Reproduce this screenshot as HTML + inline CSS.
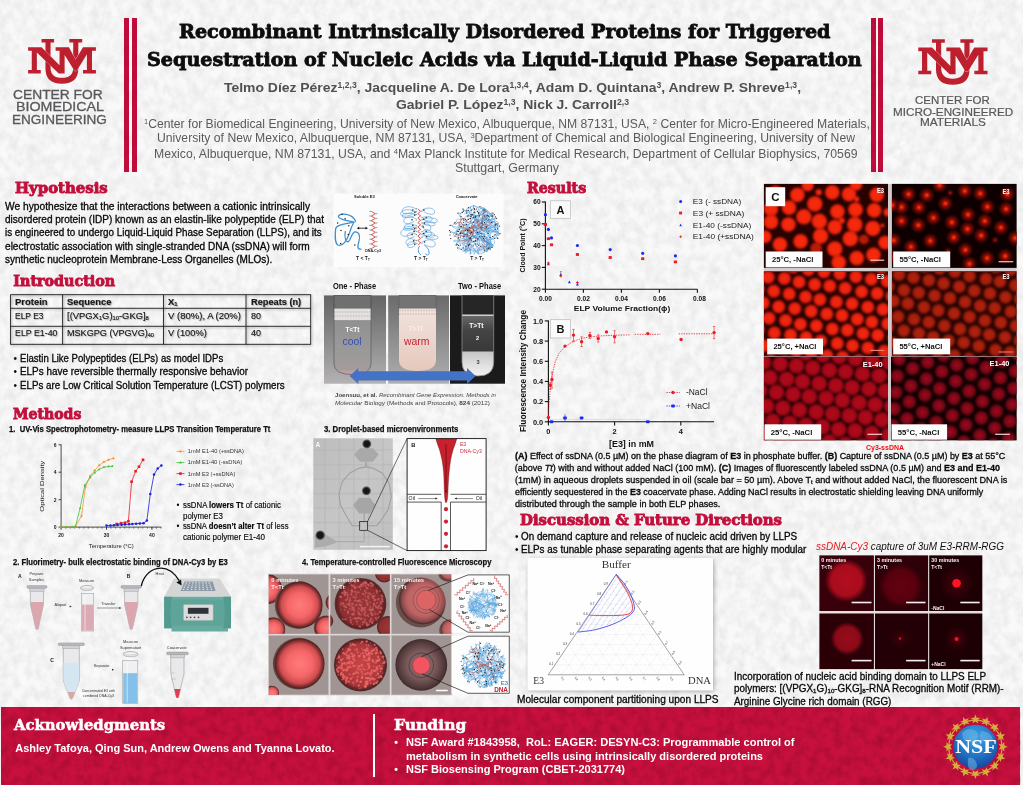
<!DOCTYPE html>
<html lang="en"><head><meta charset="utf-8"><title>Recombinant Intrinsically Disordered Proteins for Triggered Sequestration of Nucleic Acids via Liquid-Liquid Phase Separation</title>
<style>
html,body{margin:0;padding:0}
body{width:1023px;height:785px;overflow:hidden;background:#f9f9f9;position:relative;font-family:"Liberation Sans",sans-serif}
#poster{position:absolute;left:0;top:0;width:1023px;height:785px;overflow:hidden;background:#f9f9f9}
.t{position:absolute;white-space:nowrap;transform-origin:0 50%;z-index:5}
.t sup,.t sub{font-size:62%;line-height:0}
.t sup{vertical-align:0.5em}.t sub{vertical-align:-0.22em}
.a{position:absolute}
svg{position:absolute;overflow:visible}
svg text{font-family:"Liberation Sans",sans-serif}
</style></head><body><div id="poster">
<div class="a" style="left:124.4px;top:18px;width:4.8px;height:153.5px;background:#c40c3c"></div>
<div class="a" style="left:132.2px;top:18px;width:4.8px;height:153.5px;background:#c40c3c"></div>
<div class="a" style="left:870.6px;top:18px;width:5.0px;height:153.5px;background:#c40c3c"></div>
<div class="a" style="left:878.2px;top:18px;width:4.7px;height:153.5px;background:#c40c3c"></div>
<svg style="left:22.0px;top:34.0px" width="80.0" height="56.0" viewBox="0 0 1023 716"><title>UNM</title><g fill="#c1202f">
<path d="M250 65H410V110H365V430Q365 560 510 560Q655 560 655 430V110H605V65H770V110H720V440Q720 635 510 635Q300 635 300 440V110H250Z"/>
<path d="M78 170H250L480 400V215H430V170H600L685 330L780 170H945V215H895V460H945V505H780V460H830V260L700 470H670L545 270V505H470L190 235V460H240V505H78V460H125V215H78Z" stroke="#f7f7f7" stroke-width="9" paint-order="stroke"/>
</g></svg>
<svg style="left:912.3px;top:33.8px" width="81.8" height="57.2" viewBox="0 0 1023 716"><title>UNM</title><g fill="#c1202f">
<path d="M250 65H410V110H365V430Q365 560 510 560Q655 560 655 430V110H605V65H770V110H720V440Q720 635 510 635Q300 635 300 440V110H250Z"/>
<path d="M78 170H250L480 400V215H430V170H600L685 330L780 170H945V215H895V460H945V505H780V460H830V260L700 470H670L545 270V505H470L190 235V460H240V505H78V460H125V215H78Z" stroke="#f7f7f7" stroke-width="9" paint-order="stroke"/>
</g></svg>
<svg style="left:0;top:0" width="1023" height="785"><defs><filter id="paper" x="0" y="0" width="100%" height="100%" color-interpolation-filters="sRGB"><feTurbulence type="fractalNoise" baseFrequency="0.11 0.09" numOctaves="3" seed="7"/><feColorMatrix values="0 0 0 0 0  0 0 0 0 0  0 0 0 0 0  0.125 0 0 0 -0.04"/></filter><filter id="paper2" x="0" y="0" width="100%" height="100%" color-interpolation-filters="sRGB"><feTurbulence type="fractalNoise" baseFrequency="0.12 0.1" numOctaves="3" seed="11"/><feColorMatrix values="0 0 0 0 0.35  0 0 0 0 0  0 0 0 0 0.08  0.5 0 0 0 -0.17"/></filter></defs><rect width="1023" height="785" filter="url(#paper)"/></svg>
<svg style="left:0;top:0" width="1023" height="785"><g stroke="#1c1c1c" stroke-width="0.9" fill="none" style="filter:drop-shadow(1px 1.2px 1px rgba(0,0,0,.35))"><rect x="10.6" y="294.7" width="300.1" height="49.6"/><path d="M62.6 294.7V344.3"/><path d="M163.5 294.7V344.3"/><path d="M246.0 294.7V344.3"/><path d="M10.6 308.3H310.7"/><path d="M10.6 326.3H310.7"/></g></svg>
<svg style="left:0;top:0" width="1023" height="785"><defs><radialGradient id="g1"><stop offset="0" stop-color="#f82c0c"/><stop offset="0.8" stop-color="#f0260c"/><stop offset="1" stop-color="#a01206"/></radialGradient><radialGradient id="g2"><stop offset="0" stop-color="#ff4014"/><stop offset="0.15" stop-color="#e42208"/><stop offset="0.36" stop-color="#8c0e06"/><stop offset="0.65" stop-color="#4a0603"/><stop offset="1" stop-color="#4a0603" stop-opacity="0"/></radialGradient><radialGradient id="g3"><stop offset="0" stop-color="#f42812"/><stop offset="0.7" stop-color="#ea220e"/><stop offset="1" stop-color="#a81408"/></radialGradient><radialGradient id="g4"><stop offset="0" stop-color="#b2220f"/><stop offset="0.7" stop-color="#a61e0c"/><stop offset="1" stop-color="#6a1206"/></radialGradient><radialGradient id="g5"><stop offset="0" stop-color="#b00a1a"/><stop offset="0.8" stop-color="#a40818"/><stop offset="1" stop-color="#6a0510"/></radialGradient><radialGradient id="g6"><stop offset="0" stop-color="#c41024"/><stop offset="0.25" stop-color="#8c0818"/><stop offset="0.85" stop-color="#720616"/><stop offset="1" stop-color="#3a030a"/></radialGradient><clipPath id="cp0"><rect x="763.9" y="183.9" width="124.1" height="84.0"/></clipPath><clipPath id="cp1"><rect x="891.9" y="183.9" width="124.7" height="84.0"/></clipPath><clipPath id="cp2"><rect x="763.9" y="271.3" width="124.1" height="84.7"/></clipPath><clipPath id="cp3"><rect x="891.9" y="271.3" width="124.7" height="84.7"/></clipPath><clipPath id="cp4"><rect x="763.9" y="356.7" width="124.1" height="83.6"/></clipPath><clipPath id="cp5"><rect x="891.0" y="356.7" width="125.6" height="83.6"/></clipPath></defs><rect x="763.9" y="183.9" width="252.7" height="256.4" fill="#d4cccc"/><rect x="763.9" y="183.9" width="124.1" height="84.0" fill="#260301"/><rect x="891.9" y="183.9" width="124.7" height="84.0" fill="#0e0000"/><rect x="763.9" y="271.3" width="124.1" height="84.7" fill="#280301"/><rect x="891.9" y="271.3" width="124.7" height="84.7" fill="#2a0503"/><rect x="763.9" y="356.7" width="124.1" height="83.6" fill="#260205"/><rect x="891.0" y="356.7" width="125.6" height="83.6" fill="#100102"/><g clip-path="url(#cp0)"><g style="filter:blur(1.1px)"><circle cx="797.4" cy="194.8" r="7.6" fill="url(#g1)"/><circle cx="818.7" cy="192.3" r="3.3" fill="url(#g1)"/><circle cx="832.3" cy="192.3" r="7.6" fill="url(#g1)"/><circle cx="849.0" cy="194.2" r="7.6" fill="url(#g1)"/><circle cx="856.8" cy="199.1" r="2.8" fill="url(#g1)"/><circle cx="876.8" cy="194.8" r="7.6" fill="url(#g1)"/><circle cx="807.7" cy="185.2" r="6.3" fill="url(#g1)"/><circle cx="856.1" cy="184.5" r="6.3" fill="url(#g1)"/><circle cx="789.0" cy="207.7" r="7.6" fill="url(#g1)"/><circle cx="814.8" cy="203.9" r="8.0" fill="url(#g1)"/><circle cx="837.4" cy="211.6" r="7.6" fill="url(#g1)"/><circle cx="855.5" cy="209.7" r="7.6" fill="url(#g1)"/><circle cx="874.2" cy="210.3" r="7.6" fill="url(#g1)"/><circle cx="771.0" cy="209.0" r="7.6" fill="url(#g1)"/><circle cx="771.0" cy="221.9" r="7.6" fill="url(#g1)"/><circle cx="788.4" cy="224.5" r="7.6" fill="url(#g1)"/><circle cx="803.9" cy="216.8" r="8.0" fill="url(#g1)"/><circle cx="819.4" cy="221.3" r="8.0" fill="url(#g1)"/><circle cx="834.8" cy="227.1" r="7.6" fill="url(#g1)"/><circle cx="841.9" cy="220.6" r="3.1" fill="url(#g1)"/><circle cx="854.8" cy="224.5" r="8.0" fill="url(#g1)"/><circle cx="872.9" cy="228.4" r="8.0" fill="url(#g1)"/><circle cx="882.6" cy="225.4" r="2.0" fill="url(#g1)"/><circle cx="765.2" cy="236.8" r="6.7" fill="url(#g1)"/><circle cx="780.0" cy="244.5" r="7.6" fill="url(#g1)"/><circle cx="800.6" cy="241.3" r="7.6" fill="url(#g1)"/><circle cx="820.6" cy="236.1" r="8.0" fill="url(#g1)"/><circle cx="850.3" cy="238.7" r="8.0" fill="url(#g1)"/><circle cx="885.2" cy="242.6" r="7.2" fill="url(#g1)"/><circle cx="834.8" cy="249.0" r="8.0" fill="url(#g1)"/><circle cx="856.8" cy="258.1" r="7.6" fill="url(#g1)"/><circle cx="873.5" cy="254.8" r="7.6" fill="url(#g1)"/><circle cx="838.7" cy="262.6" r="7.6" fill="url(#g1)"/><circle cx="775.5" cy="192.3" r="7.0" fill="url(#g1)"/><circle cx="771.6" cy="194.2" r="5.7" fill="url(#g1)"/><circle cx="798.7" cy="257.4" r="5.7" fill="url(#g1)"/><circle cx="887.7" cy="212.3" r="4.4" fill="url(#g1)"/><circle cx="863.9" cy="239.6" r="4.9" fill="#b81a08"/><circle cx="816.1" cy="248.4" r="5.8" fill="#b81a08"/></g></g><g clip-path="url(#cp1)"><g style="filter:blur(0.6px)"><circle cx="908.6" cy="194.2" r="8.2" fill="url(#g2)"/><circle cx="926.7" cy="195.2" r="8.2" fill="url(#g2)"/><circle cx="964.8" cy="191.0" r="8.2" fill="url(#g2)"/><circle cx="980.3" cy="193.5" r="8.2" fill="url(#g2)"/><circle cx="1007.4" cy="194.2" r="8.2" fill="url(#g2)"/><circle cx="901.5" cy="207.1" r="8.2" fill="url(#g2)"/><circle cx="919.0" cy="207.4" r="8.2" fill="url(#g2)"/><circle cx="945.4" cy="203.5" r="8.2" fill="url(#g2)"/><circle cx="987.4" cy="206.8" r="8.2" fill="url(#g2)"/><circle cx="1006.1" cy="209.0" r="8.2" fill="url(#g2)"/><circle cx="891.9" cy="205.2" r="8.2" fill="url(#g2)"/><circle cx="901.5" cy="221.0" r="8.2" fill="url(#g2)"/><circle cx="918.3" cy="225.2" r="8.2" fill="url(#g2)"/><circle cx="933.4" cy="217.8" r="8.2" fill="url(#g2)"/><circle cx="951.9" cy="222.3" r="8.2" fill="url(#g2)"/><circle cx="968.0" cy="214.6" r="8.2" fill="url(#g2)"/><circle cx="984.8" cy="221.0" r="8.2" fill="url(#g2)"/><circle cx="1000.9" cy="227.5" r="8.2" fill="url(#g2)"/><circle cx="967.4" cy="229.0" r="8.2" fill="url(#g2)"/><circle cx="893.8" cy="240.4" r="8.2" fill="url(#g2)"/><circle cx="911.0" cy="246.8" r="8.2" fill="url(#g2)"/><circle cx="930.3" cy="240.9" r="8.2" fill="url(#g2)"/><circle cx="953.8" cy="237.4" r="8.2" fill="url(#g2)"/><circle cx="981.2" cy="235.5" r="8.2" fill="url(#g2)"/><circle cx="1015.1" cy="238.1" r="8.2" fill="url(#g2)"/><circle cx="965.4" cy="249.9" r="8.2" fill="url(#g2)"/><circle cx="987.1" cy="258.1" r="8.2" fill="url(#g2)"/><circle cx="1005.2" cy="256.1" r="8.2" fill="url(#g2)"/><circle cx="969.5" cy="263.9" r="8.2" fill="url(#g2)"/><circle cx="939.6" cy="185.2" r="8.2" fill="url(#g2)"/><circle cx="926.7" cy="262.6" r="8.2" fill="url(#g2)"/><circle cx="895.7" cy="257.4" r="8.2" fill="url(#g2)"/><circle cx="950.3" cy="192.9" r="4.2" fill="url(#g2)" opacity="0.6"/><circle cx="995.1" cy="240.0" r="4.2" fill="url(#g2)" opacity="0.6"/><circle cx="948.0" cy="251.0" r="4.2" fill="url(#g2)" opacity="0.6"/></g></g><g clip-path="url(#cp2)"><g style="filter:blur(0.8px)"><circle cx="881.5" cy="267.2" r="6.7" fill="url(#g3)"/><circle cx="793.2" cy="267.0" r="6.7" fill="url(#g3)"/><circle cx="808.4" cy="269.8" r="6.7" fill="url(#g3)"/><circle cx="824.0" cy="271.9" r="6.7" fill="url(#g3)"/><circle cx="839.8" cy="273.8" r="6.7" fill="url(#g3)"/><circle cx="855.9" cy="276.8" r="6.7" fill="url(#g3)"/><circle cx="871.3" cy="279.3" r="6.7" fill="url(#g3)"/><circle cx="887.1" cy="281.3" r="6.7" fill="url(#g3)"/><circle cx="768.2" cy="277.3" r="6.7" fill="url(#g3)"/><circle cx="784.4" cy="278.4" r="6.7" fill="url(#g3)"/><circle cx="799.1" cy="282.1" r="6.7" fill="url(#g3)"/><circle cx="814.7" cy="284.5" r="6.7" fill="url(#g3)"/><circle cx="829.8" cy="285.9" r="6.7" fill="url(#g3)"/><circle cx="845.2" cy="288.3" r="6.7" fill="url(#g3)"/><circle cx="861.6" cy="291.7" r="6.7" fill="url(#g3)"/><circle cx="877.2" cy="293.5" r="6.7" fill="url(#g3)"/><circle cx="892.1" cy="296.2" r="6.7" fill="url(#g3)"/><circle cx="758.3" cy="289.5" r="6.7" fill="url(#g3)"/><circle cx="773.8" cy="291.2" r="6.7" fill="url(#g3)"/><circle cx="789.3" cy="293.9" r="6.7" fill="url(#g3)"/><circle cx="805.6" cy="296.9" r="6.7" fill="url(#g3)"/><circle cx="819.9" cy="299.6" r="6.7" fill="url(#g3)"/><circle cx="836.4" cy="301.9" r="6.7" fill="url(#g3)"/><circle cx="852.1" cy="303.7" r="6.7" fill="url(#g3)"/><circle cx="867.8" cy="307.1" r="6.7" fill="url(#g3)"/><circle cx="883.1" cy="309.4" r="6.7" fill="url(#g3)"/><circle cx="763.3" cy="302.9" r="6.7" fill="url(#g3)"/><circle cx="778.7" cy="306.8" r="6.7" fill="url(#g3)"/><circle cx="794.8" cy="308.6" r="6.7" fill="url(#g3)"/><circle cx="811.2" cy="311.3" r="6.7" fill="url(#g3)"/><circle cx="826.8" cy="313.9" r="6.7" fill="url(#g3)"/><circle cx="842.1" cy="315.4" r="6.7" fill="url(#g3)"/><circle cx="857.3" cy="319.2" r="6.7" fill="url(#g3)"/><circle cx="871.9" cy="322.0" r="6.7" fill="url(#g3)"/><circle cx="887.7" cy="323.7" r="6.7" fill="url(#g3)"/><circle cx="769.0" cy="318.3" r="6.7" fill="url(#g3)"/><circle cx="785.6" cy="320.4" r="6.7" fill="url(#g3)"/><circle cx="800.4" cy="324.2" r="6.7" fill="url(#g3)"/><circle cx="816.4" cy="325.8" r="6.7" fill="url(#g3)"/><circle cx="832.4" cy="329.0" r="6.7" fill="url(#g3)"/><circle cx="847.4" cy="330.2" r="6.7" fill="url(#g3)"/><circle cx="863.0" cy="333.4" r="6.7" fill="url(#g3)"/><circle cx="877.8" cy="335.2" r="6.7" fill="url(#g3)"/><circle cx="894.0" cy="337.8" r="6.7" fill="url(#g3)"/><circle cx="758.4" cy="329.8" r="6.7" fill="url(#g3)"/><circle cx="774.4" cy="333.0" r="6.7" fill="url(#g3)"/><circle cx="790.6" cy="334.9" r="6.7" fill="url(#g3)"/><circle cx="806.1" cy="337.4" r="6.7" fill="url(#g3)"/><circle cx="820.8" cy="341.0" r="6.7" fill="url(#g3)"/><circle cx="837.3" cy="343.4" r="6.7" fill="url(#g3)"/><circle cx="852.6" cy="345.7" r="6.7" fill="url(#g3)"/><circle cx="867.9" cy="347.9" r="6.7" fill="url(#g3)"/><circle cx="884.4" cy="351.3" r="6.7" fill="url(#g3)"/><circle cx="764.3" cy="345.7" r="6.7" fill="url(#g3)"/><circle cx="779.7" cy="347.5" r="6.7" fill="url(#g3)"/><circle cx="796.4" cy="350.7" r="6.7" fill="url(#g3)"/><circle cx="811.2" cy="352.3" r="6.7" fill="url(#g3)"/><circle cx="827.0" cy="355.8" r="6.7" fill="url(#g3)"/><circle cx="842.6" cy="357.3" r="6.7" fill="url(#g3)"/><circle cx="858.8" cy="360.6" r="6.7" fill="url(#g3)"/><circle cx="770.5" cy="360.6" r="6.7" fill="url(#g3)"/><circle cx="785.3" cy="361.9" r="6.7" fill="url(#g3)"/></g></g><g clip-path="url(#cp3)"><g style="filter:blur(0.8px)"><circle cx="995.8" cy="266.9" r="6.7" fill="url(#g4)"/><circle cx="1010.6" cy="269.6" r="6.7" fill="url(#g4)"/><circle cx="923.9" cy="266.2" r="6.7" fill="url(#g4)"/><circle cx="939.6" cy="268.6" r="6.7" fill="url(#g4)"/><circle cx="954.9" cy="271.7" r="6.7" fill="url(#g4)"/><circle cx="969.5" cy="276.0" r="6.7" fill="url(#g4)"/><circle cx="986.0" cy="278.9" r="6.7" fill="url(#g4)"/><circle cx="1000.0" cy="281.6" r="6.7" fill="url(#g4)"/><circle cx="1015.5" cy="285.3" r="6.7" fill="url(#g4)"/><circle cx="899.0" cy="274.6" r="6.7" fill="url(#g4)"/><circle cx="913.5" cy="277.5" r="6.7" fill="url(#g4)"/><circle cx="928.9" cy="280.3" r="6.7" fill="url(#g4)"/><circle cx="943.6" cy="283.5" r="6.7" fill="url(#g4)"/><circle cx="959.3" cy="286.6" r="6.7" fill="url(#g4)"/><circle cx="974.3" cy="290.8" r="6.7" fill="url(#g4)"/><circle cx="990.0" cy="293.4" r="6.7" fill="url(#g4)"/><circle cx="1005.6" cy="297.2" r="6.7" fill="url(#g4)"/><circle cx="1020.2" cy="299.1" r="6.7" fill="url(#g4)"/><circle cx="888.2" cy="286.6" r="6.7" fill="url(#g4)"/><circle cx="904.0" cy="290.2" r="6.7" fill="url(#g4)"/><circle cx="918.8" cy="292.7" r="6.7" fill="url(#g4)"/><circle cx="934.6" cy="295.6" r="6.7" fill="url(#g4)"/><circle cx="949.9" cy="298.1" r="6.7" fill="url(#g4)"/><circle cx="965.1" cy="302.0" r="6.7" fill="url(#g4)"/><circle cx="980.1" cy="305.8" r="6.7" fill="url(#g4)"/><circle cx="994.7" cy="308.0" r="6.7" fill="url(#g4)"/><circle cx="1010.9" cy="311.7" r="6.7" fill="url(#g4)"/><circle cx="893.5" cy="301.1" r="6.7" fill="url(#g4)"/><circle cx="907.9" cy="303.6" r="6.7" fill="url(#g4)"/><circle cx="923.9" cy="307.2" r="6.7" fill="url(#g4)"/><circle cx="938.3" cy="310.5" r="6.7" fill="url(#g4)"/><circle cx="954.1" cy="313.4" r="6.7" fill="url(#g4)"/><circle cx="969.6" cy="316.8" r="6.7" fill="url(#g4)"/><circle cx="984.9" cy="320.6" r="6.7" fill="url(#g4)"/><circle cx="1000.8" cy="322.6" r="6.7" fill="url(#g4)"/><circle cx="1016.0" cy="325.8" r="6.7" fill="url(#g4)"/><circle cx="898.0" cy="316.7" r="6.7" fill="url(#g4)"/><circle cx="914.0" cy="319.2" r="6.7" fill="url(#g4)"/><circle cx="928.9" cy="322.2" r="6.7" fill="url(#g4)"/><circle cx="944.4" cy="325.7" r="6.7" fill="url(#g4)"/><circle cx="960.0" cy="329.0" r="6.7" fill="url(#g4)"/><circle cx="974.8" cy="331.7" r="6.7" fill="url(#g4)"/><circle cx="989.3" cy="334.6" r="6.7" fill="url(#g4)"/><circle cx="1005.0" cy="337.2" r="6.7" fill="url(#g4)"/><circle cx="1019.9" cy="340.7" r="6.7" fill="url(#g4)"/><circle cx="887.8" cy="327.2" r="6.7" fill="url(#g4)"/><circle cx="903.8" cy="330.8" r="6.7" fill="url(#g4)"/><circle cx="919.0" cy="333.4" r="6.7" fill="url(#g4)"/><circle cx="933.2" cy="337.1" r="6.7" fill="url(#g4)"/><circle cx="948.5" cy="340.7" r="6.7" fill="url(#g4)"/><circle cx="963.8" cy="342.6" r="6.7" fill="url(#g4)"/><circle cx="978.9" cy="346.0" r="6.7" fill="url(#g4)"/><circle cx="995.5" cy="350.0" r="6.7" fill="url(#g4)"/><circle cx="1010.3" cy="352.4" r="6.7" fill="url(#g4)"/><circle cx="892.3" cy="343.1" r="6.7" fill="url(#g4)"/><circle cx="907.6" cy="346.0" r="6.7" fill="url(#g4)"/><circle cx="922.7" cy="349.0" r="6.7" fill="url(#g4)"/><circle cx="938.0" cy="352.0" r="6.7" fill="url(#g4)"/><circle cx="954.2" cy="355.5" r="6.7" fill="url(#g4)"/><circle cx="969.0" cy="358.8" r="6.7" fill="url(#g4)"/><circle cx="984.3" cy="361.8" r="6.7" fill="url(#g4)"/><circle cx="897.5" cy="357.0" r="6.7" fill="url(#g4)"/><circle cx="913.3" cy="359.9" r="6.7" fill="url(#g4)"/></g></g><g clip-path="url(#cp4)"><g style="filter:blur(0.8px)"><circle cx="790.2" cy="350.4" r="8.0" fill="url(#g5)"/><circle cx="806.1" cy="352.9" r="8.0" fill="url(#g5)"/><circle cx="823.1" cy="354.7" r="8.0" fill="url(#g5)"/><circle cx="839.3" cy="356.4" r="8.0" fill="url(#g5)"/><circle cx="855.5" cy="358.7" r="8.0" fill="url(#g5)"/><circle cx="872.1" cy="360.4" r="8.0" fill="url(#g5)"/><circle cx="889.1" cy="362.3" r="8.0" fill="url(#g5)"/><circle cx="763.6" cy="362.2" r="8.0" fill="url(#g5)"/><circle cx="780.2" cy="364.0" r="8.0" fill="url(#g5)"/><circle cx="796.5" cy="365.8" r="8.0" fill="url(#g5)"/><circle cx="812.7" cy="367.9" r="8.0" fill="url(#g5)"/><circle cx="829.4" cy="370.2" r="8.0" fill="url(#g5)"/><circle cx="845.6" cy="371.8" r="8.0" fill="url(#g5)"/><circle cx="862.5" cy="373.9" r="8.0" fill="url(#g5)"/><circle cx="879.1" cy="375.7" r="8.0" fill="url(#g5)"/><circle cx="895.5" cy="377.9" r="8.0" fill="url(#g5)"/><circle cx="769.9" cy="377.6" r="8.0" fill="url(#g5)"/><circle cx="786.7" cy="379.2" r="8.0" fill="url(#g5)"/><circle cx="802.6" cy="381.5" r="8.0" fill="url(#g5)"/><circle cx="819.2" cy="383.4" r="8.0" fill="url(#g5)"/><circle cx="835.9" cy="385.5" r="8.0" fill="url(#g5)"/><circle cx="852.1" cy="387.4" r="8.0" fill="url(#g5)"/><circle cx="869.0" cy="388.9" r="8.0" fill="url(#g5)"/><circle cx="885.4" cy="391.0" r="8.0" fill="url(#g5)"/><circle cx="759.7" cy="390.7" r="8.0" fill="url(#g5)"/><circle cx="776.5" cy="392.3" r="8.0" fill="url(#g5)"/><circle cx="793.1" cy="394.3" r="8.0" fill="url(#g5)"/><circle cx="809.3" cy="396.5" r="8.0" fill="url(#g5)"/><circle cx="826.1" cy="398.2" r="8.0" fill="url(#g5)"/><circle cx="842.4" cy="400.3" r="8.0" fill="url(#g5)"/><circle cx="859.0" cy="402.7" r="8.0" fill="url(#g5)"/><circle cx="875.2" cy="404.6" r="8.0" fill="url(#g5)"/><circle cx="891.8" cy="406.3" r="8.0" fill="url(#g5)"/><circle cx="766.7" cy="406.1" r="8.0" fill="url(#g5)"/><circle cx="782.9" cy="408.0" r="8.0" fill="url(#g5)"/><circle cx="799.4" cy="410.1" r="8.0" fill="url(#g5)"/><circle cx="816.2" cy="412.0" r="8.0" fill="url(#g5)"/><circle cx="832.7" cy="413.8" r="8.0" fill="url(#g5)"/><circle cx="849.3" cy="415.5" r="8.0" fill="url(#g5)"/><circle cx="865.5" cy="417.4" r="8.0" fill="url(#g5)"/><circle cx="882.0" cy="419.9" r="8.0" fill="url(#g5)"/><circle cx="756.9" cy="418.8" r="8.0" fill="url(#g5)"/><circle cx="772.8" cy="421.3" r="8.0" fill="url(#g5)"/><circle cx="789.7" cy="423.2" r="8.0" fill="url(#g5)"/><circle cx="805.9" cy="425.3" r="8.0" fill="url(#g5)"/><circle cx="822.5" cy="426.8" r="8.0" fill="url(#g5)"/><circle cx="838.7" cy="429.4" r="8.0" fill="url(#g5)"/><circle cx="855.2" cy="430.8" r="8.0" fill="url(#g5)"/><circle cx="871.8" cy="433.3" r="8.0" fill="url(#g5)"/><circle cx="888.7" cy="435.2" r="8.0" fill="url(#g5)"/><circle cx="763.1" cy="434.1" r="8.0" fill="url(#g5)"/><circle cx="779.7" cy="436.7" r="8.0" fill="url(#g5)"/><circle cx="796.0" cy="438.3" r="8.0" fill="url(#g5)"/><circle cx="812.5" cy="440.2" r="8.0" fill="url(#g5)"/><circle cx="829.0" cy="442.1" r="8.0" fill="url(#g5)"/><circle cx="845.4" cy="444.4" r="8.0" fill="url(#g5)"/><circle cx="862.0" cy="446.0" r="8.0" fill="url(#g5)"/></g></g><g clip-path="url(#cp5)"><g style="filter:blur(0.8px)"><circle cx="899.1" cy="359.1" r="7.0" fill="url(#g6)"/><circle cx="914.9" cy="352.4" r="7.0" fill="url(#g6)"/><circle cx="897.3" cy="376.1" r="7.0" fill="url(#g6)"/><circle cx="912.7" cy="368.5" r="7.0" fill="url(#g6)"/><circle cx="927.7" cy="362.2" r="7.0" fill="url(#g6)"/><circle cx="943.6" cy="355.2" r="7.0" fill="url(#g6)"/><circle cx="895.8" cy="392.4" r="7.0" fill="url(#g6)"/><circle cx="910.9" cy="385.9" r="7.0" fill="url(#g6)"/><circle cx="926.4" cy="378.9" r="7.0" fill="url(#g6)"/><circle cx="941.8" cy="371.6" r="7.0" fill="url(#g6)"/><circle cx="956.8" cy="365.1" r="7.0" fill="url(#g6)"/><circle cx="972.5" cy="358.0" r="7.0" fill="url(#g6)"/><circle cx="988.4" cy="351.4" r="7.0" fill="url(#g6)"/><circle cx="894.2" cy="408.8" r="7.0" fill="url(#g6)"/><circle cx="909.3" cy="401.9" r="7.0" fill="url(#g6)"/><circle cx="925.0" cy="395.0" r="7.0" fill="url(#g6)"/><circle cx="939.7" cy="388.5" r="7.0" fill="url(#g6)"/><circle cx="955.7" cy="381.2" r="7.0" fill="url(#g6)"/><circle cx="971.1" cy="374.4" r="7.0" fill="url(#g6)"/><circle cx="986.2" cy="367.5" r="7.0" fill="url(#g6)"/><circle cx="1002.1" cy="361.3" r="7.0" fill="url(#g6)"/><circle cx="1017.5" cy="353.9" r="7.0" fill="url(#g6)"/><circle cx="892.6" cy="425.6" r="7.0" fill="url(#g6)"/><circle cx="907.0" cy="418.7" r="7.0" fill="url(#g6)"/><circle cx="922.5" cy="412.5" r="7.0" fill="url(#g6)"/><circle cx="938.9" cy="405.7" r="7.0" fill="url(#g6)"/><circle cx="953.9" cy="398.4" r="7.0" fill="url(#g6)"/><circle cx="969.1" cy="391.2" r="7.0" fill="url(#g6)"/><circle cx="984.6" cy="384.3" r="7.0" fill="url(#g6)"/><circle cx="1000.4" cy="377.9" r="7.0" fill="url(#g6)"/><circle cx="1015.4" cy="371.3" r="7.0" fill="url(#g6)"/><circle cx="890.3" cy="443.1" r="7.0" fill="url(#g6)"/><circle cx="905.5" cy="435.8" r="7.0" fill="url(#g6)"/><circle cx="921.0" cy="429.1" r="7.0" fill="url(#g6)"/><circle cx="936.3" cy="422.3" r="7.0" fill="url(#g6)"/><circle cx="952.4" cy="415.5" r="7.0" fill="url(#g6)"/><circle cx="967.2" cy="408.4" r="7.0" fill="url(#g6)"/><circle cx="982.5" cy="401.5" r="7.0" fill="url(#g6)"/><circle cx="998.6" cy="394.1" r="7.0" fill="url(#g6)"/><circle cx="1013.9" cy="388.2" r="7.0" fill="url(#g6)"/><circle cx="919.7" cy="445.9" r="7.0" fill="url(#g6)"/><circle cx="935.1" cy="438.9" r="7.0" fill="url(#g6)"/><circle cx="950.8" cy="432.1" r="7.0" fill="url(#g6)"/><circle cx="966.0" cy="424.9" r="7.0" fill="url(#g6)"/><circle cx="981.4" cy="418.0" r="7.0" fill="url(#g6)"/><circle cx="996.5" cy="411.3" r="7.0" fill="url(#g6)"/><circle cx="1012.2" cy="404.6" r="7.0" fill="url(#g6)"/><circle cx="963.9" cy="442.0" r="7.0" fill="url(#g6)"/><circle cx="979.8" cy="435.4" r="7.0" fill="url(#g6)"/><circle cx="994.8" cy="428.0" r="7.0" fill="url(#g6)"/><circle cx="1010.0" cy="421.2" r="7.0" fill="url(#g6)"/><circle cx="993.4" cy="444.6" r="7.0" fill="url(#g6)"/><circle cx="1008.6" cy="438.5" r="7.0" fill="url(#g6)"/></g></g><rect x="765.7" y="251.5" width="56.8" height="15.9" fill="#fdfdfd"/><text x="771.9" y="262.1" font-size="7.6" font-weight="700" fill="#111" textLength="41.5" lengthAdjust="spacingAndGlyphs">25°C, -NaCl</text><rect x="893.2" y="251.5" width="57.0" height="15.9" fill="#fdfdfd"/><text x="899.4" y="262.1" font-size="7.6" font-weight="700" fill="#111" textLength="41.5" lengthAdjust="spacingAndGlyphs">55°C, -NaCl</text><rect x="767.2" y="338.6" width="55.8" height="15.7" fill="#fdfdfd"/><text x="773.4" y="349.2" font-size="7.6" font-weight="700" fill="#111" textLength="43.0" lengthAdjust="spacingAndGlyphs">25°C, +NaCl</text><rect x="893.2" y="338.6" width="57.0" height="15.7" fill="#fdfdfd"/><text x="899.4" y="349.2" font-size="7.6" font-weight="700" fill="#111" textLength="43.0" lengthAdjust="spacingAndGlyphs">55°C, +NaCl</text><rect x="764.6" y="424.3" width="56.6" height="15.4" fill="#fdfdfd"/><text x="770.8" y="434.7" font-size="7.6" font-weight="700" fill="#111" textLength="41.5" lengthAdjust="spacingAndGlyphs">25°C, -NaCl</text><rect x="891.6" y="424.3" width="55.5" height="15.4" fill="#fdfdfd"/><text x="897.8" y="434.7" font-size="7.6" font-weight="700" fill="#111" textLength="41.5" lengthAdjust="spacingAndGlyphs">55°C, -NaCl</text><rect x="765.7" y="187.2" width="19.5" height="19" fill="#fdfdfd"/><text x="775.5" y="201" font-size="11.5" font-weight="700" text-anchor="middle" fill="#111">C</text><text x="880.5" y="193.0" font-size="6.8" font-weight="700" text-anchor="middle" fill="#fff" textLength="7.2" lengthAdjust="spacingAndGlyphs">E3</text><text x="1006.0" y="193.6" font-size="6.8" font-weight="700" text-anchor="middle" fill="#fff" textLength="7.2" lengthAdjust="spacingAndGlyphs">E3</text><text x="880.5" y="278.5" font-size="6.8" font-weight="700" text-anchor="middle" fill="#fff" textLength="7.2" lengthAdjust="spacingAndGlyphs">E3</text><text x="1006.0" y="279.0" font-size="6.8" font-weight="700" text-anchor="middle" fill="#fff" textLength="7.2" lengthAdjust="spacingAndGlyphs">E3</text><text x="872.7" y="366.7" font-size="6.8" font-weight="700" text-anchor="middle" fill="#fff" textLength="19.8" lengthAdjust="spacingAndGlyphs">E1-40</text><text x="999.5" y="366.2" font-size="6.8" font-weight="700" text-anchor="middle" fill="#fff" textLength="19.8" lengthAdjust="spacingAndGlyphs">E1-40</text><path d="M870.5 260.2H884.2" stroke="#f4d0cc" stroke-width="1.2"/><path d="M998.6 261.7H1013.2" stroke="#f0c8c4" stroke-width="1.2"/><path d="M870.5 350.4H884.2" stroke="#e88078" stroke-width="1.2"/><path d="M998.6 352.0H1013.2" stroke="#e07068" stroke-width="1.2"/><path d="M867.5 434.3H882.1" stroke="#f0d0d0" stroke-width="1.2"/><path d="M995.2 434.3H1009.9" stroke="#f0d8d8" stroke-width="1.2"/></svg>
<svg style="left:0;top:0" width="1023" height="785"><g stroke="#111" stroke-width="1.1" fill="none"><path d="M545.4 201.5V289.2H697.4"/><path d="M545.4 202.0h-3.6"/><path d="M545.4 223.8h-3.6"/><path d="M545.4 245.6h-3.6"/><path d="M545.4 267.4h-3.6"/><path d="M545.4 289.2h-3.6"/><path d="M545.4 289.2v3.6"/><path d="M583.4 289.2v3.6"/><path d="M621.4 289.2v3.6"/><path d="M659.4 289.2v3.6"/><path d="M697.4 289.2v3.6"/></g><g font-size="6.6" font-weight="700" fill="#111" text-anchor="end"><text x="540.6" y="204.4">60</text><text x="540.6" y="226.2">50</text><text x="540.6" y="248.0">40</text><text x="540.6" y="269.8">30</text><text x="540.6" y="291.6">20</text></g><g font-size="6.6" font-weight="700" fill="#111" text-anchor="middle"><text x="545.4" y="300.6">0.00</text><text x="583.4" y="300.6">0.02</text><text x="621.4" y="300.6">0.04</text><text x="659.4" y="300.6">0.06</text><text x="699.4" y="300.6">0.08</text><text x="622" y="310.8" font-size="6.9" textLength="96.5" lengthAdjust="spacingAndGlyphs">ELP Volume Fraction(ϕ)</text><text transform="translate(525.2 245.5) rotate(-90)" font-size="6.9" font-weight="700" textLength="54" lengthAdjust="spacingAndGlyphs">Cloud Point (°C)</text></g><rect x="550.3" y="200.8" width="20.3" height="17.8" fill="#fafafa" stroke="#b8b8b8" stroke-width="0.7"/><text x="560.5" y="214" font-size="11" font-weight="700" text-anchor="middle" fill="#111">A</text><rect x="543.8" y="223.1" width="3.2" height="2.8" fill="#ee1c25"/><rect x="546.8" y="237.3" width="3.2" height="2.8" fill="#ee1c25"/><rect x="549.9" y="243.4" width="3.2" height="2.8" fill="#ee1c25"/><rect x="575.8" y="253.1" width="3.2" height="2.8" fill="#ee1c25"/><rect x="608.6" y="256.1" width="3.2" height="2.8" fill="#ee1c25"/><rect x="641.1" y="257.3" width="3.2" height="2.8" fill="#ee1c25"/><rect x="673.8" y="260.5" width="3.2" height="2.8" fill="#ee1c25"/><circle cx="545.4" cy="214.7" r="1.6" fill="#1f2cf0"/><circle cx="548.4" cy="229.4" r="1.6" fill="#1f2cf0"/><circle cx="551.5" cy="237.9" r="1.6" fill="#1f2cf0"/><circle cx="577.4" cy="245.5" r="1.6" fill="#1f2cf0"/><circle cx="610.2" cy="249.6" r="1.6" fill="#1f2cf0"/><circle cx="642.7" cy="253.3" r="1.6" fill="#1f2cf0"/><circle cx="675.4" cy="255.8" r="1.6" fill="#1f2cf0"/><path d="M548.4 262.7l1.5 2.6h-3z" fill="#1f2cf0"/><path d="M560.8 273.2l1.5 2.6h-3z" fill="#1f2cf0"/><path d="M569.4 280.6l1.5 2.6h-3z" fill="#1f2cf0"/><path d="M577.4 283.0l1.5 2.6h-3z" fill="#1f2cf0"/><path d="M547.0 263.1h2.8M548.4 261.7v2.8" stroke="#ee1c25" stroke-width="1"/><path d="M559.4 276.0h2.8M560.8 274.6v2.8" stroke="#ee1c25" stroke-width="1"/><path d="M576.0 282.6h2.8M577.4 281.2v2.8" stroke="#ee1c25" stroke-width="1"/><path d="M560.8 271.6v3.5M559.8 271.6h2" stroke="#334" stroke-width="0.5"/><circle cx="680.6" cy="201.5" r="1.5" fill="#1f2cf0"/><rect x="679.1" y="211.6" width="3" height="2.8" fill="#ee1c25"/><path d="M680.6 223.8l1.3 2.4h-2.6z" fill="#1f2cf0"/><path d="M679.4 236.7h2.4M680.6 235.5v2.4" stroke="#ee1c25" stroke-width="0.9"/><g font-size="7.2" fill="#222"><text x="692.8" y="204.0" textLength="48.5" lengthAdjust="spacingAndGlyphs">E3 (- ssDNA)</text><text x="692.8" y="215.5" textLength="51.5" lengthAdjust="spacingAndGlyphs">E3 (+ ssDNA)</text><text x="692.8" y="227.7" textLength="58.5" lengthAdjust="spacingAndGlyphs">E1-40 (-ssDNA)</text><text x="692.8" y="239.2" textLength="61.0" lengthAdjust="spacingAndGlyphs">E1-40 (+ssDNA)</text></g></svg>
<svg style="left:0;top:0" width="1023" height="785"><g stroke="#111" stroke-width="1.1" fill="none"><path d="M548.4 320.4V421.8H714.0"/><path d="M548.4 320.9h-3.6"/><path d="M548.4 341.1h-3.6"/><path d="M548.4 361.3h-3.6"/><path d="M548.4 381.4h-3.6"/><path d="M548.4 401.6h-3.6"/><path d="M548.4 421.8h-3.6"/><path d="M548.4 421.8v3.6"/><path d="M614.6 421.8v3.6"/><path d="M680.8 421.8v3.6"/></g><g font-size="7.4" font-weight="700" fill="#111" text-anchor="end"><text x="543.2" y="323.6">1.0</text><text x="543.2" y="343.8">0.8</text><text x="543.2" y="364.0">0.6</text><text x="543.2" y="384.1">0.4</text><text x="543.2" y="404.3">0.2</text><text x="543.2" y="424.5">0.0</text></g><g font-size="7.4" font-weight="700" fill="#111" text-anchor="middle"><text x="548.4" y="434.2">0</text><text x="614.6" y="434.2">2</text><text x="680.8" y="434.2">4</text><text x="631.5" y="447.3" font-size="8.2" textLength="45" lengthAdjust="spacingAndGlyphs">[E3] in mM</text><text transform="translate(525.6 371) rotate(-90)" font-size="8.2" font-weight="700" textLength="122" lengthAdjust="spacingAndGlyphs">Fluorescence Intensity Change</text></g><rect x="550.3" y="319.7" width="20.3" height="18.3" fill="#fafafa" stroke="#b8b8b8" stroke-width="0.7"/><text x="560.5" y="333" font-size="11" font-weight="700" text-anchor="middle" fill="#111">B</text><polyline points="548.4,417.4 549.1,402.8 550.3,388.1 552.0,375.9 555.2,361.7 558.9,353.4 565.0,346.5 573.5,341.2 583.3,338.0 595.5,336.3 607.8,335.5 620.0,335.1 629.7,334.8" fill="none" stroke="#ee1c25" stroke-width="0.8" stroke-dasharray="1.4 1.1"/><path d="M634.6 334.3H660.3" stroke="#ee1c25" stroke-width="0.8" stroke-dasharray="1.4 1.1"/><path d="M678.6 333.8H714.1" stroke="#ee1c25" stroke-width="0.8" stroke-dasharray="1.4 1.1"/><path d="M548.4 419.4H646.9" stroke="#999" stroke-width="0.5" stroke-dasharray="1 1"/><path d="M552.0 372.2V388.1M550.8 372.2h2.4M550.8 388.1h2.4" stroke="#ee1c25" stroke-width="0.6"/><path d="M573.5 329.4V341.7M572.3 329.4h2.4M572.3 341.7h2.4" stroke="#ee1c25" stroke-width="0.6"/><path d="M581.6 336.8V346.5M580.4 336.8h2.4M580.4 346.5h2.4" stroke="#ee1c25" stroke-width="0.6"/><path d="M589.9 332.4V338.7M588.7 332.4h2.4M588.7 338.7h2.4" stroke="#ee1c25" stroke-width="0.6"/><path d="M598.2 334.8V342.1M597.0 334.8h2.4M597.0 342.1h2.4" stroke="#ee1c25" stroke-width="0.6"/><path d="M614.6 330.7V342.9M613.4 330.7h2.4M613.4 342.9h2.4" stroke="#ee1c25" stroke-width="0.6"/><path d="M714.1 326.5V338.7M712.9 326.5h2.4M712.9 338.7h2.4" stroke="#ee1c25" stroke-width="0.6"/><path d="M550.3 382.7V389.3M549.1 382.7h2.4M549.1 389.3h2.4" stroke="#ee1c25" stroke-width="0.6"/><circle cx="548.4" cy="417.4" r="1.7" fill="#ee1c25"/><circle cx="550.3" cy="385.2" r="1.7" fill="#ee1c25"/><circle cx="552.0" cy="379.5" r="1.7" fill="#ee1c25"/><circle cx="565.0" cy="346.1" r="1.7" fill="#ee1c25"/><circle cx="573.5" cy="335.1" r="1.7" fill="#ee1c25"/><circle cx="581.6" cy="341.7" r="1.7" fill="#ee1c25"/><circle cx="589.9" cy="335.5" r="1.7" fill="#ee1c25"/><circle cx="598.2" cy="338.5" r="1.7" fill="#ee1c25"/><circle cx="606.5" cy="331.9" r="1.7" fill="#ee1c25"/><circle cx="614.6" cy="336.8" r="1.7" fill="#ee1c25"/><circle cx="647.8" cy="333.6" r="1.7" fill="#ee1c25"/><circle cx="681.1" cy="339.5" r="1.7" fill="#ee1c25"/><circle cx="714.1" cy="332.6" r="1.7" fill="#ee1c25"/><path d="M565.0 414.2V421.8" stroke="#1f2cf0" stroke-width="0.6"/><rect x="549.7" y="420.3" width="3.6" height="3" rx="0.8" fill="#1f2cf0"/><rect x="563.2" y="416.4" width="3.6" height="3" rx="0.8" fill="#1f2cf0"/><rect x="579.8" y="416.4" width="3.6" height="3" rx="0.8" fill="#1f2cf0"/><rect x="646.0" y="420.3" width="3.6" height="3" rx="0.8" fill="#1f2cf0"/><path d="M666.4 392.5H679.8" stroke="#ee1c25" stroke-width="0.8" stroke-dasharray="1.4 1.1"/><circle cx="673" cy="392.5" r="1.7" fill="#ee1c25"/><path d="M666.4 406H679.8" stroke="#1f2cf0" stroke-width="0.8" stroke-dasharray="1.4 1.1"/><rect x="671.2" y="404.5" width="3.6" height="3" rx="0.8" fill="#1f2cf0"/><text x="686" y="395.4" font-size="8.2" fill="#222" textLength="21.5" lengthAdjust="spacingAndGlyphs">-NaCl</text><text x="686" y="408.9" font-size="8.2" fill="#222" textLength="24" lengthAdjust="spacingAndGlyphs">+NaCl</text></svg>
<svg style="left:0;top:0" width="1023" height="785"><rect x="333.5" y="193.5" width="170" height="73.6" fill="#fcfcfc"/><path d="M355.5 221C352 213 340 213 338.5 216C337.5 219.5 350 221 354 222C347 224 336 224 335.6 229C335 236 334.5 243 338 245C343 247 347 240 349.5 233C351 228 352.5 224.5 354 222M345.3 231.5C344 237 346 243 348.5 241.5C351 239.5 351.5 232.5 355 231.8C359 231.5 360.5 236 359 241C357.5 246 357 249.5 361 249.2" fill="none" stroke="#3b8fd0" stroke-width="1.25" stroke-linecap="round"/><circle cx="342.0" cy="214.2" r="0.75" fill="#222"/><circle cx="345.1" cy="218.8" r="0.75" fill="#222"/><circle cx="337.6" cy="223.1" r="0.75" fill="#222"/><circle cx="348.7" cy="225.7" r="0.75" fill="#222"/><circle cx="341.0" cy="230.6" r="0.75" fill="#222"/><circle cx="348.3" cy="234.5" r="0.75" fill="#222"/><circle cx="340.7" cy="243.5" r="0.75" fill="#222"/><circle cx="354.8" cy="245.0" r="0.75" fill="#222"/><path d="M358 228.2h8.6" stroke="#111" stroke-width="0.8"/><path d="M356.8 228.2l2.4-1.4v2.8zM367.9 228.2l-2.4-1.4v2.8z" fill="#111"/><path d="M371.3 211.4 L375.3 213.7 L371.3 216.1 L375.3 218.4 L371.3 220.7 L375.3 223.0 L371.3 225.3 L375.3 227.7 L371.3 230.0 L375.3 232.3 L371.3 234.7 L375.3 237.0 L371.3 239.3 L375.3 241.6 L371.3 243.9 L375.3 246.3 L371.3 248.6" fill="none" stroke="#cf4a46" stroke-width="0.9"/><path d="M369.4 211.4h1.8" stroke="#222" stroke-width="0.45"/><path d="M375.6 213.7h1.8" stroke="#222" stroke-width="0.45"/><path d="M369.4 216.0h1.8" stroke="#222" stroke-width="0.45"/><path d="M375.6 218.4h1.8" stroke="#222" stroke-width="0.45"/><path d="M369.4 220.7h1.8" stroke="#222" stroke-width="0.45"/><path d="M375.6 223.0h1.8" stroke="#222" stroke-width="0.45"/><path d="M369.4 225.3h1.8" stroke="#222" stroke-width="0.45"/><path d="M375.6 227.6h1.8" stroke="#222" stroke-width="0.45"/><path d="M369.4 230.0h1.8" stroke="#222" stroke-width="0.45"/><path d="M375.6 232.3h1.8" stroke="#222" stroke-width="0.45"/><path d="M369.4 234.6h1.8" stroke="#222" stroke-width="0.45"/><path d="M375.6 236.9h1.8" stroke="#222" stroke-width="0.45"/><path d="M369.4 239.2h1.8" stroke="#222" stroke-width="0.45"/><path d="M375.6 241.6h1.8" stroke="#222" stroke-width="0.45"/><path d="M369.4 243.9h1.8" stroke="#222" stroke-width="0.45"/><path d="M375.6 246.2h1.8" stroke="#222" stroke-width="0.45"/><path d="M369.4 248.5h1.8" stroke="#222" stroke-width="0.45"/><g font-weight="700" text-anchor="middle" fill="#1a1a1a"><text x="373.1" y="252.4" font-size="3.6" textLength="15.8" lengthAdjust="spacingAndGlyphs">DNA-Cy3</text><text x="364.4" y="198" font-size="4" textLength="20.9" lengthAdjust="spacingAndGlyphs">Soluble E3</text><text x="466.6" y="197.6" font-size="4" textLength="21.9" lengthAdjust="spacingAndGlyphs">Coacervate</text><text x="362.9" y="260.3" font-size="5" fill="#222">T &lt; T<tspan font-size="3" dy="1">T</tspan></text><text x="420.8" y="260.3" font-size="5" fill="#222">T &gt; T<tspan font-size="3" dy="1">T</tspan></text><text x="477.0" y="260.3" font-size="5" fill="#222">T &gt; T<tspan font-size="3" dy="1">T</tspan></text></g><path d="M417.8 209.1 L420.6 211.3 L417.8 213.6 L420.6 215.8 L417.8 218.1 L420.6 220.3 L417.8 222.6 L420.6 224.8 L417.8 227.1 L420.6 229.3 L417.8 231.5 L420.6 233.8 L417.8 236.0 L420.6 238.3 L417.8 240.5 L420.6 242.8 L417.8 245.0" fill="none" stroke="#cf4a46" stroke-width="0.9"/><path d="M416.8 209.4c-7.3 -4.9 -14.6 -2.4 -14.6 1.5s5.8 3.9 11.7 0.3" fill="none" stroke="#4a9ad8" stroke-width="0.6"/><circle cx="412.7" cy="210.1" r="0.8" fill="#222"/><path d="M417.2 208.5h-1.4" stroke="#333" stroke-width="0.4"/><path d="M416.8 212.2c-8.0 -4.4 -16.1 -2.2 -16.1 1.3s6.4 3.6 12.9 0.3" fill="none" stroke="#4a9ad8" stroke-width="0.6"/><circle cx="414.9" cy="212.2" r="0.8" fill="#222"/><path d="M417.2 211.4h-1.4" stroke="#333" stroke-width="0.4"/><path d="M421.6 210.4c6.5 -4.2 13.1 -2.1 13.1 1.3s-5.2 3.4 -10.5 0.3" fill="none" stroke="#4a9ad8" stroke-width="0.6"/><circle cx="423.9" cy="210.1" r="0.8" fill="#222"/><path d="M421.2 211.4h1.4" stroke="#333" stroke-width="0.4"/><path d="M416.8 214.9c-7.4 -3.0 -14.7 -1.5 -14.7 0.9s5.9 2.4 11.8 0.3" fill="none" stroke="#4a9ad8" stroke-width="0.6"/><circle cx="414.8" cy="215.1" r="0.8" fill="#222"/><path d="M417.2 214.3h-1.4" stroke="#333" stroke-width="0.4"/><path d="M421.6 218.2c5.3 -3.1 10.6 -1.6 10.6 0.9s-4.2 2.5 -8.5 0.3" fill="none" stroke="#4a9ad8" stroke-width="0.6"/><circle cx="426.2" cy="217.8" r="0.8" fill="#222"/><path d="M421.2 217.2h1.4" stroke="#333" stroke-width="0.4"/><path d="M416.8 219.5c-6.5 -4.5 -13.0 -2.3 -13.0 1.4s5.2 3.6 10.4 0.3" fill="none" stroke="#4a9ad8" stroke-width="0.6"/><circle cx="412.0" cy="219.8" r="0.8" fill="#222"/><path d="M417.2 220.1h-1.4" stroke="#333" stroke-width="0.4"/><path d="M421.6 219.8c7.9 -3.4 15.7 -1.7 15.7 1.0s-6.3 2.7 -12.6 0.3" fill="none" stroke="#4a9ad8" stroke-width="0.6"/><circle cx="423.7" cy="219.3" r="0.8" fill="#222"/><path d="M421.2 220.1h1.4" stroke="#333" stroke-width="0.4"/><path d="M421.6 223.4c6.8 -2.5 13.5 -1.3 13.5 0.8s-5.4 2.0 -10.8 0.3" fill="none" stroke="#4a9ad8" stroke-width="0.6"/><circle cx="424.3" cy="223.1" r="0.8" fill="#222"/><path d="M421.2 223.0h1.4" stroke="#333" stroke-width="0.4"/><path d="M416.8 225.9c-6.3 -3.4 -12.6 -1.7 -12.6 1.0s5.0 2.8 10.1 0.3" fill="none" stroke="#4a9ad8" stroke-width="0.6"/><circle cx="412.8" cy="225.2" r="0.8" fill="#222"/><path d="M417.2 225.9h-1.4" stroke="#333" stroke-width="0.4"/><path d="M421.6 226.6c4.6 -4.7 9.2 -2.4 9.2 1.4s-3.7 3.8 -7.3 0.3" fill="none" stroke="#4a9ad8" stroke-width="0.6"/><circle cx="423.2" cy="227.1" r="0.8" fill="#222"/><path d="M421.2 225.9h1.4" stroke="#333" stroke-width="0.4"/><path d="M416.8 227.9c-6.7 -2.5 -13.3 -1.3 -13.3 0.8s5.3 2.0 10.7 0.3" fill="none" stroke="#4a9ad8" stroke-width="0.6"/><circle cx="414.7" cy="228.6" r="0.8" fill="#222"/><path d="M417.2 228.8h-1.4" stroke="#333" stroke-width="0.4"/><path d="M416.8 231.4c-8.0 -5.3 -16.0 -2.7 -16.0 1.6s6.4 4.3 12.8 0.3" fill="none" stroke="#4a9ad8" stroke-width="0.6"/><circle cx="414.1" cy="231.4" r="0.8" fill="#222"/><path d="M417.2 231.7h-1.4" stroke="#333" stroke-width="0.4"/><path d="M421.6 232.3c4.9 -4.7 9.8 -2.4 9.8 1.4s-3.9 3.8 -7.8 0.3" fill="none" stroke="#4a9ad8" stroke-width="0.6"/><circle cx="426.1" cy="231.6" r="0.8" fill="#222"/><path d="M421.2 231.7h1.4" stroke="#333" stroke-width="0.4"/><path d="M416.8 234.8c-4.8 -3.5 -9.7 -1.8 -9.7 1.1s3.9 2.8 7.7 0.3" fill="none" stroke="#4a9ad8" stroke-width="0.6"/><circle cx="412.1" cy="234.6" r="0.8" fill="#222"/><path d="M417.2 234.6h-1.4" stroke="#333" stroke-width="0.4"/><path d="M421.6 234.2c6.5 -3.4 13.1 -1.7 13.1 1.0s-5.2 2.7 -10.5 0.3" fill="none" stroke="#4a9ad8" stroke-width="0.6"/><circle cx="423.7" cy="233.6" r="0.8" fill="#222"/><path d="M421.2 234.6h1.4" stroke="#333" stroke-width="0.4"/><path d="M421.6 236.6c8.2 -3.0 16.5 -1.5 16.5 0.9s-6.6 2.4 -13.2 0.3" fill="none" stroke="#4a9ad8" stroke-width="0.6"/><circle cx="426.6" cy="236.7" r="0.8" fill="#222"/><path d="M421.2 237.5h1.4" stroke="#333" stroke-width="0.4"/><path d="M416.8 241.1c-5.4 -4.3 -10.8 -2.1 -10.8 1.3s4.3 3.4 8.6 0.3" fill="none" stroke="#4a9ad8" stroke-width="0.6"/><circle cx="413.7" cy="240.9" r="0.8" fill="#222"/><path d="M417.2 240.4h-1.4" stroke="#333" stroke-width="0.4"/><path d="M416.8 244.0c-4.6 -4.0 -9.2 -2.0 -9.2 1.2s3.7 3.2 7.4 0.3" fill="none" stroke="#4a9ad8" stroke-width="0.6"/><circle cx="414.8" cy="244.3" r="0.8" fill="#222"/><path d="M417.2 243.3h-1.4" stroke="#333" stroke-width="0.4"/><path d="M421.6 242.5c6.9 -4.9 13.7 -2.4 13.7 1.5s-5.5 3.9 -11.0 0.3" fill="none" stroke="#4a9ad8" stroke-width="0.6"/><circle cx="424.6" cy="242.0" r="0.8" fill="#222"/><path d="M421.2 243.3h1.4" stroke="#333" stroke-width="0.4"/><path d="M419.5 246c-2 3-1.5 7 1.5 9M424.5 245.5c2 1 5 4 4.5 8c-.5 2-3 2-3.5 0" fill="none" stroke="#3b8fd0" stroke-width="0.9"/><path d="M483.4 225.3 L482.1 224.4 L481.6 222.9 L482.4 221.5 L483.1 220.0 L483.7 218.6 L484.9 217.5 L486.0 216.4 L486.7 214.9 L487.1 213.3 L486.5 211.9 L485.5 210.6 L486.0 209.0 L485.0 210.3 L484.0 211.5 L483.4 213.0 L483.9 214.5 L485.1 215.6 L485.5 217.2 L484.9 218.7 L484.6 220.3 L483.6 221.5 L482.2 222.2 L480.6 222.3 L479.0 221.9 L477.8 220.9 L476.4 220.2 L475.3 219.0 L473.8 218.3 L472.3 217.7 L471.3 216.5 L470.8 215.0 L469.7 213.7 L469.9 212.2 L470.5 210.7 L471.2 209.3 L470.6 207.8 L470.2 206.2 L470.2 207.8 L470.3 209.4 L469.6 210.8 L468.5 212.0 L467.0 212.5 L465.6 213.3 L464.1 213.8" fill="none" stroke="#4597d6" stroke-width="0.5" opacity="0.9"/><path d="M480.7 238.6 L479.2 239.1 L477.7 238.6 L476.5 237.6 L476.4 236.0 L477.6 234.9 L478.7 233.8 L479.9 232.7 L480.4 231.2 L481.6 230.2 L483.2 230.3 L484.8 230.4 L486.3 231.0 L487.4 232.2 L488.0 233.7 L489.3 234.6 L490.0 236.0 L490.4 237.5 L490.5 239.1 L490.7 240.7 L490.6 242.3 L489.7 243.7 L488.5 244.8 L487.0 245.3 L486.5 246.8 L486.9 248.4 L487.4 249.9 L487.6 251.5 L487.1 250.0 L486.9 248.4 L485.7 247.4 L484.3 246.5 L482.8 246.3 L481.5 247.3 L481.2 248.9 L481.3 250.5 L482.3 251.7 L483.9 252.2 L485.3 251.5 L486.6 250.6 L487.8 249.5 L489.1 248.6 L490.6 248.0 L491.6 246.8 L493.2 246.5" fill="none" stroke="#4597d6" stroke-width="0.5" opacity="0.9"/><path d="M462.3 228.0 L462.3 229.6 L463.3 230.9 L463.4 232.5 L463.9 234.0 L465.4 234.7 L466.6 235.6 L468.2 235.5 L469.8 235.4 L471.4 235.0 L472.9 234.7 L474.2 235.7 L474.7 237.2 L475.5 238.6 L475.3 240.2 L474.8 241.7 L474.6 243.3 L475.4 244.7 L476.0 246.2 L476.4 247.7 L475.5 249.1 L473.9 249.3 L472.3 249.3 L470.8 249.6 L469.4 248.9 L467.9 249.5 L467.2 251.0 L466.3 252.3 L465.2 253.5 L466.0 252.1 L467.6 251.6 L468.9 250.7 L470.2 249.7 L470.8 248.2 L470.8 246.6 L472.0 245.6 L473.0 244.3 L474.6 244.2 L475.9 245.2 L476.9 246.4 L478.4 247.0 L478.9 248.5 L479.4 250.0 L480.1 251.5 L481.2 252.6" fill="none" stroke="#4597d6" stroke-width="0.5" opacity="0.9"/><path d="M486.9 230.2 L486.6 231.8 L487.4 233.2 L487.8 234.7 L488.4 236.2 L489.5 237.4 L489.9 238.9 L489.3 240.4 L490.1 241.8 L490.9 243.2 L492.1 244.3 L492.2 245.9 L491.6 247.3 L490.2 246.5 L488.6 246.6 L487.5 245.4 L486.1 244.7 L484.8 243.8 L483.5 242.9 L482.4 241.7 L481.6 240.3 L481.4 238.7 L480.3 237.6 L479.8 236.1 L478.8 234.8 L477.9 233.5 L476.6 232.5 L475.1 232.1 L473.6 231.5 L472.1 231.1 L470.5 231.0 L469.0 230.3 L467.8 229.3 L466.2 229.6 L464.9 230.6 L463.7 231.7 L462.1 231.6 L460.9 230.5 L459.8 229.4 L458.2 229.5 L456.8 228.8 L455.2 228.3 L453.8 227.6 L452.7 226.5 L451.9 225.1" fill="none" stroke="#4597d6" stroke-width="0.5" opacity="0.9"/><path d="M474.3 240.7 L473.4 242.0 L471.8 242.4 L470.8 243.6 L470.2 245.1 L468.8 246.0 L468.5 247.5 L467.4 248.7 L465.9 249.3 L464.6 250.2 L463.6 251.4 L465.0 250.6 L465.6 249.1 L466.1 247.6 L466.8 246.2 L467.4 244.7 L467.6 243.1 L466.8 241.7 L466.3 240.2 L466.6 238.6 L465.8 237.3 L464.4 236.5 L463.6 235.1 L463.7 233.5 L464.2 232.0 L463.5 230.6 L463.3 229.0 L464.4 227.8 L466.0 227.9 L467.4 228.6 L468.9 228.0 L470.5 228.4 L472.0 228.0 L473.6 228.0 L474.7 229.2 L475.3 230.7 L476.7 231.5 L478.2 231.7 L479.2 233.0 L480.7 233.5 L482.2 234.2 L483.7 234.7 L485.2 234.3 L486.8 234.2 L487.8 232.9" fill="none" stroke="#4597d6" stroke-width="0.5" opacity="0.9"/><path d="M465.0 227.4 L466.5 226.8 L468.1 226.5 L469.6 226.9 L470.6 228.1 L472.2 228.5 L473.8 228.7 L475.3 228.4 L476.9 228.4 L478.5 228.3 L479.7 229.4 L481.1 230.2 L482.6 229.7 L484.2 229.8 L485.6 229.0 L487.1 228.5 L488.6 228.0 L490.1 228.7 L491.5 229.5 L492.6 230.6 L494.1 231.1 L495.6 231.7 L497.2 231.7 L498.7 232.3 L497.2 232.9 L496.1 234.0 L495.3 235.4 L494.0 236.3 L493.4 237.8 L492.3 239.0 L490.9 239.8 L490.4 241.3 L489.5 242.7 L489.8 244.3 L490.9 245.3 L491.9 246.6 L491.3 245.1 L490.7 243.7 L489.6 242.5 L489.3 240.9 L487.9 240.1 L486.9 238.8 L485.4 238.6 L484.0 239.4 L482.4 238.9" fill="none" stroke="#4597d6" stroke-width="0.5" opacity="0.9"/><path d="M479.3 223.5 L479.3 225.1 L478.8 226.6 L477.6 227.6 L477.2 229.2 L476.5 230.6 L476.2 232.2 L476.6 233.7 L477.5 235.1 L478.1 236.5 L479.1 237.8 L480.3 238.9 L481.9 239.0 L483.1 240.0 L484.1 241.2 L484.3 242.8 L484.6 244.4 L484.0 245.8 L483.3 247.3 L482.3 248.6 L481.3 249.8 L479.8 250.4 L478.4 251.3 L478.0 252.8 L478.9 254.2 L477.8 253.0 L477.7 251.4 L477.5 249.8 L478.0 248.3 L477.2 247.0 L476.3 245.6 L476.5 244.0 L477.0 242.5 L477.3 240.9 L477.5 239.4 L476.7 238.0 L475.2 237.5 L473.6 237.9 L472.2 238.6 L470.9 239.6 L469.3 239.6 L468.0 240.5 L467.3 241.9 L467.1 243.5 L467.9 244.9" fill="none" stroke="#4597d6" stroke-width="0.5" opacity="0.9"/><path d="M469.5 223.8 L468.6 225.1 L467.0 225.4 L465.5 226.1 L464.0 225.5 L462.8 224.5 L462.0 223.1 L461.0 221.8 L461.3 220.2 L460.6 218.8 L460.3 217.3 L459.4 215.9 L459.0 214.4 L459.3 212.8 L460.7 213.6 L462.2 213.0 L463.2 211.8 L463.2 210.2 L462.9 208.7 L463.8 210.0 L465.1 210.9 L466.4 211.8 L468.0 212.0 L469.3 212.9 L470.2 214.3 L471.7 214.9 L473.3 214.7 L474.9 215.1 L475.7 216.5 L476.2 218.0 L476.8 219.5 L476.1 220.9 L476.8 222.3 L478.3 222.9 L479.4 224.0 L480.7 225.0 L482.2 224.8 L483.8 224.7 L484.9 225.9 L486.0 227.1 L487.3 228.0 L488.9 227.8 L489.9 226.5 L491.4 226.2 L493.0 225.8" fill="none" stroke="#4597d6" stroke-width="0.5" opacity="0.9"/><path d="M485.7 219.2 L486.9 220.3 L488.3 221.1 L489.8 220.7 L491.0 219.7 L492.1 218.5 L492.6 217.0 L492.0 215.5 L490.4 215.1 L489.7 213.6 L488.4 212.8 L487.1 211.9 L485.6 211.3 L484.1 210.6 L482.6 211.0 L481.3 212.0 L480.9 213.5 L480.4 215.0 L479.0 215.8 L477.5 216.3 L476.0 215.8 L474.4 216.1 L473.6 217.5 L472.8 218.8 L471.9 220.2 L470.9 221.4 L470.2 222.9 L469.2 224.1 L467.8 224.8 L466.2 224.4 L464.6 224.6 L463.0 224.8 L461.6 224.2 L460.0 224.3 L458.8 225.4 L458.1 226.9 L458.6 228.4 L458.3 230.0 L457.1 231.1 L456.4 232.5 L456.8 234.1 L458.1 235.0 L459.7 235.2 L461.0 234.3 L462.2 233.2" fill="none" stroke="#4597d6" stroke-width="0.5" opacity="0.9"/><path d="M476.7 224.0 L477.9 225.1 L479.5 225.0 L480.8 224.1 L481.7 222.8 L482.2 221.3 L481.7 219.8 L480.9 218.4 L479.7 217.3 L479.1 215.8 L478.6 214.3 L479.2 212.8 L480.3 211.6 L481.7 211.0 L483.3 210.6 L484.8 210.0 L486.3 210.3 L487.8 211.0 L488.2 212.5 L488.0 214.1 L487.2 215.5 L487.1 217.1 L486.2 218.4 L485.5 219.9 L485.9 221.4 L487.2 222.3 L488.8 222.2 L490.3 221.5 L491.8 221.2 L493.2 220.4 L493.6 218.8 L494.7 217.6 L494.0 219.1 L494.6 220.6 L496.0 221.4 L497.5 221.8 L498.5 223.0 L498.3 224.6 L497.7 226.1 L498.0 227.7 L498.4 229.3 L499.2 230.7 L497.8 231.5 L496.3 232.1 L494.7 231.7" fill="none" stroke="#4597d6" stroke-width="0.5" opacity="0.9"/><path d="M480.5 220.3 L479.0 220.9 L477.4 221.0 L475.8 221.1 L474.6 220.2 L474.0 218.7 L472.6 217.9 L471.0 217.6 L470.0 216.3 L469.0 215.1 L467.8 214.0 L466.5 213.1 L465.8 211.7 L466.3 210.1 L466.9 208.7 L468.4 208.1 L470.0 207.9 L471.0 206.6 L472.6 206.1 L474.0 205.4 L473.2 206.8 L473.6 208.3 L473.8 209.9 L474.1 211.5 L473.3 212.9 L472.8 214.4 L473.1 216.0 L474.0 217.3 L475.4 218.0 L476.8 218.8 L478.3 219.3 L479.5 220.4 L481.0 220.8 L482.6 220.8 L484.1 220.2 L485.5 220.8 L486.4 222.2 L486.2 223.8 L485.7 225.3 L485.5 226.9 L486.2 228.3 L486.1 229.9 L486.0 231.5 L487.1 232.7 L488.6 233.0" fill="none" stroke="#4597d6" stroke-width="0.5" opacity="0.9"/><path d="M464.8 235.8 L465.4 234.4 L466.7 233.4 L467.6 232.1 L468.9 231.2 L470.5 231.2 L472.1 231.6 L473.2 232.8 L474.5 233.6 L476.0 233.1 L477.6 232.7 L479.2 232.5 L480.4 231.4 L481.4 230.2 L481.9 228.7 L481.1 227.3 L479.9 226.2 L478.5 225.4 L477.1 224.7 L476.0 223.5 L474.7 222.6 L474.7 221.0 L475.5 219.6 L477.0 219.1 L478.6 219.2 L480.1 219.8 L481.5 220.4 L482.4 221.7 L483.7 222.8 L484.7 224.0 L485.2 225.5 L485.7 227.1 L486.8 228.3 L488.4 228.4 L489.6 227.5 L490.6 226.2 L491.8 225.1 L493.3 224.7 L494.9 224.8 L496.5 224.4 L497.9 225.2 L496.3 225.1 L495.1 226.2 L493.5 226.6 L491.9 226.5" fill="none" stroke="#4597d6" stroke-width="0.5" opacity="0.9"/><path d="M486.2 240.3 L486.6 238.8 L487.5 237.5 L488.7 236.4 L489.2 234.9 L489.8 233.4 L491.2 232.6 L492.1 231.3 L493.7 231.1 L495.3 231.0 L496.8 230.7 L497.5 229.2 L497.9 227.7 L497.3 226.1 L497.3 224.6 L498.2 223.3 L496.6 223.5 L495.1 224.1 L494.4 225.5 L493.2 226.5 L491.9 227.5 L490.3 227.8 L488.9 228.6 L487.3 228.2 L485.8 228.6 L484.5 229.6 L483.7 231.0 L482.6 232.1 L481.0 232.3 L479.8 233.4 L478.4 234.1 L476.8 234.1 L475.4 234.9 L474.9 236.4 L474.3 237.9 L472.9 238.7 L471.4 238.5 L470.0 237.7 L468.5 237.2 L466.9 236.8 L465.4 236.3 L464.6 234.9 L463.3 234.0 L461.8 233.5 L460.3 232.8" fill="none" stroke="#4597d6" stroke-width="0.5" opacity="0.9"/><path d="M486.5 222.6 L487.9 221.8 L489.3 221.2 L490.9 220.9 L492.1 219.8 L492.4 218.2 L493.1 216.8 L494.1 215.5 L492.6 216.1 L492.0 217.6 L491.4 219.1 L490.1 219.9 L488.5 219.6 L486.9 219.7 L485.5 218.9 L484.4 217.8 L484.4 216.2 L483.6 214.8 L483.4 213.2 L484.2 211.7 L484.8 210.3 L484.4 208.8 L483.2 207.7 L481.6 207.5 L480.3 208.4 L479.8 209.9 L479.0 211.3 L479.2 212.9 L478.8 214.4 L477.7 215.6 L476.2 216.1 L474.7 215.7 L473.4 214.7 L473.1 213.2 L474.1 211.9 L475.3 210.9 L476.9 211.1 L478.3 210.3 L478.7 208.7 L478.0 207.3 L476.6 206.5 L475.1 206.0 L473.5 205.6 L473.2 207.1 L474.1 208.5" fill="none" stroke="#4597d6" stroke-width="0.5" opacity="0.9"/><path d="M472.4 231.5 L472.2 233.1 L471.8 234.6 L471.7 236.2 L471.1 237.7 L470.6 239.2 L469.1 239.8 L467.6 239.1 L466.1 239.6 L464.5 239.4 L463.1 238.6 L461.6 238.4 L460.2 239.2 L458.8 240.0 L457.7 241.2 L456.3 241.9 L454.8 241.3 L453.2 241.1 L454.6 240.4 L456.2 240.2 L457.7 240.9 L459.0 241.8 L460.6 242.1 L462.2 241.9 L463.6 242.7 L464.9 243.6 L466.5 243.2 L468.0 242.6 L469.0 241.4 L470.4 240.5 L470.7 239.0 L470.5 237.4 L469.2 236.4 L467.9 235.5 L467.8 233.9 L467.8 232.3 L467.5 230.7 L468.4 229.4 L468.2 227.8 L467.5 226.3 L467.8 224.7 L466.7 223.5 L466.3 222.0 L465.5 220.6 L463.9 220.3" fill="none" stroke="#4597d6" stroke-width="0.5" opacity="0.9"/><path d="M468.6 229.4 L467.4 230.4 L467.3 232.0 L468.0 233.4 L467.3 234.9 L466.8 236.4 L466.4 238.0 L467.2 239.4 L468.4 240.4 L468.6 242.0 L468.1 243.5 L467.7 245.1 L468.5 246.5 L469.6 247.7 L469.9 249.2 L470.4 250.7 L470.7 252.3 L469.9 253.7 L470.5 252.2 L469.8 250.7 L468.3 250.3 L467.2 249.2 L465.8 248.2 L465.4 246.7 L465.9 245.2 L467.3 244.4 L468.5 243.3 L470.0 243.6 L471.3 244.5 L471.7 246.1 L473.0 247.1 L473.5 248.6 L474.3 250.0 L473.8 251.5 L472.3 252.0 L471.2 253.2 L470.3 254.6 L470.6 253.0 L470.2 251.4 L470.3 249.8 L469.4 248.5 L467.9 248.0 L466.3 247.5 L464.9 248.3 L463.7 249.3" fill="none" stroke="#4597d6" stroke-width="0.5" opacity="0.9"/><path d="M484.7 240.0 L486.2 240.6 L487.1 241.9 L486.8 243.5 L486.2 245.0 L486.6 246.5 L487.7 247.7 L487.6 249.3 L486.5 250.4 L486.5 252.0 L485.6 250.7 L484.3 249.8 L483.4 248.4 L482.3 247.3 L481.9 245.8 L480.6 244.8 L479.4 243.8 L479.3 242.2 L479.9 240.7 L479.2 239.2 L477.8 238.5 L476.6 237.4 L475.2 236.6 L473.7 236.2 L472.1 235.8 L470.6 235.2 L470.1 233.7 L468.9 232.7 L467.9 231.4 L466.4 230.7 L465.1 229.9 L464.1 228.6 L462.6 228.2 L461.0 227.8 L459.7 226.9 L458.2 227.3 L456.6 226.9 L455.0 226.8 L453.4 226.7 L451.9 226.2 L450.8 225.1 L452.4 225.4 L453.7 224.5 L454.7 223.3 L455.5 221.8" fill="none" stroke="#4597d6" stroke-width="0.5" opacity="0.9"/><path d="M462.8 225.3 L461.2 225.4 L460.0 224.3 L458.6 223.6 L457.3 222.7 L456.3 221.5 L456.6 219.9 L457.9 219.0 L459.4 219.4 L461.0 219.2 L462.2 218.2 L463.8 218.4 L465.1 217.4 L466.2 216.2 L467.7 215.7 L469.3 215.2 L470.7 214.5 L472.2 214.9 L473.8 214.8 L475.4 214.8 L476.7 215.7 L478.3 215.6 L479.9 215.1 L481.4 214.6 L482.9 214.3 L484.1 213.2 L485.2 212.0 L485.1 210.4 L484.0 209.3 L482.6 208.5 L481.0 208.7 L479.8 207.7 L478.3 207.3 L476.7 207.5 L475.2 206.9 L474.1 205.7 L473.6 207.2 L472.8 208.6 L472.3 210.1 L471.4 211.5 L471.2 213.1 L471.7 214.6 L471.2 216.1 L470.8 217.6 L469.5 218.5" fill="none" stroke="#4597d6" stroke-width="0.5" opacity="0.9"/><path d="M466.7 221.3 L467.9 222.4 L468.9 223.7 L470.5 223.6 L471.6 222.4 L473.1 222.0 L474.7 221.6 L476.2 222.3 L477.6 221.6 L479.2 221.2 L480.1 219.9 L481.4 219.0 L482.9 218.5 L484.5 218.2 L485.8 217.3 L487.4 217.5 L488.7 216.7 L489.1 215.1 L490.0 213.8 L489.7 212.2 L488.4 211.3 L487.1 210.4 L486.0 209.2 L485.0 210.4 L485.0 212.0 L484.7 213.6 L483.5 214.7 L483.3 216.3 L482.4 217.6 L482.2 219.2 L482.5 220.7 L483.9 221.5 L484.9 222.8 L485.8 224.1 L485.6 225.7 L485.5 227.3 L486.3 228.6 L487.7 229.4 L489.3 229.5 L490.4 230.7 L491.9 231.3 L493.4 230.6 L494.6 229.7 L494.9 228.1 L494.9 226.5" fill="none" stroke="#4597d6" stroke-width="0.5" opacity="0.9"/><path d="M477.8 234.2 L479.3 234.9 L480.7 235.5 L481.9 236.6 L483.1 237.6 L484.2 238.8 L484.3 240.4 L485.3 241.7 L486.7 242.4 L488.1 243.1 L489.5 244.0 L489.9 245.5 L490.3 247.1 L490.1 248.7 L489.6 247.1 L490.1 245.6 L489.9 244.0 L488.8 242.9 L487.3 242.3 L485.7 242.2 L484.6 241.1 L483.1 240.5 L481.8 239.6 L480.7 238.4 L480.9 236.8 L480.0 235.5 L479.8 233.9 L479.2 232.4 L477.8 231.7 L476.6 230.7 L476.2 229.1 L476.0 227.5 L474.7 226.5 L474.6 224.9 L474.2 223.4 L474.1 221.8 L474.7 220.3 L474.6 218.7 L474.3 217.2 L473.5 215.8 L471.9 215.3 L470.5 216.0 L468.9 216.1 L467.4 216.5 L465.9 215.9" fill="none" stroke="#4597d6" stroke-width="0.5" opacity="0.9"/><path d="M463.9 225.4 L463.3 226.9 L462.1 228.0 L460.5 227.9 L458.9 227.9 L457.6 228.9 L456.5 230.0 L456.1 231.6 L457.1 232.9 L457.8 234.3 L459.0 235.4 L460.6 235.4 L462.2 235.4 L463.3 236.6 L463.3 238.2 L463.3 239.8 L464.4 240.9 L464.8 242.5 L466.1 243.4 L467.3 244.4 L468.9 244.3 L470.0 245.5 L471.0 246.7 L472.2 247.9 L473.7 248.4 L475.1 249.2 L475.5 250.7 L476.1 252.2 L477.4 253.2 L478.6 254.2 L478.1 252.6 L478.0 251.0 L479.1 249.8 L479.7 248.3 L481.0 247.4 L482.3 246.5 L482.8 245.0 L482.1 243.6 L482.7 242.1 L483.1 240.5 L483.3 238.9 L484.6 238.0 L486.0 237.2 L487.4 236.4 L488.4 235.1" fill="none" stroke="#4597d6" stroke-width="0.5" opacity="0.9"/><path d="M480.9 224.3 L479.4 223.9 L477.9 223.1 L476.4 223.4 L475.2 224.5 L473.7 225.1 L472.1 225.0 L470.8 226.0 L469.3 225.7 L467.8 226.4 L467.0 227.8 L467.4 229.3 L467.8 230.9 L468.0 232.4 L467.1 233.8 L467.2 235.4 L466.7 236.9 L467.4 238.4 L467.8 239.9 L468.8 241.2 L470.1 242.1 L471.7 241.8 L473.3 242.1 L474.7 241.3 L476.3 241.3 L477.8 240.8 L479.4 240.6 L481.0 240.8 L482.6 240.9 L483.7 242.0 L483.8 243.6 L484.5 245.1 L485.6 246.3 L485.7 247.9 L486.7 249.1 L488.0 250.1 L487.9 248.5 L486.9 247.3 L486.2 245.8 L486.2 244.2 L486.9 242.8 L486.2 241.4 L486.7 239.9 L486.7 238.3 L487.7 237.0" fill="none" stroke="#4597d6" stroke-width="0.5" opacity="0.9"/><path d="M478.8 228.4 L480.1 227.4 L480.9 226.0 L482.3 225.2 L483.6 224.3 L485.2 224.0 L486.8 224.0 L488.1 224.9 L489.7 224.8 L491.3 224.7 L492.2 223.3 L493.7 222.7 L495.3 222.7 L496.6 223.7 L498.1 223.4 L496.6 223.9 L495.7 225.2 L495.7 226.8 L494.4 227.8 L492.8 227.9 L491.4 228.7 L489.8 228.5 L488.3 228.0 L486.7 227.7 L485.3 227.1 L483.7 227.2 L482.3 228.0 L481.9 229.5 L481.2 231.0 L480.2 232.2 L478.8 233.0 L477.4 233.8 L476.1 234.7 L475.2 236.0 L473.8 236.8 L472.7 237.9 L471.3 238.8 L469.8 239.0 L468.2 239.4 L466.6 239.2 L465.4 240.2 L464.7 241.7 L463.3 242.4 L462.6 243.9 L463.1 245.4" fill="none" stroke="#4597d6" stroke-width="0.5" opacity="0.9"/><path d="M462.7 237.1 L464.0 237.9 L465.4 238.7 L466.2 240.1 L467.1 241.4 L468.0 242.8 L469.5 243.0 L470.8 244.1 L471.4 245.5 L471.6 247.1 L471.0 248.6 L470.0 249.8 L468.6 250.7 L467.0 250.5 L465.5 250.0 L464.2 250.9 L462.6 250.7 L461.7 249.3 L460.3 248.6 L458.8 249.1 L459.2 247.5 L459.2 245.9 L458.1 244.7 L456.6 244.2 L455.2 245.1 L456.3 243.8 L457.7 243.1 L458.9 242.1 L459.4 240.6 L460.8 239.9 L462.4 240.3 L463.7 241.1 L465.3 241.3 L466.9 241.1 L468.5 240.8 L470.0 240.3 L470.6 238.8 L471.0 237.3 L472.1 236.1 L473.6 235.4 L475.1 235.8 L476.5 236.6 L477.4 237.9 L477.2 239.5 L476.0 240.6" fill="none" stroke="#4597d6" stroke-width="0.5" opacity="0.9"/><path d="M482.1 228.3 L481.7 226.8 L482.3 225.3 L483.4 224.2 L484.5 222.9 L484.7 221.3 L484.4 219.8 L483.4 218.5 L483.0 217.0 L483.3 215.4 L482.7 213.9 L482.2 212.4 L482.7 210.8 L482.8 209.2 L481.8 208.0 L481.0 206.6 L481.4 208.1 L482.3 209.4 L483.9 209.6 L485.2 208.7 L485.2 210.3 L486.5 211.3 L487.6 212.4 L487.6 214.0 L486.6 215.3 L486.2 216.9 L484.7 217.6 L484.2 219.1 L484.7 220.7 L486.2 221.3 L487.7 220.6 L489.2 220.2 L490.8 220.6 L492.4 220.9 L493.5 222.0 L494.8 222.9 L495.1 224.5 L495.1 226.1 L494.9 227.7 L495.7 229.1 L496.6 230.4 L497.7 231.5 L498.0 233.1 L499.0 234.4 L497.6 233.5" fill="none" stroke="#4597d6" stroke-width="0.5" opacity="0.9"/><path d="M464.1 231.3 L463.9 232.9 L463.5 234.5 L464.2 235.9 L464.2 237.5 L464.6 239.1 L465.4 240.4 L465.2 242.0 L464.3 243.3 L463.8 244.9 L463.0 246.2 L463.1 247.8 L463.2 249.4 L464.3 250.5 L465.2 251.9 L466.0 250.5 L465.6 249.0 L465.3 247.4 L464.8 245.9 L464.2 244.4 L462.8 243.6 L461.3 243.3 L459.7 243.2 L458.4 244.3 L457.0 244.9 L455.9 246.1 L456.5 244.6 L456.5 243.0 L457.6 241.8 L458.2 240.4 L457.7 238.8 L456.8 237.5 L457.1 236.0 L456.3 234.6 L455.1 233.5 L453.5 233.2 L452.2 232.3 L450.8 231.6 L452.2 232.2 L453.8 232.3 L455.3 232.9 L456.8 233.4 L457.7 234.7 L459.3 235.0 L460.8 234.5" fill="none" stroke="#4597d6" stroke-width="0.5" opacity="0.9"/><path d="M469.4 224.5 L470.1 223.1 L470.4 221.5 L470.7 219.9 L471.9 218.8 L473.2 217.9 L474.4 216.8 L475.8 216.1 L477.4 215.8 L478.9 215.2 L480.2 214.3 L480.8 212.9 L481.2 211.3 L482.5 210.4 L483.4 209.1 L484.0 207.6 L483.2 209.0 L483.4 210.6 L483.7 212.1 L483.3 213.7 L484.2 215.0 L485.7 215.5 L486.9 216.5 L487.0 218.1 L488.3 219.2 L489.9 219.1 L491.4 219.3 L493.0 219.0 L494.6 219.1 L495.7 217.9 L494.8 219.3 L494.3 220.8 L493.4 222.1 L492.4 223.3 L490.8 223.7 L489.3 223.2 L488.0 222.3 L487.4 220.8 L486.1 219.9 L484.7 219.0 L483.2 218.6 L481.7 217.9 L480.2 218.3 L478.8 217.6 L477.2 217.2" fill="none" stroke="#4597d6" stroke-width="0.5" opacity="0.9"/><path d="M481.9 241.5 L483.2 240.6 L484.8 240.7 L485.7 242.0 L487.3 242.5 L488.5 243.6 L489.1 245.0 L489.9 246.4 L491.1 247.4 L492.7 247.6 L492.2 246.1 L491.4 244.7 L490.1 243.7 L489.0 242.5 L487.8 241.5 L486.9 240.2 L485.8 239.0 L484.4 238.3 L482.9 238.9 L481.3 238.6 L479.9 237.8 L478.3 237.8 L476.7 237.8 L475.1 237.5 L473.5 237.2 L472.5 236.0 L472.3 234.4 L471.5 233.0 L470.3 231.9 L469.4 230.6 L467.9 230.1 L467.2 228.6 L465.7 228.1 L464.2 227.6 L462.6 227.8 L461.0 227.9 L459.9 229.1 L459.6 230.6 L458.2 231.4 L456.6 231.3 L455.2 232.1 L453.8 232.9 L453.5 234.5 L454.3 235.9 L455.6 236.7" fill="none" stroke="#4597d6" stroke-width="0.5" opacity="0.9"/><path d="M486.9 225.7 L488.1 226.8 L489.6 226.9 L490.6 228.2 L490.8 229.8 L490.0 231.2 L488.5 231.8 L486.9 231.6 L485.4 232.1 L484.4 233.3 L484.0 234.9 L484.8 236.3 L486.3 236.9 L487.3 238.1 L488.4 239.3 L490.0 239.2 L491.5 238.6 L493.1 239.0 L494.1 240.2 L494.6 241.7 L494.4 243.3 L493.2 244.3 L491.9 245.2 L490.8 246.4 L489.6 247.4 L488.8 248.9 L489.3 250.4 L488.3 249.1 L486.8 248.8 L485.4 249.7 L484.6 251.0 L484.1 252.5 L482.6 253.2 L481.2 253.9 L479.6 253.6 L478.2 252.7 L477.1 251.6 L475.6 251.0 L474.1 250.6 L472.5 250.7 L470.9 250.4 L469.8 249.3 L469.4 247.7 L468.5 246.4 L467.0 245.9" fill="none" stroke="#4597d6" stroke-width="0.5" opacity="0.9"/><path d="M462.5 232.5 L463.9 233.3 L465.5 233.6 L467.0 233.2 L468.1 232.0 L469.4 231.2 L470.9 230.6 L472.1 229.4 L473.6 228.9 L474.6 227.6 L476.2 227.4 L477.2 226.2 L478.5 225.3 L480.0 224.8 L481.6 225.0 L483.2 225.2 L484.4 226.3 L485.2 227.7 L485.6 229.2 L486.9 230.1 L488.5 230.2 L490.1 230.1 L491.7 230.2 L492.9 229.2 L494.5 228.8 L495.9 228.1 L497.2 227.2 L498.6 226.4 L497.1 227.0 L495.6 227.5 L494.0 227.6 L492.4 227.3 L490.8 227.5 L489.5 228.4 L488.2 229.3 L486.7 229.9 L485.1 230.2 L484.0 231.3 L483.0 232.6 L481.9 233.8 L481.6 235.3 L482.4 236.7 L481.9 238.3 L482.8 239.6 L483.7 240.9" fill="none" stroke="#4597d6" stroke-width="0.5" opacity="0.9"/><path d="M469.7 218.7 L470.4 220.1 L471.4 221.4 L471.3 222.9 L472.3 224.2 L473.6 225.1 L474.5 226.4 L475.1 227.9 L476.6 228.4 L478.2 228.2 L479.5 227.4 L481.1 227.6 L482.7 227.7 L484.2 227.1 L485.7 226.5 L487.1 225.8 L487.9 224.4 L489.0 223.3 L490.5 222.7 L492.0 222.0 L493.5 221.5 L495.1 221.7 L496.0 223.0 L496.6 224.5 L498.1 225.0 L496.5 225.0 L495.0 225.5 L493.4 225.5 L491.8 225.8 L490.2 225.8 L488.7 225.5 L487.3 224.7 L486.8 223.1 L487.0 221.5 L487.7 220.1 L488.8 219.0 L489.4 217.5 L490.2 216.2 L491.3 215.0 L491.3 213.4 L490.6 214.9 L490.0 216.3 L489.3 217.8 L488.1 218.8 L486.5 219.2" fill="none" stroke="#4597d6" stroke-width="0.5" opacity="0.9"/><path d="M474.0 241.4 L472.4 241.8 L471.2 240.8 L469.7 240.3 L468.4 239.2 L468.4 237.6 L467.3 236.5 L466.8 235.0 L466.8 233.4 L466.9 231.8 L467.8 230.4 L469.3 229.9 L470.2 228.6 L471.0 227.2 L472.1 226.1 L473.6 225.4 L475.1 226.0 L476.0 227.3 L476.1 228.9 L477.3 230.0 L478.6 230.9 L478.9 232.5 L478.1 233.8 L476.7 234.6 L475.6 235.8 L474.1 236.3 L472.5 236.7 L470.9 236.7 L469.4 236.3 L468.4 235.0 L468.0 233.5 L468.9 232.1 L469.8 230.8 L470.6 229.4 L471.8 228.4 L473.1 227.5 L473.4 225.9 L474.7 225.0 L475.6 223.7 L476.6 222.4 L476.3 220.8 L475.3 219.7 L475.3 218.1 L474.7 216.6 L473.7 215.4" fill="none" stroke="#4597d6" stroke-width="0.5" opacity="0.9"/><path d="M482.6 223.9 L482.0 222.5 L482.5 220.9 L482.9 219.4 L482.9 217.8 L482.1 216.4 L481.1 215.2 L479.5 215.2 L478.3 216.3 L478.0 217.9 L478.2 219.4 L477.6 220.9 L476.1 221.6 L474.9 222.6 L474.2 224.0 L474.1 225.6 L473.6 227.2 L473.2 228.7 L473.8 230.2 L474.4 231.6 L475.6 232.8 L477.1 233.0 L478.4 233.9 L480.0 233.8 L481.6 233.6 L483.1 234.0 L484.6 234.6 L485.4 236.0 L486.6 237.1 L486.7 238.7 L487.9 239.7 L488.1 241.3 L488.6 242.9 L490.0 243.5 L491.6 243.4 L492.7 244.6 L493.3 246.1 L492.6 244.6 L491.0 244.3 L489.4 244.4 L487.8 244.7 L486.5 243.8 L486.1 242.3 L484.8 241.3 L484.8 239.7" fill="none" stroke="#4597d6" stroke-width="0.5" opacity="0.9"/><path d="M476.2 225.5 L477.6 226.1 L479.1 226.8 L480.6 227.3 L482.2 227.3 L483.3 228.5 L484.5 229.6 L485.9 230.2 L486.9 231.5 L488.4 232.2 L489.9 232.7 L491.3 232.1 L492.4 230.8 L494.0 230.9 L495.5 231.3 L497.1 231.7 L498.4 232.6 L499.4 233.9 L497.8 233.8 L496.5 234.8 L496.3 236.3 L497.1 237.7 L498.2 238.9 L496.8 238.1 L495.3 237.7 L493.7 238.1 L492.4 238.9 L491.1 239.8 L490.3 241.3 L488.9 242.0 L487.5 242.8 L487.1 244.3 L487.8 245.7 L487.4 247.3 L486.8 248.8 L486.8 250.4 L486.2 251.8 L486.1 250.2 L487.3 249.1 L488.7 248.3 L489.1 246.8 L489.3 245.2 L490.3 244.0 L491.6 243.0 L492.1 241.5" fill="none" stroke="#4597d6" stroke-width="0.5" opacity="0.9"/><path d="M468.2 219.5 L466.7 220.2 L465.3 221.0 L463.8 220.7 L462.8 219.5 L461.7 218.2 L461.5 216.6 L460.3 215.6 L460.2 214.0 L461.2 212.7 L462.1 211.4 L463.6 210.9 L464.9 210.0 L466.5 210.3 L468.0 210.2 L469.3 211.1 L469.8 212.7 L469.0 214.1 L467.8 215.1 L467.6 216.7 L468.0 218.2 L468.0 219.8 L466.9 221.0 L465.5 221.8 L465.1 223.3 L465.2 224.9 L465.7 226.4 L466.9 227.4 L468.5 227.7 L470.1 228.0 L471.7 228.0 L473.1 227.3 L474.4 226.4 L476.0 226.7 L477.5 227.3 L478.6 228.4 L478.5 230.0 L479.7 231.1 L479.9 232.7 L481.1 233.8 L482.7 234.0 L484.0 234.9 L484.8 236.3 L485.3 237.9 L485.8 239.4" fill="none" stroke="#4597d6" stroke-width="0.5" opacity="0.9"/><path d="M480.4 228.6 L481.6 229.6 L483.2 229.7 L484.3 228.5 L485.9 228.5 L487.0 229.7 L488.3 230.5 L489.8 231.1 L491.4 231.0 L492.8 231.8 L494.3 232.5 L495.9 232.3 L497.2 233.2 L497.6 234.8 L498.9 235.6 L497.4 235.7 L495.8 235.5 L494.2 235.7 L492.8 236.4 L491.7 237.6 L490.4 238.6 L489.1 239.5 L487.8 240.5 L486.3 241.0 L484.8 241.6 L483.4 240.9 L481.9 240.4 L480.8 239.3 L480.9 237.7 L481.3 236.1 L481.9 234.7 L483.2 233.7 L484.8 233.3 L485.9 232.2 L486.8 230.9 L486.9 229.3 L485.6 228.2 L484.9 226.9 L483.7 225.8 L482.2 225.3 L480.8 226.1 L480.5 227.7 L479.8 229.1 L479.5 230.7 L479.3 232.3" fill="none" stroke="#4597d6" stroke-width="0.5" opacity="0.9"/><path d="M479.2 240.6 L478.0 239.5 L478.1 237.9 L477.4 236.5 L476.8 235.0 L476.6 233.4 L475.9 232.0 L476.2 230.4 L476.9 229.0 L478.0 227.8 L478.3 226.3 L479.3 225.1 L479.9 223.6 L480.8 222.2 L482.1 221.4 L483.1 220.1 L483.5 218.6 L483.4 217.0 L484.6 215.9 L486.0 215.1 L487.4 214.3 L488.9 213.7 L490.4 213.5 L491.8 212.6 L491.4 214.1 L490.7 215.6 L489.8 216.9 L488.3 217.1 L486.7 217.0 L485.5 215.9 L485.5 214.3 L485.6 212.7 L485.4 211.1 L485.1 209.6 L484.5 208.1 L483.8 209.5 L484.1 211.1 L483.2 212.4 L482.2 213.6 L480.7 214.3 L479.3 214.9 L477.7 215.2 L476.1 215.3 L474.9 216.5 L474.7 218.0" fill="none" stroke="#4597d6" stroke-width="0.5" opacity="0.9"/><path d="M480.6 226.6 L480.9 228.2 L480.5 229.8 L479.4 231.0 L478.6 232.3 L478.8 233.9 L478.3 235.4 L478.6 237.0 L478.4 238.6 L477.7 240.0 L477.6 241.6 L478.8 242.7 L479.8 244.0 L480.0 245.5 L480.0 247.1 L478.7 248.2 L478.1 249.6 L477.0 250.7 L475.9 252.0 L474.7 253.0 L474.0 254.4 L474.1 252.8 L474.6 251.3 L476.0 250.5 L477.5 249.9 L478.9 249.3 L480.5 249.2 L482.1 249.4 L483.7 249.4 L485.2 248.7 L486.8 248.5 L488.3 248.0 L488.9 246.5 L488.6 244.9 L488.0 243.5 L487.8 241.9 L488.1 240.3 L488.4 238.7 L489.4 237.5 L490.1 236.1 L490.3 234.5 L491.2 233.2 L492.5 232.2 L493.7 231.1 L495.3 231.0" fill="none" stroke="#4597d6" stroke-width="0.5" opacity="0.9"/><path d="M463.9 231.2 L465.2 231.0 L466.1 230.1 L467.4 229.8 L468.7 229.6 L469.7 230.4 L471.0 230.8 L472.0 231.5 L472.8 232.5 L472.6 233.8 L472.7 235.1 L473.1 236.3 L474.2 237.1 L475.0 238.1 L476.3 238.3 L477.2 239.2 L478.5 239.4" fill="none" stroke="#b04a44" stroke-width="0.65"/><path d="M467.7 240.7 L466.5 240.2 L465.2 240.0 L464.0 240.3 L462.9 241.0 L461.6 240.6 L460.4 240.9 L459.2 240.2 L458.8 239.0 L458.7 237.7 L458.1 236.5 L458.1 235.2 L458.9 234.2 L459.8 233.4 L460.3 232.1 L461.0 231.0 L462.2 230.8" fill="none" stroke="#b04a44" stroke-width="0.65"/><path d="M476.9 222.3 L477.0 223.6 L478.0 224.5 L479.2 224.2 L480.4 223.7 L481.3 222.7 L482.1 221.7 L482.0 220.4 L482.0 219.1 L482.5 217.8 L482.5 216.5 L482.7 215.3 L483.0 214.0 L483.8 213.0 L484.8 212.2 L486.0 211.6 L487.2 211.2" fill="none" stroke="#b04a44" stroke-width="0.65"/><path d="M482.2 221.1 L482.5 222.4 L482.0 223.6 L482.6 224.7 L482.3 226.0 L481.7 227.2 L480.6 227.8 L479.3 228.0 L478.1 228.5 L477.5 229.6 L476.4 230.3 L475.1 230.6 L473.9 230.9 L472.8 231.7 L472.0 232.8 L470.8 232.9 L469.5 233.2" fill="none" stroke="#b04a44" stroke-width="0.65"/><path d="M468.1 241.6 L469.1 240.7 L469.5 239.5 L470.4 238.5 L471.0 237.4 L471.6 236.2 L472.5 235.3 L473.0 234.1 L473.7 233.0 L473.7 231.7 L473.1 230.5 L472.6 229.3 L472.0 228.2 L472.2 226.9 L471.7 225.8 L472.0 224.5 L471.9 223.2" fill="none" stroke="#b04a44" stroke-width="0.65"/><path d="M471.2 221.3 L469.9 221.7 L468.8 222.4 L467.5 222.3 L466.7 221.3 L466.4 220.0 L465.4 219.2 L464.3 218.5 L463.0 218.5 L461.8 219.1 L460.9 220.0 L460.6 221.2 L460.0 222.4 L459.3 223.5 L459.0 224.7 L459.3 226.0 L460.3 226.8" fill="none" stroke="#b04a44" stroke-width="0.65"/><path d="M465.9 229.0 L467.1 229.6 L468.4 229.7 L469.5 230.4 L470.7 230.6 L471.7 231.5 L471.7 232.8 L470.7 233.7 L470.4 235.0 L469.2 235.6 L468.1 236.3 L466.8 236.1 L465.5 236.0 L464.2 235.8 L463.0 236.2 L461.7 235.9 L460.4 236.0" fill="none" stroke="#b04a44" stroke-width="0.65"/><path d="M483.6 235.2 L483.3 236.4 L483.4 237.7 L483.8 239.0 L484.5 240.1 L484.9 241.3 L486.2 241.7 L487.4 242.0 L488.2 243.1 L487.9 244.4 L487.2 245.5 L486.2 246.3 L485.1 246.9 L483.9 246.4 L483.1 245.4 L482.2 244.4 L481.4 243.5" fill="none" stroke="#b04a44" stroke-width="0.65"/><path d="M484.9 231.6 L483.7 231.2 L482.6 230.5 L481.4 229.9 L481.2 228.6 L482.0 227.6 L483.3 227.6 L484.2 228.5 L485.5 228.5 L486.4 227.6 L487.0 226.4 L488.1 225.8 L489.4 225.3 L490.2 224.4 L490.3 223.1 L489.8 221.9 L488.6 221.3" fill="none" stroke="#b04a44" stroke-width="0.65"/><path d="M466.6 236.0 L467.7 236.8 L468.5 237.7 L469.8 238.0 L470.8 238.9 L471.4 240.0 L471.2 241.3 L470.6 242.4 L469.5 243.1 L468.8 244.2 L468.3 245.4 L468.1 246.7 L468.1 248.0 L467.2 248.9 L466.4 250.0 L465.2 250.5 L465.2 249.2" fill="none" stroke="#b04a44" stroke-width="0.65"/><path d="M468.1 232.2 L467.8 230.9 L467.0 229.9 L466.0 229.1 L464.9 228.4 L463.7 227.8 L463.3 226.6 L463.1 225.3 L462.4 224.2 L461.4 223.4 L460.4 222.5 L459.1 222.3 L457.8 222.4 L457.0 223.4 L455.9 224.1 L454.6 224.0 L453.7 223.0" fill="none" stroke="#b04a44" stroke-width="0.65"/><path d="M477.0 227.7 L475.9 227.2 L474.6 227.3 L473.3 227.3 L472.0 227.4 L470.9 228.1 L469.9 228.9 L468.6 229.0 L467.3 228.8 L466.0 229.0 L465.0 229.7 L463.8 230.2 L462.5 230.6 L461.5 231.3 L460.5 232.2 L459.6 233.2 L458.6 233.9" fill="none" stroke="#b04a44" stroke-width="0.65"/><path d="M483.5 227.5 L482.3 227.0 L481.2 226.2 L480.0 226.0 L478.7 226.3 L477.6 225.7 L476.3 225.9 L475.0 225.7 L473.7 226.0 L472.5 226.3 L471.3 226.8 L470.4 227.8 L470.2 229.0 L469.1 229.8 L468.9 231.0 L469.5 232.2 L469.6 233.5" fill="none" stroke="#b04a44" stroke-width="0.65"/><path d="M471.8 223.4 L473.0 222.7 L473.6 221.6 L474.6 220.7 L475.4 219.7 L476.7 219.8 L478.0 220.0 L478.8 221.0 L479.3 222.2 L480.4 222.9 L481.6 223.4 L482.5 224.4 L483.8 224.6 L484.9 223.9 L486.1 224.3 L486.7 225.4 L487.0 226.7" fill="none" stroke="#b04a44" stroke-width="0.65"/><circle cx="494.7" cy="238.3" r="0.62" fill="#222"/><circle cx="497.5" cy="228.8" r="0.62" fill="#222"/><circle cx="471.1" cy="214.7" r="0.62" fill="#222"/><circle cx="458.0" cy="213.2" r="0.62" fill="#222"/><circle cx="467.8" cy="230.4" r="0.62" fill="#222"/><circle cx="490.2" cy="249.1" r="0.62" fill="#222"/><circle cx="468.5" cy="207.7" r="0.62" fill="#222"/><circle cx="479.8" cy="236.7" r="0.62" fill="#222"/><circle cx="467.9" cy="215.9" r="0.62" fill="#222"/><circle cx="462.7" cy="233.1" r="0.62" fill="#222"/><circle cx="476.6" cy="209.0" r="0.62" fill="#222"/><circle cx="472.2" cy="214.7" r="0.62" fill="#222"/><circle cx="458.6" cy="231.3" r="0.62" fill="#222"/><circle cx="460.5" cy="233.4" r="0.62" fill="#222"/><circle cx="450.0" cy="235.0" r="0.62" fill="#222"/><circle cx="477.8" cy="221.9" r="0.62" fill="#222"/><circle cx="463.6" cy="211.1" r="0.62" fill="#222"/><circle cx="461.2" cy="249.3" r="0.62" fill="#222"/><circle cx="481.2" cy="228.0" r="0.62" fill="#222"/><circle cx="463.6" cy="219.8" r="0.62" fill="#222"/><circle cx="456.2" cy="234.2" r="0.62" fill="#222"/><circle cx="487.8" cy="215.5" r="0.62" fill="#222"/><circle cx="484.6" cy="222.6" r="0.62" fill="#222"/><circle cx="479.4" cy="215.9" r="0.62" fill="#222"/><circle cx="484.3" cy="250.2" r="0.62" fill="#222"/><circle cx="464.0" cy="225.0" r="0.62" fill="#222"/><circle cx="488.9" cy="219.8" r="0.62" fill="#222"/><circle cx="463.0" cy="209.0" r="0.62" fill="#222"/><circle cx="466.0" cy="246.2" r="0.62" fill="#222"/><circle cx="461.6" cy="226.7" r="0.62" fill="#222"/><circle cx="450.1" cy="225.4" r="0.62" fill="#222"/><circle cx="470.5" cy="218.6" r="0.62" fill="#222"/><circle cx="466.6" cy="213.0" r="0.62" fill="#222"/><circle cx="460.5" cy="245.0" r="0.62" fill="#222"/><circle cx="458.6" cy="245.5" r="0.62" fill="#222"/><circle cx="457.0" cy="244.7" r="0.62" fill="#222"/><circle cx="471.7" cy="240.0" r="0.62" fill="#222"/><circle cx="470.4" cy="238.0" r="0.62" fill="#222"/><circle cx="492.9" cy="213.2" r="0.62" fill="#222"/><circle cx="463.9" cy="236.4" r="0.62" fill="#222"/><circle cx="492.3" cy="215.2" r="0.62" fill="#222"/><circle cx="475.3" cy="243.8" r="0.62" fill="#222"/><circle cx="465.4" cy="230.6" r="0.62" fill="#222"/><circle cx="478.8" cy="245.2" r="0.62" fill="#222"/><circle cx="482.0" cy="236.7" r="0.62" fill="#222"/><circle cx="463.6" cy="222.3" r="0.62" fill="#222"/><circle cx="496.5" cy="218.3" r="0.62" fill="#222"/><circle cx="468.3" cy="219.3" r="0.62" fill="#222"/><circle cx="475.7" cy="216.3" r="0.62" fill="#222"/><circle cx="486.2" cy="218.9" r="0.62" fill="#222"/><circle cx="466.8" cy="210.8" r="0.62" fill="#222"/><circle cx="468.2" cy="210.3" r="0.62" fill="#222"/><circle cx="469.3" cy="238.3" r="0.62" fill="#222"/><circle cx="457.7" cy="247.9" r="0.62" fill="#222"/><circle cx="488.1" cy="233.4" r="0.62" fill="#222"/><circle cx="468.6" cy="245.4" r="0.62" fill="#222"/><circle cx="482.1" cy="223.1" r="0.62" fill="#222"/><circle cx="477.5" cy="232.4" r="0.62" fill="#222"/><circle cx="463.1" cy="247.9" r="0.62" fill="#222"/><circle cx="455.0" cy="236.1" r="0.62" fill="#222"/><circle cx="459.4" cy="229.3" r="0.62" fill="#222"/><circle cx="470.5" cy="233.1" r="0.62" fill="#222"/><circle cx="495.8" cy="224.2" r="0.62" fill="#222"/><circle cx="484.3" cy="236.7" r="0.62" fill="#222"/><circle cx="478.6" cy="213.5" r="0.62" fill="#222"/><circle cx="474.6" cy="209.4" r="0.62" fill="#222"/><circle cx="489.1" cy="247.8" r="0.62" fill="#222"/><circle cx="477.7" cy="239.0" r="0.62" fill="#222"/><circle cx="474.3" cy="208.5" r="0.62" fill="#222"/><circle cx="469.6" cy="244.6" r="0.62" fill="#222"/><circle cx="473.4" cy="217.3" r="0.62" fill="#222"/><circle cx="450.7" cy="238.6" r="0.62" fill="#222"/><circle cx="492.0" cy="247.5" r="0.62" fill="#222"/><circle cx="494.3" cy="214.6" r="0.62" fill="#222"/><circle cx="475.2" cy="241.2" r="0.62" fill="#222"/><circle cx="465.0" cy="234.3" r="0.62" fill="#222"/><circle cx="492.1" cy="222.0" r="0.62" fill="#222"/><circle cx="484.6" cy="216.1" r="0.62" fill="#222"/><circle cx="449.6" cy="230.6" r="0.62" fill="#222"/><circle cx="483.4" cy="238.5" r="0.62" fill="#222"/><circle cx="487.0" cy="215.8" r="0.62" fill="#222"/><circle cx="479.9" cy="206.7" r="0.62" fill="#222"/><circle cx="477.5" cy="211.6" r="0.62" fill="#222"/><circle cx="474.9" cy="212.7" r="0.62" fill="#222"/><circle cx="477.6" cy="244.0" r="0.62" fill="#222"/><circle cx="491.4" cy="222.3" r="0.62" fill="#222"/><circle cx="495.0" cy="234.3" r="0.62" fill="#222"/><circle cx="495.2" cy="229.6" r="0.62" fill="#222"/><circle cx="457.4" cy="231.2" r="0.62" fill="#222"/><circle cx="461.0" cy="216.5" r="0.62" fill="#222"/><circle cx="450.4" cy="232.1" r="0.62" fill="#222"/><circle cx="492.0" cy="216.4" r="0.62" fill="#222"/><circle cx="471.4" cy="210.1" r="0.62" fill="#222"/><circle cx="480.7" cy="246.5" r="0.62" fill="#222"/><circle cx="473.6" cy="241.3" r="0.62" fill="#222"/><circle cx="486.6" cy="226.8" r="0.62" fill="#222"/><circle cx="484.1" cy="210.1" r="0.62" fill="#222"/><circle cx="471.5" cy="232.5" r="0.62" fill="#222"/><circle cx="483.9" cy="247.9" r="0.62" fill="#222"/><circle cx="470.9" cy="216.4" r="0.62" fill="#222"/><circle cx="466.4" cy="224.7" r="0.62" fill="#222"/><circle cx="462.3" cy="212.5" r="0.62" fill="#222"/><circle cx="478.7" cy="212.6" r="0.62" fill="#222"/><circle cx="473.7" cy="229.9" r="0.62" fill="#222"/><circle cx="473.1" cy="245.8" r="0.62" fill="#222"/><circle cx="481.1" cy="233.3" r="0.62" fill="#222"/><circle cx="495.3" cy="225.0" r="0.62" fill="#222"/><circle cx="455.0" cy="222.7" r="0.62" fill="#222"/><circle cx="488.7" cy="216.2" r="0.62" fill="#222"/><circle cx="460.3" cy="237.1" r="0.62" fill="#222"/><circle cx="499.5" cy="226.0" r="0.62" fill="#222"/><circle cx="488.3" cy="248.3" r="0.62" fill="#222"/><circle cx="465.4" cy="219.3" r="0.62" fill="#222"/><circle cx="470.2" cy="218.5" r="0.62" fill="#222"/><circle cx="474.2" cy="212.3" r="0.62" fill="#222"/><circle cx="469.5" cy="227.5" r="0.62" fill="#222"/><circle cx="495.4" cy="216.8" r="0.62" fill="#222"/><circle cx="475.7" cy="217.3" r="0.62" fill="#222"/><circle cx="473.3" cy="222.3" r="0.62" fill="#222"/><circle cx="460.3" cy="226.3" r="0.62" fill="#222"/><circle cx="461.2" cy="232.8" r="0.62" fill="#222"/><circle cx="490.1" cy="237.3" r="0.62" fill="#222"/><circle cx="475.7" cy="240.5" r="0.62" fill="#222"/><circle cx="470.4" cy="237.9" r="0.62" fill="#222"/><circle cx="500.0" cy="233.7" r="0.62" fill="#222"/><circle cx="497.7" cy="238.2" r="0.62" fill="#222"/><circle cx="467.0" cy="234.5" r="0.62" fill="#222"/><circle cx="458.3" cy="237.9" r="0.62" fill="#222"/><circle cx="492.6" cy="236.5" r="0.62" fill="#222"/><circle cx="488.9" cy="231.0" r="0.62" fill="#222"/></svg>
<svg style="left:0;top:0" width="1023" height="785"><defs><linearGradient id="tg1" x1="0" y1="0" x2="0" y2="1"><stop offset="0" stop-color="#646464"/><stop offset="0.5" stop-color="#8a8a8a"/><stop offset="1" stop-color="#b4b2b2"/></linearGradient><linearGradient id="tg2" x1="0" y1="0" x2="0" y2="1"><stop offset="0" stop-color="#6a6a6a"/><stop offset="0.5" stop-color="#8e8e8e"/><stop offset="1" stop-color="#b0aeae"/></linearGradient><linearGradient id="tl1" x1="0" y1="0" x2="0" y2="1"><stop offset="0" stop-color="#8e8e8e"/><stop offset="0.6" stop-color="#9a9898"/><stop offset="0.92" stop-color="#a39c9c"/><stop offset="1" stop-color="#d8a0a4"/></linearGradient><linearGradient id="tl2" x1="0" y1="0" x2="0" y2="1"><stop offset="0" stop-color="#efe2dc"/><stop offset="0.5" stop-color="#ecd6cd"/><stop offset="1" stop-color="#e6c8bc"/></linearGradient><linearGradient id="tl3" x1="0" y1="0" x2="0" y2="1"><stop offset="0" stop-color="#6a6a6a"/><stop offset="0.25" stop-color="#444"/><stop offset="1" stop-color="#2c2c2c"/></linearGradient><linearGradient id="tl4" x1="0" y1="0" x2="0" y2="1"><stop offset="0" stop-color="#c4c4c4"/><stop offset="0.5" stop-color="#dedede"/><stop offset="1" stop-color="#f2f2f2"/></linearGradient></defs><rect x="324" y="295.4" width="62" height="88.3" fill="url(#tg1)"/><rect x="388.2" y="295.4" width="60.8" height="88.3" fill="url(#tg2)"/><rect x="450" y="295.4" width="55" height="88.3" fill="#1b1b1b"/><rect x="334" y="295.4" width="37" height="14" fill="#707070" stroke="#4e4e4e" stroke-width="0.6"/><path d="M334 309V364Q334 374.5 352.5 374.5Q371 374.5 371 364V309Z" fill="url(#tl1)"/><rect x="334" y="308.6" width="37" height="11.5" fill="#e4e0e0"/><path d="M334 312h37M334 316h37" stroke="#bdb4b4" stroke-width="1.2" stroke-dasharray="1.5 1.2"/><path d="M334 295.4V364Q334 374.5 352.5 374.5Q371 374.5 371 364V295.4" fill="none" stroke="#5a5a5a" stroke-width="0.7"/><rect x="399" y="295.4" width="37" height="13.5" fill="#747474" stroke="#5a5a5a" stroke-width="0.6"/><path d="M399 308.4V360Q399 371 417.5 371Q436 371 436 360V308.4Z" fill="url(#tl2)"/><path d="M399 310.5h37M399 314h37" stroke="#d9bdb8" stroke-width="1.3" stroke-dasharray="1.5 1.2"/><rect x="462" y="295.4" width="31.7" height="20" fill="#262626"/><path d="M462 315V362Q462 376 477.8 376Q493.7 376 493.7 362V315Z" fill="url(#tl3)"/><path d="M462 351.5V362Q462 376 477.8 376Q493.7 376 493.7 362V351.5Z" fill="url(#tl4)"/><path d="M462 315.2H493.7" stroke="#d8d8d8" stroke-width="1.4"/><path d="M462 295.4V362Q462 376 477.8 376Q493.7 376 493.7 362V295.4" fill="none" stroke="#8a8a8a" stroke-width="0.8"/><g font-weight="700" text-anchor="middle" font-size="6.6" fill="#fff"><text x="352.5" y="332.2">T&lt;Tt</text><text x="415.6" y="330.6" fill="#f6eeee">T&gt;Tt</text><text x="476.4" y="328.2">T&gt;Tt</text><text x="477.6" y="339.6" font-size="5.6">2</text><text x="478" y="364.4" font-size="5.6" fill="#444">3</text></g><text x="352" y="344.8" font-size="10.4" text-anchor="middle" fill="#3551b4">cool</text><text x="416.6" y="344.8" font-size="10.4" text-anchor="middle" fill="#c6202c">warm</text><path d="M349.7 375.9l8.6-8v3.3h108.7v-3.3l8.6 8l-8.6 8v-3.3h-108.7v3.3z" fill="#4472c4"/></svg>
<svg style="left:0;top:0" width="1023" height="785"><defs><linearGradient id="dv" x1="0" y1="0" x2="1" y2="1"><stop offset="0" stop-color="#bcbcbc"/><stop offset="0.5" stop-color="#c6c6c6"/><stop offset="1" stop-color="#c0c0c0"/></linearGradient><radialGradient id="bd"><stop offset="0.55" stop-color="#161616"/><stop offset="0.8" stop-color="#3a3a3a" stop-opacity="0.7"/><stop offset="1" stop-color="#6a6a6a" stop-opacity="0"/></radialGradient><clipPath id="dvc"><rect x="313.3" y="438.3" width="79.5" height="111.5"/></clipPath></defs><rect x="313.3" y="438.3" width="79.5" height="111.5" fill="url(#dv)"/><g clip-path="url(#dvc)"><path d="M324.8 438V550" stroke="#b2b2b2" stroke-width="1.6" opacity="0.4"/><path d="M339.3 438V550" stroke="#b2b2b2" stroke-width="1.6" opacity="0.4"/><path d="M353.8 438V550" stroke="#b2b2b2" stroke-width="1.6" opacity="0.4"/><path d="M368.4 438V550" stroke="#b2b2b2" stroke-width="1.6" opacity="0.4"/><path d="M382.9 438V550" stroke="#b2b2b2" stroke-width="1.6" opacity="0.4"/><path d="M313.3 450.0H392.9" stroke="#b2b2b2" stroke-width="1.6" opacity="0.4"/><path d="M313.3 464.6H392.9" stroke="#b2b2b2" stroke-width="1.6" opacity="0.4"/><path d="M313.3 479.0H392.9" stroke="#b2b2b2" stroke-width="1.6" opacity="0.4"/><path d="M313.3 493.6H392.9" stroke="#b2b2b2" stroke-width="1.6" opacity="0.4"/><path d="M313.3 508.0H392.9" stroke="#b2b2b2" stroke-width="1.6" opacity="0.4"/><path d="M313.3 522.6H392.9" stroke="#b2b2b2" stroke-width="1.6" opacity="0.4"/><path d="M313.3 537.0H392.9" stroke="#b2b2b2" stroke-width="1.6" opacity="0.4"/><g style="filter:blur(0.4px)"><polygon points="354.1,454.6 360.0,448.2 372.9,448.2 378.6,454.6 372.9,461.8 360.0,461.8" fill="#a9a9a9"/><polygon points="353.1,505.1 359.2,497.7 369.9,497.7 375.2,505.1 369.9,513.5 359.2,513.5" fill="#a6a6a6"/><polyline points="366.1,461.8 366.1,466.9" fill="none" stroke="#a2a2a2" stroke-width="1.6"/><polyline points="366.1,466.9 358.4,468.4 350.0,473.0 342.4,481.4 338.9,493.6 340.4,505.1 346.2,515.8 352.3,525.7 360.7,525.7" fill="none" stroke="#a0a0a0" stroke-width="1.1" stroke-linejoin="round"/><polyline points="366.1,466.9 373.7,468.4 382.1,473.0 389.0,482.9 391.4,496.7 388.2,509.6 382.1,518.8 376.8,525.7 367.6,525.7" fill="none" stroke="#a0a0a0" stroke-width="1.1" stroke-linejoin="round"/><polyline points="364.2,513.5 364.2,521.4" fill="none" stroke="#a4a4a4" stroke-width="1.4"/><polyline points="364.2,530.3 364.2,541.7 335.5,541.7" fill="none" stroke="#a6a6a6" stroke-width="1"/><polygon points="314.9,535.6 324.8,534.1 336.3,541.0 336.3,542.8 326.3,546.3 314.9,547.8" fill="#acacac"/></g><circle cx="366.8" cy="443.9" r="5.0" fill="url(#bd)"/><circle cx="366.4" cy="490.8" r="5.0" fill="url(#bd)"/><circle cx="320.2" cy="535.2" r="5.3" fill="url(#bd)"/></g><rect x="359.7" y="521.4" width="7.9" height="8.9" fill="none" stroke="#111" stroke-width="0.7"/><path d="M360 546.6H389.8" stroke="#f6f6f6" stroke-width="1.5"/><text x="317.9" y="447.4" font-size="6.6" font-weight="700" text-anchor="middle" fill="#f6f6f6">A</text><path d="M367.6 521.4L407.1 438.6M367.6 530.3L407.1 550.6" stroke="#111" stroke-width="0.6"/><rect x="407.1" y="438.6" width="79" height="112" fill="#fefefe" stroke="#111" stroke-width="0.9"/><path d="M407.1 494.3H441.2M450.5 494.3H486.1M407.1 502.1H441.2V550.6M486.1 502.1H450.5V550.6" fill="none" stroke="#111" stroke-width="0.7"/><path d="M435.9 438.9C437 443 438.2 446 439.4 449.3C440.5 453 441.3 456.5 442 460C442.8 464.5 443.3 468 443.6 472.2C444 478 444.1 482 444.2 487.5C444.3 492 444.5 495 444.8 498.2Q445.2 502.8 446 502.8Q446.9 502.8 447.5 498.2C447.8 495 448 492 448.1 487.5C448.3 482 448.6 478 449.1 472.2C449.5 468 450 464.5 450.6 460C451.3 456.5 452.1 453 453.2 449.3C454.4 446 455.6 443 456.7 438.9Z" fill="#c8202c" stroke="#5a1016" stroke-width="0.4"/><path d="M446 444.5V491" stroke="#6a0c14" stroke-width="0.8"/><path d="M446 493.5l-1.1-3h2.2z" fill="#6a0c14"/><circle cx="446" cy="509.2" r="2.1" fill="#cc2430"/><circle cx="446" cy="521.6" r="2.1" fill="#cc2430"/><circle cx="446" cy="533.8" r="2.1" fill="#cc2430"/><circle cx="446" cy="546.3" r="2.1" fill="#cc2430"/><text x="413.4" y="446.8" font-size="5.8" font-weight="700" text-anchor="middle" fill="#111">B</text><text x="459.9" y="446" font-size="5.2" fill="#d0303c">E3</text><text x="459.9" y="453" font-size="5.2" fill="#d0303c">DNA-Cy3</text><text x="408.6" y="500.4" font-size="5.2" fill="#222">Oil</text><text x="475.8" y="500.4" font-size="5.2" fill="#222">Oil</text><path d="M418.3 498.6H436.5M473 498.6H455.6" stroke="#222" stroke-width="0.5"/><path d="M437.8 498.6l-2.4-1v2zM454.4 498.6l2.4-1v2z" fill="#222"/></svg>
<svg style="left:0;top:0" width="1023" height="785"><path d="M30.4 588.2V604.7L35.8 628.7Q37.0 630.3 38.2 628.7L43.5 604.7V588.2Z" fill="#e9e9eb" stroke="#9a9a9e" stroke-width="0.6"/><clipPath id="tc958"><path d="M30.4 588.2V604.7L35.8 628.7Q37.0 630.3 38.2 628.7L43.5 604.7V588.2Z"/></clipPath><rect x="30.4" y="602.0" width="13.1" height="29.7" fill="#dba6ad" clip-path="url(#tc958)"/><rect x="27.1" y="585.6" width="19.8" height="2.6" rx="0.8" fill="#b9b9bd" stroke="#85858a" stroke-width="0.4"/><rect x="29.8" y="588.2" width="14.3" height="3.2" fill="#d2d2d6" stroke="#9a9a9e" stroke-width="0.4"/><path d="M124.6 588.2V604.7L130.0 628.7Q131.2 630.3 132.4 628.7L137.8 604.7V588.2Z" fill="#e9e9eb" stroke="#9a9a9e" stroke-width="0.6"/><clipPath id="tc1900"><path d="M124.6 588.2V604.7L130.0 628.7Q131.2 630.3 132.4 628.7L137.8 604.7V588.2Z"/></clipPath><rect x="124.6" y="602.0" width="13.2" height="29.7" fill="#dba6ad" clip-path="url(#tc1900)"/><rect x="121.0" y="585.6" width="20.3" height="2.6" rx="0.8" fill="#b9b9bd" stroke="#85858a" stroke-width="0.4"/><rect x="124.0" y="588.2" width="14.4" height="3.2" fill="#d2d2d6" stroke="#9a9a9e" stroke-width="0.4"/><path d="M63.3 645.5V681.0L70.1 698.5Q71.3 700.1 72.5 698.5L79.3 681.0V645.5Z" fill="#e9e9eb" stroke="#9a9a9e" stroke-width="0.6"/><clipPath id="tc1358"><path d="M63.3 645.5V681.0L70.1 698.5Q71.3 700.1 72.5 698.5L79.3 681.0V645.5Z"/></clipPath><rect x="63.3" y="662.7" width="16.0" height="38.8" fill="#d3e6f2" clip-path="url(#tc1358)"/><rect x="63.3" y="692.0" width="16.0" height="9.5" fill="#d9a6a6" clip-path="url(#tc1358)"/><rect x="58.3" y="642.9" width="26.0" height="2.6" rx="0.8" fill="#b9b9bd" stroke="#85858a" stroke-width="0.4"/><rect x="62.7" y="645.5" width="17.2" height="3.2" fill="#d2d2d6" stroke="#9a9a9e" stroke-width="0.4"/><path d="M170.8 654.7V673.7L176.2 697.2Q177.4 698.8 178.6 697.2L184.0 673.7V654.7Z" fill="#e9e9eb" stroke="#9a9a9e" stroke-width="0.6"/><clipPath id="tc2428"><path d="M170.8 654.7V673.7L176.2 697.2Q177.4 698.8 178.6 697.2L184.0 673.7V654.7Z"/></clipPath><rect x="170.8" y="700.0" width="13.2" height="0.2" fill="#eee" clip-path="url(#tc2428)"/><rect x="170.8" y="689.0" width="13.2" height="11.2" fill="#e0404e" clip-path="url(#tc2428)"/><rect x="166.6" y="652.1" width="21.7" height="2.6" rx="0.8" fill="#b9b9bd" stroke="#85858a" stroke-width="0.4"/><rect x="170.2" y="654.7" width="14.4" height="3.2" fill="#d2d2d6" stroke="#9a9a9e" stroke-width="0.4"/><path d="M171 673h3.5M171 679h5" stroke="#999" stroke-width="0.4"/><rect x="81.3" y="593.5" width="12.4" height="37.5" fill="#eef0f2" stroke="#a4a4a8" stroke-width="0.6"/><rect x="81.8" y="604.6" width="11.4" height="25.9" fill="#dcaab4"/><path d="M85.0 594.5V630.0" stroke="#fff" stroke-width="0.8" opacity="0.7"/><ellipse cx="87.0" cy="588.0" rx="6.5" ry="2.6" fill="#e4e4e6" stroke="#8a8a8e" stroke-width="0.5"/><ellipse cx="87.0" cy="587.2" rx="5.0" ry="1.3" fill="#f6f6f6" stroke="#aaa" stroke-width="0.3"/><rect x="122.7" y="660.5" width="15.1" height="43.1" fill="#eef0f2" stroke="#a4a4a8" stroke-width="0.6"/><rect x="123.2" y="673.2" width="14.1" height="29.9" fill="#84c0ea"/><path d="M127.2 661.5V702.6" stroke="#fff" stroke-width="0.8" opacity="0.7"/><ellipse cx="130.6" cy="654.2" rx="7.5" ry="2.6" fill="#e4e4e6" stroke="#8a8a8e" stroke-width="0.5"/><ellipse cx="130.6" cy="653.4" rx="6.0" ry="1.3" fill="#f6f6f6" stroke="#aaa" stroke-width="0.3"/><path d="M97 608H120" stroke="#333" stroke-width="0.5"/><path d="M121.6 608l-2.4-1.1v2.2z" fill="#333"/><path d="M71.9 606.6l-2.2-1v2z" fill="#333"/><path d="M114.2 669.8l-2.2-1v2z" fill="#333"/><g font-size="3.9" fill="#333" text-anchor="middle"><text x="36.4" y="574.6">Prepare</text><text x="36.4" y="580.8">Samples</text><text x="60.4" y="605.8">Aliquot</text><text x="86.6" y="581.6">Measure</text><text x="108.4" y="605.4">Transfer</text><text x="159.7" y="574.6">Heat</text><text x="101.6" y="667">Separate</text><text x="130.6" y="643.2">Measure</text><text x="130.6" y="649.4">Supernatant</text><text x="176.8" y="648.6">Coacervate</text><text x="98.5" y="692.2" font-size="3.5">Concentrated E3 with</text><text x="98.5" y="697" font-size="3.5">combined DNA-Cy3</text></g><g font-size="5" font-weight="700" fill="#222" text-anchor="middle"><text x="19.8" y="577.8">A</text><text x="128.5" y="577.8">B</text><text x="52" y="662.3">C</text></g><path d="M174 578.4H219.6L231.2 596.7H164.2Z" fill="#d4d6d6"/><path d="M184.6 581.4H212.6L215.6 590.9H180.6Z" fill="#8d99a6"/><ellipse cx="186.2" cy="582.9" rx="1" ry="0.6" fill="#d6e2ee"/><ellipse cx="189.5" cy="582.9" rx="1" ry="0.6" fill="#d6e2ee"/><ellipse cx="192.8" cy="582.9" rx="1" ry="0.6" fill="#d6e2ee"/><ellipse cx="196.1" cy="582.9" rx="1" ry="0.6" fill="#d6e2ee"/><ellipse cx="199.4" cy="582.9" rx="1" ry="0.6" fill="#d6e2ee"/><ellipse cx="202.7" cy="582.9" rx="1" ry="0.6" fill="#d6e2ee"/><ellipse cx="206.0" cy="582.9" rx="1" ry="0.6" fill="#d6e2ee"/><ellipse cx="209.3" cy="582.9" rx="1" ry="0.6" fill="#d6e2ee"/><ellipse cx="185.3" cy="585.0" rx="1" ry="0.6" fill="#d6e2ee"/><ellipse cx="188.8" cy="585.0" rx="1" ry="0.6" fill="#d6e2ee"/><ellipse cx="192.4" cy="585.0" rx="1" ry="0.6" fill="#d6e2ee"/><ellipse cx="195.9" cy="585.0" rx="1" ry="0.6" fill="#d6e2ee"/><ellipse cx="199.4" cy="585.0" rx="1" ry="0.6" fill="#d6e2ee"/><ellipse cx="202.9" cy="585.0" rx="1" ry="0.6" fill="#d6e2ee"/><ellipse cx="206.5" cy="585.0" rx="1" ry="0.6" fill="#d6e2ee"/><ellipse cx="210.0" cy="585.0" rx="1" ry="0.6" fill="#d6e2ee"/><ellipse cx="184.4" cy="587.2" rx="1" ry="0.6" fill="#d6e2ee"/><ellipse cx="188.2" cy="587.2" rx="1" ry="0.6" fill="#d6e2ee"/><ellipse cx="191.9" cy="587.2" rx="1" ry="0.6" fill="#d6e2ee"/><ellipse cx="195.7" cy="587.2" rx="1" ry="0.6" fill="#d6e2ee"/><ellipse cx="199.4" cy="587.2" rx="1" ry="0.6" fill="#d6e2ee"/><ellipse cx="203.2" cy="587.2" rx="1" ry="0.6" fill="#d6e2ee"/><ellipse cx="207.0" cy="587.2" rx="1" ry="0.6" fill="#d6e2ee"/><ellipse cx="210.7" cy="587.2" rx="1" ry="0.6" fill="#d6e2ee"/><ellipse cx="183.5" cy="589.4" rx="1" ry="0.6" fill="#d6e2ee"/><ellipse cx="187.5" cy="589.4" rx="1" ry="0.6" fill="#d6e2ee"/><ellipse cx="191.5" cy="589.4" rx="1" ry="0.6" fill="#d6e2ee"/><ellipse cx="195.5" cy="589.4" rx="1" ry="0.6" fill="#d6e2ee"/><ellipse cx="199.5" cy="589.4" rx="1" ry="0.6" fill="#d6e2ee"/><ellipse cx="203.4" cy="589.4" rx="1" ry="0.6" fill="#d6e2ee"/><ellipse cx="207.4" cy="589.4" rx="1" ry="0.6" fill="#d6e2ee"/><ellipse cx="211.4" cy="589.4" rx="1" ry="0.6" fill="#d6e2ee"/><path d="M164.2 596.7H231V628.3H228V631.5H171.5V628.3H164.2Z" fill="#68aca1"/><path d="M164.2 596.7H172Q169.5 612 172 628.3H164.2Z" fill="#539a8f"/><path d="M231 596.7H223.2Q225.7 612 223.2 628.3H231Z" fill="#539a8f"/><path d="M172 599.5H223Q226 612 223 626H172Q169 612 172 599.5Z" fill="#5ea499"/><rect x="183.4" y="604.6" width="29.8" height="15.8" rx="0.8" fill="#dcdcdc" stroke="#9a9a9a" stroke-width="0.3"/><rect x="187.9" y="607.8" width="20.6" height="6" fill="#30343a"/><circle cx="186.9" cy="617.3" r="0.9" fill="#4a4e54"/><circle cx="190.6" cy="617.3" r="0.9" fill="#4a4e54"/><circle cx="194.5" cy="617.3" r="0.9" fill="#4a4e54"/><circle cx="198.5" cy="617.3" r="0.9" fill="#4a4e54"/><path d="M141.3 586C145 568 166 559.5 179.2 580.6" fill="none" stroke="#111" stroke-width="1.3"/><path d="M181.6 585.4l-5.2-2.8 4.6-3z" fill="#111"/></svg>
<svg style="left:0;top:0" width="1023" height="785"><g stroke="#222" stroke-width="0.8" fill="none"><path d="M61.1 444.4V527.1H161.4"/><path d="M61.1 444.8h-2.6"/><path d="M61.1 472.2h-2.6"/><path d="M61.1 499.7h-2.6"/><path d="M61.1 527.1h-2.6"/><path d="M61.1 527.1v2.6"/><path d="M106.5 527.1v2.6"/><path d="M151.9 527.1v2.6"/><path d="M61.1 527.1v1.6" stroke-width="0.5"/><path d="M65.6 527.1v1.6" stroke-width="0.5"/><path d="M70.2 527.1v1.6" stroke-width="0.5"/><path d="M74.7 527.1v1.6" stroke-width="0.5"/><path d="M79.3 527.1v1.6" stroke-width="0.5"/><path d="M83.8 527.1v1.6" stroke-width="0.5"/><path d="M88.3 527.1v1.6" stroke-width="0.5"/><path d="M92.9 527.1v1.6" stroke-width="0.5"/><path d="M97.4 527.1v1.6" stroke-width="0.5"/><path d="M102.0 527.1v1.6" stroke-width="0.5"/><path d="M106.5 527.1v1.6" stroke-width="0.5"/><path d="M111.0 527.1v1.6" stroke-width="0.5"/><path d="M115.6 527.1v1.6" stroke-width="0.5"/><path d="M120.1 527.1v1.6" stroke-width="0.5"/><path d="M124.7 527.1v1.6" stroke-width="0.5"/><path d="M129.2 527.1v1.6" stroke-width="0.5"/><path d="M133.7 527.1v1.6" stroke-width="0.5"/><path d="M138.3 527.1v1.6" stroke-width="0.5"/><path d="M142.8 527.1v1.6" stroke-width="0.5"/><path d="M147.4 527.1v1.6" stroke-width="0.5"/><path d="M151.9 527.1v1.6" stroke-width="0.5"/><path d="M156.4 527.1v1.6" stroke-width="0.5"/><path d="M161.0 527.1v1.6" stroke-width="0.5"/></g><g font-size="5" font-weight="700" fill="#222" text-anchor="end"><text x="56.6" y="446.6">6</text><text x="56.6" y="474.0">4</text><text x="56.6" y="501.5">2</text><text x="56.6" y="528.9">0</text></g><g font-size="5" font-weight="700" fill="#222" text-anchor="middle"><text x="61.1" y="537.4">20</text><text x="106.5" y="537.4">30</text><text x="151.9" y="537.4">40</text></g><text x="111.3" y="547.9" font-size="5.8" text-anchor="middle" fill="#222" textLength="45" lengthAdjust="spacingAndGlyphs">Temperature (°C)</text><text transform="translate(44.4 486.2) rotate(-90)" font-size="5.8" text-anchor="middle" fill="#222" textLength="51" lengthAdjust="spacingAndGlyphs">Optical  Density</text><polyline points="61.1,527.1 66.9,527.1 72.2,527.1 75.4,526.6 81.5,516.1 85.4,487.0 90.2,475.9 94.7,470.4 99.1,465.4 103.9,461.9 108.6,459.8 113.4,458.3" fill="none" stroke="#f7943a" stroke-width="0.8"/><path d="M61.1 525.7l1.4 1.4l-1.4 1.4l-1.4-1.4z" fill="#f7943a"/><path d="M66.9 525.7l1.4 1.4l-1.4 1.4l-1.4-1.4z" fill="#f7943a"/><path d="M72.2 525.7l1.4 1.4l-1.4 1.4l-1.4-1.4z" fill="#f7943a"/><path d="M75.4 525.2l1.4 1.4l-1.4 1.4l-1.4-1.4z" fill="#f7943a"/><path d="M81.5 514.7l1.4 1.4l-1.4 1.4l-1.4-1.4z" fill="#f7943a"/><path d="M85.4 485.6l1.4 1.4l-1.4 1.4l-1.4-1.4z" fill="#f7943a"/><path d="M90.2 474.5l1.4 1.4l-1.4 1.4l-1.4-1.4z" fill="#f7943a"/><path d="M94.7 469.0l1.4 1.4l-1.4 1.4l-1.4-1.4z" fill="#f7943a"/><path d="M99.1 464.0l1.4 1.4l-1.4 1.4l-1.4-1.4z" fill="#f7943a"/><path d="M103.9 460.5l1.4 1.4l-1.4 1.4l-1.4-1.4z" fill="#f7943a"/><path d="M108.6 458.4l1.4 1.4l-1.4 1.4l-1.4-1.4z" fill="#f7943a"/><path d="M113.4 456.9l1.4 1.4l-1.4 1.4l-1.4-1.4z" fill="#f7943a"/><polyline points="61.1,527.1 66.9,527.1 72.2,527.1 75.4,526.6 80.1,508.1 84.9,485.2 90.2,477.3 94.7,472.5 99.1,469.3 103.9,467.2 108.6,466.4 112.3,466.2" fill="none" stroke="#3cc43c" stroke-width="0.8"/><path d="M61.1 525.7l1.3 2.3h-2.6z" fill="#3cc43c"/><path d="M66.9 525.7l1.3 2.3h-2.6z" fill="#3cc43c"/><path d="M72.2 525.7l1.3 2.3h-2.6z" fill="#3cc43c"/><path d="M75.4 525.2l1.3 2.3h-2.6z" fill="#3cc43c"/><path d="M80.1 506.7l1.3 2.3h-2.6z" fill="#3cc43c"/><path d="M84.9 483.8l1.3 2.3h-2.6z" fill="#3cc43c"/><path d="M90.2 475.9l1.3 2.3h-2.6z" fill="#3cc43c"/><path d="M94.7 471.1l1.3 2.3h-2.6z" fill="#3cc43c"/><path d="M99.1 467.9l1.3 2.3h-2.6z" fill="#3cc43c"/><path d="M103.9 465.8l1.3 2.3h-2.6z" fill="#3cc43c"/><path d="M108.6 465.0l1.3 2.3h-2.6z" fill="#3cc43c"/><path d="M112.3 464.8l1.3 2.3h-2.6z" fill="#3cc43c"/><polyline points="116.6,524.0 121.1,523.2 125.0,522.7 128.4,521.3 131.6,481.7 135.6,471.2 139.0,466.7 143.0,459.8" fill="none" stroke="#ee1c25" stroke-width="0.8"/><rect x="115.3" y="522.7" width="2.6" height="2.6" fill="#ee1c25"/><rect x="119.8" y="521.9" width="2.6" height="2.6" fill="#ee1c25"/><rect x="123.7" y="521.4" width="2.6" height="2.6" fill="#ee1c25"/><rect x="127.1" y="520.0" width="2.6" height="2.6" fill="#ee1c25"/><rect x="130.3" y="480.4" width="2.6" height="2.6" fill="#ee1c25"/><rect x="134.3" y="469.9" width="2.6" height="2.6" fill="#ee1c25"/><rect x="137.7" y="465.4" width="2.6" height="2.6" fill="#ee1c25"/><rect x="141.7" y="458.5" width="2.6" height="2.6" fill="#ee1c25"/><polyline points="106.5,525.6 110.5,525.6 113.9,525.3 117.6,525.0 121.6,524.8 125.0,524.5 129.0,524.2 132.4,524.0 136.1,523.7 139.8,523.4 143.5,523.2 146.9,520.5 150.3,494.1 154.0,474.6 157.7,468.5 161.4,465.4" fill="none" stroke="#1822d6" stroke-width="0.8"/><circle cx="106.5" cy="525.6" r="1.25" fill="#1822d6"/><circle cx="110.5" cy="525.6" r="1.25" fill="#1822d6"/><circle cx="113.9" cy="525.3" r="1.25" fill="#1822d6"/><circle cx="117.6" cy="525.0" r="1.25" fill="#1822d6"/><circle cx="121.6" cy="524.8" r="1.25" fill="#1822d6"/><circle cx="125.0" cy="524.5" r="1.25" fill="#1822d6"/><circle cx="129.0" cy="524.2" r="1.25" fill="#1822d6"/><circle cx="132.4" cy="524.0" r="1.25" fill="#1822d6"/><circle cx="136.1" cy="523.7" r="1.25" fill="#1822d6"/><circle cx="139.8" cy="523.4" r="1.25" fill="#1822d6"/><circle cx="143.5" cy="523.2" r="1.25" fill="#1822d6"/><circle cx="146.9" cy="520.5" r="1.25" fill="#1822d6"/><circle cx="150.3" cy="494.1" r="1.25" fill="#1822d6"/><circle cx="154.0" cy="474.6" r="1.25" fill="#1822d6"/><circle cx="157.7" cy="468.5" r="1.25" fill="#1822d6"/><circle cx="161.4" cy="465.4" r="1.25" fill="#1822d6"/><path d="M176.5 451.4H184.4" stroke="#f7943a" stroke-width="0.8"/><path d="M180.4 450.0l1.4 1.4l-1.4 1.4l-1.4-1.4z" fill="#f7943a"/><text x="187.8" y="453.3" font-size="5.6" fill="#333" textLength="56.0" lengthAdjust="spacingAndGlyphs">1mM E1-40 (+ssDNA)</text><path d="M176.5 462.5H184.4" stroke="#3cc43c" stroke-width="0.8"/><path d="M180.4 461.1l1.3 2.3h-2.6z" fill="#3cc43c"/><text x="187.8" y="464.4" font-size="5.6" fill="#333" textLength="54.5" lengthAdjust="spacingAndGlyphs">1mM E1-40 (-ssDNA)</text><path d="M176.5 473.6H184.4" stroke="#ee1c25" stroke-width="0.8"/><rect x="179.1" y="472.3" width="2.6" height="2.6" fill="#ee1c25"/><text x="187.8" y="475.5" font-size="5.6" fill="#333" textLength="47.5" lengthAdjust="spacingAndGlyphs">1mM E3 (+ssDNA)</text><path d="M176.5 484.6H184.4" stroke="#1822d6" stroke-width="0.8"/><circle cx="180.4" cy="484.6" r="1.25" fill="#1822d6"/><text x="187.8" y="486.5" font-size="5.6" fill="#333" textLength="46.0" lengthAdjust="spacingAndGlyphs">1mM E3 (-ssDNA)</text></svg>
<svg style="left:0;top:0" width="1023" height="785"><defs><radialGradient id="q1"><stop offset="0" stop-color="#b40e20"/><stop offset="0.7" stop-color="#a80c1c"/><stop offset="1" stop-color="#a80c1c" stop-opacity="0"/></radialGradient><radialGradient id="q2"><stop offset="0" stop-color="#64020f"/><stop offset="0.7" stop-color="#58000e"/><stop offset="1" stop-color="#58000e" stop-opacity="0"/></radialGradient><radialGradient id="q3"><stop offset="0" stop-color="#48000c" /><stop offset="1" stop-color="#48000c" stop-opacity="0"/></radialGradient><radialGradient id="q4"><stop offset="0" stop-color="#960c1a"/><stop offset="0.7" stop-color="#8c0a18"/><stop offset="1" stop-color="#8c0a18" stop-opacity="0"/></radialGradient><clipPath id="qc00"><rect x="819.4" y="555.4" width="54.5" height="55.6"/></clipPath><clipPath id="qc01"><rect x="875.0" y="555.4" width="53.1" height="55.6"/></clipPath><clipPath id="qc02"><rect x="929.2" y="555.4" width="53.1" height="55.6"/></clipPath><clipPath id="qc10"><rect x="819.4" y="613.5" width="54.5" height="55.6"/></clipPath><clipPath id="qc11"><rect x="875.0" y="613.5" width="53.1" height="55.6"/></clipPath><clipPath id="qc12"><rect x="929.2" y="613.5" width="53.1" height="55.6"/></clipPath></defs><rect x="819.4" y="555.4" width="162.9" height="113.7" fill="#e6dede"/><rect x="819.4" y="555.4" width="54.5" height="55.6" fill="#38000a"/><rect x="875.0" y="555.4" width="53.1" height="55.6" fill="#2e0008"/><rect x="929.2" y="555.4" width="53.1" height="55.6" fill="#1e0004"/><rect x="819.4" y="613.5" width="54.5" height="55.6" fill="#2a0006"/><rect x="875.0" y="613.5" width="53.1" height="55.6" fill="#220005"/><rect x="929.2" y="613.5" width="53.1" height="55.6" fill="#1c0003"/><circle cx="846.3" cy="580.6" r="21.5" fill="url(#q1)" clip-path="url(#qc00)"/><circle cx="900.9" cy="585.8" r="22" fill="url(#q2)" clip-path="url(#qc01)"/><circle cx="956.6" cy="583.2" r="17" fill="url(#q3)" clip-path="url(#qc02)"/><circle cx="956.6" cy="583.2" r="4.3" fill="#ff1424" style="filter:blur(0.6px)"/><circle cx="847.2" cy="638.6" r="16.6" fill="url(#q4)" clip-path="url(#qc10)"/><circle cx="900" cy="638.6" r="11" fill="url(#q3)" opacity="0.7"/><circle cx="900" cy="638.6" r="1.3" fill="#c81424" style="filter:blur(0.4px)"/><circle cx="956.6" cy="639" r="12.5" fill="url(#q3)"/><circle cx="956.6" cy="639" r="2.1" fill="#ee1424" style="filter:blur(0.5px)"/><path d="M851.6 602.5H871.5" stroke="#f6f0f0" stroke-width="1.6"/><path d="M906.1 602.5H925.5" stroke="#f6f0f0" stroke-width="1.6"/><path d="M960.3 602.5H979.7" stroke="#f6f0f0" stroke-width="1.6"/><path d="M851.6 660.6H871.5" stroke="#f6f0f0" stroke-width="1.6"/><path d="M906.1 660.6H925.5" stroke="#f6f0f0" stroke-width="1.6"/><path d="M960.3 660.6H979.7" stroke="#f6f0f0" stroke-width="1.6"/><g font-size="5" font-weight="700" fill="#f4f0f0"><text x="821.2" y="561.7" textLength="25.0" lengthAdjust="spacingAndGlyphs">0 minutes</text><text x="821.2" y="568.8">T&lt;Tt</text><text x="877.1" y="561.7" textLength="25.0" lengthAdjust="spacingAndGlyphs">3 minutes</text><text x="877.1" y="568.8">T&gt;Tt</text><text x="931.3" y="561.7" textLength="27.8" lengthAdjust="spacingAndGlyphs">30 minutes</text><text x="931.3" y="568.8">T&lt;Tt</text><text x="931.3" y="610.4">-NaCl</text><text x="931.3" y="665.5">+NaCl</text></g></svg>
<svg style="left:0;top:0" width="1023" height="785"><defs><radialGradient id="m1" cx="0.52" cy="0.5"><stop offset="0" stop-color="#ff7c7c"/><stop offset="0.5" stop-color="#f56668"/><stop offset="0.76" stop-color="#d04e50"/><stop offset="0.87" stop-color="#8c3234"/><stop offset="0.95" stop-color="#4e2422"/><stop offset="1" stop-color="#6a4a48"/></radialGradient><radialGradient id="m2"><stop offset="0" stop-color="#9c3638"/><stop offset="0.8" stop-color="#8c2e30"/><stop offset="0.92" stop-color="#5c2224"/><stop offset="1" stop-color="#5a3634"/></radialGradient><radialGradient id="m2b"><stop offset="0" stop-color="#c84446"/><stop offset="0.78" stop-color="#a8383a"/><stop offset="0.9" stop-color="#6c2628"/><stop offset="0.97" stop-color="#4c2624"/><stop offset="1" stop-color="#6a4a48"/></radialGradient><radialGradient id="m3" cx="0.55" cy="0.45"><stop offset="0" stop-color="#d47474"/><stop offset="0.65" stop-color="#bc6262"/><stop offset="0.86" stop-color="#8c4a4a"/><stop offset="0.95" stop-color="#4e3030"/><stop offset="1" stop-color="#6a4e4c"/></radialGradient><radialGradient id="m4"><stop offset="0" stop-color="#8e7070"/><stop offset="0.55" stop-color="#7a5a5a"/><stop offset="0.9" stop-color="#503838"/><stop offset="1" stop-color="#3c2a2a"/></radialGradient><clipPath id="mc00"><rect x="268.8" y="574.4" width="59.7" height="59.4"/></clipPath><clipPath id="mc01"><rect x="330.4" y="574.4" width="59.4" height="59.4"/></clipPath><clipPath id="mc02"><rect x="391.5" y="574.4" width="59.9" height="59.4"/></clipPath><clipPath id="mc10"><rect x="268.8" y="635.5" width="59.7" height="59.2"/></clipPath><clipPath id="mc11"><rect x="330.4" y="635.5" width="59.4" height="59.2"/></clipPath><clipPath id="mc12"><rect x="391.5" y="635.5" width="59.9" height="59.2"/></clipPath></defs><rect x="268" y="573.6" width="184.2" height="121.9" fill="#dcd6d6"/><rect x="268.8" y="574.4" width="59.7" height="59.4" fill="#a09593"/><rect x="330.4" y="574.4" width="59.4" height="59.4" fill="#a09593"/><rect x="391.5" y="574.4" width="59.9" height="59.4" fill="#a09593"/><rect x="268.8" y="635.5" width="59.7" height="59.2" fill="#a09593"/><rect x="330.4" y="635.5" width="59.4" height="59.2" fill="#a09593"/><rect x="391.5" y="635.5" width="59.9" height="59.2" fill="#a09593"/><circle cx="266.9" cy="589.1" r="15.2" fill="url(#m1)" clip-path="url(#mc00)"/><circle cx="273.0" cy="629.4" r="12.2" fill="url(#m1)" clip-path="url(#mc00)"/><circle cx="326.0" cy="627.7" r="12.2" fill="url(#m1)" clip-path="url(#mc00)"/><circle cx="335.3" cy="602.5" r="9.8" fill="url(#m1)" clip-path="url(#mc00)"/><circle cx="298.7" cy="605.0" r="23.9" fill="url(#m1)" clip-path="url(#mc00)"/><circle cx="384.2" cy="573.2" r="9.3" fill="url(#m2)" clip-path="url(#mc01)"/><circle cx="387.9" cy="627.0" r="11.0" fill="url(#m2)" clip-path="url(#mc01)"/><circle cx="326.0" cy="620.9" r="7.3" fill="url(#m2)" clip-path="url(#mc01)"/><circle cx="360.5" cy="603.8" r="25.9" fill="url(#m2)" clip-path="url(#mc01)"/><g clip-path="url(#mc01)"><circle cx="370.4" cy="620.6" r="1.0" fill="#c86062" opacity="0.75"/><circle cx="349.7" cy="605.2" r="1.2" fill="#c86062" opacity="0.75"/><circle cx="366.4" cy="588.0" r="1.0" fill="#c86062" opacity="0.75"/><circle cx="360.6" cy="605.1" r="0.9" fill="#c86062" opacity="0.75"/><circle cx="355.2" cy="600.6" r="1.2" fill="#c86062" opacity="0.75"/><circle cx="361.8" cy="615.0" r="0.6" fill="#c86062" opacity="0.75"/><circle cx="380.7" cy="603.4" r="1.2" fill="#c86062" opacity="0.75"/><circle cx="357.2" cy="600.9" r="0.8" fill="#c86062" opacity="0.75"/><circle cx="352.5" cy="603.9" r="1.3" fill="#c86062" opacity="0.75"/><circle cx="354.2" cy="610.6" r="1.2" fill="#c86062" opacity="0.75"/><circle cx="376.5" cy="619.8" r="0.9" fill="#c86062" opacity="0.75"/><circle cx="347.4" cy="599.4" r="0.9" fill="#c86062" opacity="0.75"/><circle cx="362.2" cy="607.9" r="1.2" fill="#c86062" opacity="0.75"/><circle cx="362.5" cy="624.4" r="0.7" fill="#c86062" opacity="0.75"/><circle cx="382.3" cy="599.4" r="1.1" fill="#c86062" opacity="0.75"/><circle cx="361.9" cy="585.9" r="1.1" fill="#c86062" opacity="0.75"/><circle cx="372.1" cy="615.0" r="1.2" fill="#c86062" opacity="0.75"/><circle cx="367.3" cy="625.3" r="1.2" fill="#c86062" opacity="0.75"/><circle cx="348.5" cy="611.4" r="0.9" fill="#c86062" opacity="0.75"/><circle cx="342.8" cy="619.2" r="0.9" fill="#c86062" opacity="0.75"/><circle cx="367.6" cy="605.0" r="1.1" fill="#c86062" opacity="0.75"/><circle cx="377.0" cy="603.0" r="0.9" fill="#c86062" opacity="0.75"/><circle cx="341.2" cy="597.5" r="0.8" fill="#c86062" opacity="0.75"/><circle cx="346.9" cy="592.7" r="1.0" fill="#c86062" opacity="0.75"/><circle cx="364.6" cy="612.5" r="0.8" fill="#c86062" opacity="0.75"/><circle cx="372.9" cy="597.6" r="1.0" fill="#c86062" opacity="0.75"/><circle cx="357.9" cy="610.8" r="0.6" fill="#c86062" opacity="0.75"/><circle cx="368.5" cy="584.7" r="0.9" fill="#c86062" opacity="0.75"/><circle cx="352.6" cy="586.1" r="1.2" fill="#c86062" opacity="0.75"/><circle cx="375.0" cy="599.8" r="1.3" fill="#c86062" opacity="0.75"/><circle cx="378.0" cy="599.4" r="1.2" fill="#c86062" opacity="0.75"/><circle cx="346.1" cy="604.6" r="0.8" fill="#c86062" opacity="0.75"/><circle cx="367.2" cy="597.1" r="0.6" fill="#c86062" opacity="0.75"/><circle cx="367.5" cy="584.3" r="0.9" fill="#c86062" opacity="0.75"/><circle cx="363.3" cy="599.2" r="0.8" fill="#c86062" opacity="0.75"/><circle cx="356.7" cy="618.5" r="0.7" fill="#c86062" opacity="0.75"/><circle cx="372.9" cy="609.5" r="1.2" fill="#c86062" opacity="0.75"/><circle cx="380.7" cy="601.6" r="0.9" fill="#c86062" opacity="0.75"/><circle cx="360.2" cy="626.8" r="1.0" fill="#c86062" opacity="0.75"/><circle cx="359.9" cy="599.8" r="0.7" fill="#c86062" opacity="0.75"/><circle cx="371.5" cy="585.9" r="1.2" fill="#c86062" opacity="0.75"/><circle cx="348.1" cy="594.7" r="1.0" fill="#c86062" opacity="0.75"/><circle cx="368.1" cy="593.2" r="1.0" fill="#c86062" opacity="0.75"/><circle cx="357.2" cy="624.1" r="0.6" fill="#c86062" opacity="0.75"/><circle cx="351.4" cy="582.7" r="0.6" fill="#c86062" opacity="0.75"/><circle cx="344.8" cy="593.3" r="1.2" fill="#c86062" opacity="0.75"/><circle cx="350.2" cy="597.8" r="0.9" fill="#c86062" opacity="0.75"/><circle cx="382.1" cy="598.0" r="0.7" fill="#c86062" opacity="0.75"/><circle cx="366.4" cy="607.8" r="0.6" fill="#c86062" opacity="0.75"/><circle cx="352.2" cy="606.7" r="1.2" fill="#c86062" opacity="0.75"/><circle cx="355.8" cy="596.9" r="1.0" fill="#c86062" opacity="0.75"/><circle cx="353.1" cy="618.5" r="0.8" fill="#c86062" opacity="0.75"/><circle cx="365.6" cy="612.5" r="0.9" fill="#c86062" opacity="0.75"/><circle cx="356.1" cy="586.9" r="0.6" fill="#c86062" opacity="0.75"/><circle cx="355.1" cy="582.5" r="1.1" fill="#c86062" opacity="0.75"/><circle cx="361.0" cy="601.8" r="0.9" fill="#c86062" opacity="0.75"/><circle cx="379.4" cy="611.7" r="0.7" fill="#c86062" opacity="0.75"/><circle cx="357.6" cy="592.3" r="1.1" fill="#c86062" opacity="0.75"/><circle cx="358.6" cy="608.2" r="0.9" fill="#c86062" opacity="0.75"/><circle cx="352.4" cy="624.5" r="0.8" fill="#c86062" opacity="0.75"/><circle cx="343.1" cy="603.4" r="1.3" fill="#c86062" opacity="0.75"/><circle cx="375.3" cy="614.3" r="1.0" fill="#c86062" opacity="0.75"/><circle cx="358.2" cy="580.8" r="0.8" fill="#c86062" opacity="0.75"/><circle cx="355.1" cy="587.6" r="1.0" fill="#c86062" opacity="0.75"/><circle cx="380.0" cy="612.0" r="1.3" fill="#c86062" opacity="0.75"/><circle cx="352.4" cy="614.2" r="1.3" fill="#c86062" opacity="0.75"/><circle cx="365.5" cy="607.8" r="0.7" fill="#c86062" opacity="0.75"/><circle cx="368.5" cy="584.9" r="0.9" fill="#c86062" opacity="0.75"/><circle cx="358.1" cy="601.5" r="1.1" fill="#c86062" opacity="0.75"/><circle cx="344.7" cy="609.7" r="0.9" fill="#c86062" opacity="0.75"/><circle cx="351.4" cy="610.2" r="0.6" fill="#c86062" opacity="0.75"/><circle cx="349.8" cy="608.5" r="1.1" fill="#c86062" opacity="0.75"/><circle cx="368.6" cy="585.5" r="0.9" fill="#c86062" opacity="0.75"/><circle cx="361.7" cy="618.3" r="0.9" fill="#c86062" opacity="0.75"/><circle cx="344.9" cy="586.8" r="0.7" fill="#c86062" opacity="0.75"/><circle cx="344.1" cy="605.9" r="1.1" fill="#c86062" opacity="0.75"/><circle cx="376.5" cy="590.5" r="1.0" fill="#c86062" opacity="0.75"/><circle cx="361.5" cy="584.6" r="1.2" fill="#c86062" opacity="0.75"/><circle cx="354.3" cy="585.3" r="0.8" fill="#c86062" opacity="0.75"/><circle cx="373.1" cy="596.4" r="1.0" fill="#c86062" opacity="0.75"/><circle cx="370.9" cy="583.2" r="1.3" fill="#c86062" opacity="0.75"/><circle cx="373.6" cy="604.3" r="0.8" fill="#c86062" opacity="0.75"/><circle cx="353.5" cy="609.4" r="1.0" fill="#c86062" opacity="0.75"/><circle cx="371.8" cy="610.0" r="1.3" fill="#c86062" opacity="0.75"/><circle cx="359.7" cy="587.8" r="0.7" fill="#c86062" opacity="0.75"/><circle cx="379.4" cy="598.3" r="0.7" fill="#c86062" opacity="0.75"/><circle cx="350.9" cy="620.0" r="1.1" fill="#c86062" opacity="0.75"/><circle cx="358.9" cy="626.6" r="0.8" fill="#c86062" opacity="0.75"/><circle cx="359.9" cy="625.4" r="0.7" fill="#c86062" opacity="0.75"/><circle cx="356.1" cy="594.2" r="1.0" fill="#c86062" opacity="0.75"/><circle cx="358.0" cy="618.0" r="1.3" fill="#c86062" opacity="0.75"/><circle cx="345.3" cy="607.0" r="1.0" fill="#c86062" opacity="0.75"/><circle cx="358.6" cy="613.4" r="0.9" fill="#c86062" opacity="0.75"/><circle cx="359.1" cy="613.9" r="1.3" fill="#c86062" opacity="0.75"/><circle cx="381.1" cy="608.3" r="1.3" fill="#c86062" opacity="0.75"/><circle cx="359.6" cy="600.7" r="1.0" fill="#c86062" opacity="0.75"/><circle cx="378.3" cy="608.2" r="1.1" fill="#c86062" opacity="0.75"/><circle cx="360.6" cy="605.8" r="1.0" fill="#c86062" opacity="0.75"/><circle cx="371.3" cy="611.1" r="0.9" fill="#c86062" opacity="0.75"/><circle cx="371.7" cy="594.9" r="0.7" fill="#c86062" opacity="0.75"/><circle cx="366.0" cy="583.2" r="1.0" fill="#c86062" opacity="0.75"/><circle cx="370.2" cy="606.9" r="0.9" fill="#c86062" opacity="0.75"/><circle cx="349.9" cy="600.2" r="1.2" fill="#c86062" opacity="0.75"/><circle cx="373.0" cy="584.9" r="1.2" fill="#c86062" opacity="0.75"/><circle cx="378.3" cy="605.7" r="0.7" fill="#c86062" opacity="0.75"/><circle cx="376.9" cy="591.7" r="1.1" fill="#c86062" opacity="0.75"/><circle cx="362.7" cy="609.1" r="1.2" fill="#c86062" opacity="0.75"/><circle cx="345.9" cy="592.3" r="0.9" fill="#c86062" opacity="0.75"/><circle cx="364.7" cy="590.8" r="0.8" fill="#c86062" opacity="0.75"/><circle cx="352.8" cy="614.0" r="1.0" fill="#c86062" opacity="0.75"/><circle cx="365.3" cy="599.8" r="0.6" fill="#c86062" opacity="0.75"/><circle cx="341.2" cy="602.4" r="0.7" fill="#c86062" opacity="0.75"/><circle cx="359.8" cy="609.4" r="0.6" fill="#c86062" opacity="0.75"/><circle cx="341.1" cy="604.4" r="1.1" fill="#c86062" opacity="0.75"/><circle cx="364.6" cy="610.1" r="1.3" fill="#c86062" opacity="0.75"/><circle cx="345.9" cy="600.2" r="1.1" fill="#c86062" opacity="0.75"/><circle cx="358.1" cy="586.9" r="0.7" fill="#c86062" opacity="0.75"/><circle cx="365.5" cy="594.1" r="0.6" fill="#c86062" opacity="0.75"/><circle cx="350.2" cy="617.5" r="1.0" fill="#c86062" opacity="0.75"/><circle cx="369.6" cy="621.3" r="0.9" fill="#c86062" opacity="0.75"/><circle cx="371.9" cy="622.2" r="1.2" fill="#c86062" opacity="0.75"/><circle cx="376.6" cy="593.0" r="0.8" fill="#c86062" opacity="0.75"/><circle cx="364.3" cy="581.8" r="1.0" fill="#c86062" opacity="0.75"/><circle cx="379.9" cy="591.1" r="0.9" fill="#c86062" opacity="0.75"/><circle cx="381.7" cy="595.6" r="1.2" fill="#c86062" opacity="0.75"/><circle cx="374.4" cy="604.7" r="1.0" fill="#c86062" opacity="0.75"/><circle cx="344.5" cy="591.1" r="1.1" fill="#c86062" opacity="0.75"/><circle cx="372.5" cy="623.0" r="1.0" fill="#c86062" opacity="0.75"/><circle cx="368.3" cy="596.5" r="1.3" fill="#c86062" opacity="0.75"/><circle cx="341.0" cy="596.8" r="1.1" fill="#c86062" opacity="0.75"/><circle cx="370.9" cy="594.2" r="0.7" fill="#c86062" opacity="0.75"/><circle cx="352.3" cy="609.3" r="1.0" fill="#c86062" opacity="0.75"/><circle cx="366.1" cy="590.8" r="0.7" fill="#c86062" opacity="0.75"/><circle cx="375.5" cy="606.3" r="1.0" fill="#c86062" opacity="0.75"/><circle cx="379.4" cy="606.9" r="0.7" fill="#c86062" opacity="0.75"/><circle cx="378.2" cy="617.9" r="1.0" fill="#c86062" opacity="0.75"/><circle cx="373.8" cy="593.4" r="0.7" fill="#c86062" opacity="0.75"/><circle cx="361.5" cy="619.0" r="1.0" fill="#c86062" opacity="0.75"/><circle cx="363.1" cy="583.6" r="1.1" fill="#c86062" opacity="0.75"/><circle cx="360.2" cy="619.2" r="0.9" fill="#c86062" opacity="0.75"/><circle cx="348.4" cy="604.6" r="1.0" fill="#c86062" opacity="0.75"/><circle cx="356.2" cy="604.9" r="1.2" fill="#c86062" opacity="0.75"/><circle cx="342.4" cy="592.9" r="1.1" fill="#c86062" opacity="0.75"/><circle cx="357.6" cy="580.5" r="0.9" fill="#c86062" opacity="0.75"/><circle cx="359.4" cy="604.7" r="1.1" fill="#c86062" opacity="0.75"/><circle cx="344.9" cy="595.1" r="1.3" fill="#c86062" opacity="0.75"/><circle cx="364.2" cy="614.3" r="1.1" fill="#c86062" opacity="0.75"/><circle cx="366.7" cy="588.7" r="0.6" fill="#c86062" opacity="0.75"/><circle cx="345.8" cy="619.3" r="0.9" fill="#c86062" opacity="0.75"/><circle cx="346.3" cy="607.3" r="1.0" fill="#c86062" opacity="0.75"/><circle cx="344.5" cy="592.4" r="1.2" fill="#c86062" opacity="0.75"/><circle cx="360.6" cy="589.4" r="0.8" fill="#c86062" opacity="0.75"/><circle cx="364.6" cy="583.2" r="1.2" fill="#c86062" opacity="0.75"/><circle cx="367.3" cy="624.3" r="1.2" fill="#c86062" opacity="0.75"/><circle cx="372.0" cy="609.8" r="1.0" fill="#c86062" opacity="0.75"/><circle cx="373.5" cy="620.8" r="0.8" fill="#c86062" opacity="0.75"/><circle cx="355.2" cy="592.1" r="0.8" fill="#c86062" opacity="0.75"/><circle cx="364.9" cy="619.7" r="1.1" fill="#c86062" opacity="0.75"/><circle cx="364.4" cy="622.8" r="0.8" fill="#c86062" opacity="0.75"/><circle cx="352.0" cy="592.3" r="0.7" fill="#c86062" opacity="0.75"/><circle cx="364.1" cy="608.1" r="1.1" fill="#c86062" opacity="0.75"/><circle cx="353.4" cy="608.0" r="1.2" fill="#c86062" opacity="0.75"/><circle cx="358.6" cy="600.9" r="1.1" fill="#c86062" opacity="0.75"/><circle cx="347.5" cy="595.0" r="1.0" fill="#c86062" opacity="0.75"/><circle cx="374.4" cy="600.3" r="1.0" fill="#c86062" opacity="0.75"/><circle cx="351.1" cy="593.1" r="0.8" fill="#c86062" opacity="0.75"/><circle cx="361.0" cy="585.0" r="0.9" fill="#c86062" opacity="0.75"/><circle cx="349.4" cy="602.8" r="1.2" fill="#c86062" opacity="0.75"/><circle cx="379.2" cy="606.1" r="0.9" fill="#c86062" opacity="0.75"/><circle cx="363.7" cy="621.5" r="1.0" fill="#c86062" opacity="0.75"/><circle cx="374.6" cy="612.3" r="0.7" fill="#c86062" opacity="0.75"/><circle cx="364.5" cy="591.0" r="0.8" fill="#c86062" opacity="0.75"/><circle cx="361.6" cy="608.8" r="0.7" fill="#c86062" opacity="0.75"/><circle cx="371.2" cy="618.9" r="1.2" fill="#c86062" opacity="0.75"/><circle cx="361.9" cy="611.5" r="1.0" fill="#c86062" opacity="0.75"/><circle cx="371.7" cy="613.7" r="1.1" fill="#c86062" opacity="0.75"/><circle cx="366.2" cy="622.6" r="1.0" fill="#c86062" opacity="0.75"/><circle cx="370.4" cy="609.7" r="1.0" fill="#c86062" opacity="0.75"/><circle cx="369.2" cy="609.8" r="1.0" fill="#c86062" opacity="0.75"/><circle cx="367.5" cy="588.3" r="1.1" fill="#c86062" opacity="0.75"/><circle cx="373.4" cy="604.5" r="0.8" fill="#c86062" opacity="0.75"/><circle cx="372.5" cy="596.5" r="1.1" fill="#c86062" opacity="0.75"/><circle cx="376.7" cy="607.3" r="1.2" fill="#c86062" opacity="0.75"/><circle cx="362.8" cy="586.0" r="0.7" fill="#c86062" opacity="0.75"/><circle cx="366.4" cy="600.8" r="1.3" fill="#c86062" opacity="0.75"/><circle cx="363.7" cy="584.1" r="1.0" fill="#c86062" opacity="0.75"/><circle cx="367.6" cy="615.5" r="1.1" fill="#c86062" opacity="0.75"/><circle cx="352.3" cy="591.6" r="1.2" fill="#c86062" opacity="0.75"/><circle cx="372.4" cy="607.9" r="0.7" fill="#c86062" opacity="0.75"/><circle cx="351.0" cy="622.4" r="1.1" fill="#c86062" opacity="0.75"/><circle cx="368.2" cy="614.3" r="0.7" fill="#c86062" opacity="0.75"/><circle cx="352.2" cy="590.5" r="0.8" fill="#c86062" opacity="0.75"/><circle cx="345.1" cy="619.3" r="0.9" fill="#c86062" opacity="0.75"/><circle cx="353.7" cy="586.4" r="0.9" fill="#c86062" opacity="0.75"/><circle cx="347.2" cy="598.9" r="0.7" fill="#c86062" opacity="0.75"/><circle cx="347.5" cy="604.2" r="0.8" fill="#c86062" opacity="0.75"/><circle cx="369.2" cy="624.5" r="0.9" fill="#c86062" opacity="0.75"/><circle cx="361.8" cy="607.7" r="0.7" fill="#c86062" opacity="0.75"/><circle cx="369.7" cy="593.7" r="1.1" fill="#c86062" opacity="0.75"/><circle cx="362.8" cy="622.6" r="0.9" fill="#c86062" opacity="0.75"/><circle cx="359.0" cy="586.7" r="0.9" fill="#c86062" opacity="0.75"/><circle cx="357.1" cy="621.6" r="1.2" fill="#c86062" opacity="0.75"/><circle cx="354.6" cy="588.6" r="0.8" fill="#c86062" opacity="0.75"/><circle cx="377.2" cy="590.1" r="0.7" fill="#c86062" opacity="0.75"/><circle cx="351.6" cy="585.1" r="1.1" fill="#c86062" opacity="0.75"/><circle cx="382.0" cy="598.8" r="0.8" fill="#c86062" opacity="0.75"/><circle cx="373.9" cy="603.4" r="0.9" fill="#c86062" opacity="0.75"/><circle cx="370.0" cy="602.3" r="0.9" fill="#c86062" opacity="0.75"/><circle cx="351.8" cy="595.1" r="0.8" fill="#c86062" opacity="0.75"/><circle cx="365.5" cy="586.1" r="1.1" fill="#c86062" opacity="0.75"/><circle cx="365.9" cy="582.5" r="1.2" fill="#c86062" opacity="0.75"/><circle cx="370.8" cy="582.9" r="0.9" fill="#c86062" opacity="0.75"/><circle cx="355.4" cy="587.7" r="1.3" fill="#c86062" opacity="0.75"/><circle cx="351.8" cy="591.0" r="1.1" fill="#c86062" opacity="0.75"/><circle cx="358.1" cy="611.9" r="0.9" fill="#c86062" opacity="0.75"/><circle cx="361.5" cy="604.9" r="0.7" fill="#c86062" opacity="0.75"/><circle cx="340.8" cy="609.6" r="0.6" fill="#c86062" opacity="0.75"/><circle cx="355.4" cy="597.8" r="1.0" fill="#c86062" opacity="0.75"/><circle cx="356.0" cy="618.8" r="1.1" fill="#c86062" opacity="0.75"/><circle cx="347.9" cy="611.4" r="1.1" fill="#c86062" opacity="0.75"/><circle cx="370.9" cy="613.0" r="1.1" fill="#c86062" opacity="0.75"/><circle cx="372.3" cy="583.7" r="0.8" fill="#c86062" opacity="0.75"/><circle cx="351.2" cy="594.5" r="1.1" fill="#c86062" opacity="0.75"/><circle cx="365.4" cy="596.6" r="0.8" fill="#c86062" opacity="0.75"/><circle cx="373.3" cy="598.3" r="1.0" fill="#c86062" opacity="0.75"/><circle cx="365.6" cy="592.5" r="1.1" fill="#c86062" opacity="0.75"/><circle cx="374.2" cy="604.1" r="0.7" fill="#c86062" opacity="0.75"/><circle cx="354.3" cy="612.7" r="0.6" fill="#c86062" opacity="0.75"/><circle cx="363.7" cy="594.5" r="1.0" fill="#c86062" opacity="0.75"/><circle cx="340.1" cy="596.6" r="1.2" fill="#c86062" opacity="0.75"/><circle cx="353.5" cy="597.1" r="1.1" fill="#c86062" opacity="0.75"/><circle cx="379.0" cy="616.8" r="0.8" fill="#c86062" opacity="0.75"/><circle cx="360.3" cy="614.7" r="0.9" fill="#c86062" opacity="0.75"/><circle cx="366.0" cy="582.8" r="1.1" fill="#c86062" opacity="0.75"/><circle cx="359.0" cy="592.3" r="0.8" fill="#c86062" opacity="0.75"/><circle cx="355.3" cy="618.3" r="1.2" fill="#c86062" opacity="0.75"/><circle cx="367.3" cy="603.6" r="1.3" fill="#c86062" opacity="0.75"/><circle cx="374.4" cy="595.9" r="1.1" fill="#c86062" opacity="0.75"/><circle cx="362.6" cy="593.8" r="1.0" fill="#c86062" opacity="0.75"/><circle cx="382.4" cy="601.2" r="1.2" fill="#c86062" opacity="0.75"/><circle cx="377.6" cy="613.8" r="0.9" fill="#c86062" opacity="0.75"/><circle cx="368.6" cy="598.6" r="1.0" fill="#c86062" opacity="0.75"/><circle cx="375.8" cy="618.2" r="1.1" fill="#c86062" opacity="0.75"/><circle cx="373.3" cy="606.3" r="0.7" fill="#c86062" opacity="0.75"/><circle cx="348.2" cy="589.8" r="0.6" fill="#c86062" opacity="0.75"/><circle cx="382.5" cy="596.7" r="0.9" fill="#c86062" opacity="0.75"/><circle cx="347.8" cy="597.4" r="1.0" fill="#c86062" opacity="0.75"/><circle cx="348.0" cy="613.1" r="1.1" fill="#c86062" opacity="0.75"/><circle cx="365.5" cy="615.6" r="1.1" fill="#c86062" opacity="0.75"/><circle cx="361.5" cy="609.9" r="1.2" fill="#c86062" opacity="0.75"/><circle cx="368.6" cy="616.5" r="0.8" fill="#c86062" opacity="0.75"/><circle cx="359.5" cy="617.7" r="1.0" fill="#c86062" opacity="0.75"/><circle cx="373.3" cy="615.2" r="0.6" fill="#c86062" opacity="0.75"/><circle cx="369.8" cy="608.8" r="0.8" fill="#c86062" opacity="0.75"/><circle cx="353.6" cy="614.4" r="1.2" fill="#c86062" opacity="0.75"/><circle cx="351.6" cy="590.2" r="1.1" fill="#c86062" opacity="0.75"/><circle cx="355.3" cy="591.6" r="1.0" fill="#c86062" opacity="0.75"/><circle cx="360.0" cy="586.6" r="1.1" fill="#c86062" opacity="0.75"/><circle cx="345.2" cy="587.0" r="0.8" fill="#c86062" opacity="0.75"/><circle cx="349.5" cy="583.3" r="1.0" fill="#c86062" opacity="0.75"/></g><circle cx="447.7" cy="572.0" r="9.8" fill="url(#m3)" clip-path="url(#mc02)"/><circle cx="450.2" cy="630.6" r="11.0" fill="url(#m3)" clip-path="url(#mc02)"/><circle cx="420.8" cy="602.5" r="24.9" fill="url(#m3)" clip-path="url(#mc02)"/><circle cx="426.2" cy="600.1" r="13.2" fill="none" stroke="#6a4444" stroke-width="0.5"/><circle cx="426.2" cy="600.1" r="9.8" fill="#dc6464" stroke="#8a3c3c" stroke-width="0.5"/><circle cx="271.8" cy="693.0" r="7.3" fill="url(#m1)" clip-path="url(#mc10)"/><circle cx="298.7" cy="663.6" r="25.9" fill="url(#m1)" clip-path="url(#mc10)"/><circle cx="360.5" cy="664.9" r="26.6" fill="url(#m2b)" clip-path="url(#mc11)"/><g clip-path="url(#mc11)"><circle cx="366.7" cy="660.6" r="1.2" fill="#ee6668" opacity="0.8"/><circle cx="358.5" cy="686.0" r="0.9" fill="#ee6668" opacity="0.8"/><circle cx="348.6" cy="662.2" r="0.8" fill="#ee6668" opacity="0.8"/><circle cx="373.5" cy="650.1" r="1.1" fill="#ee6668" opacity="0.8"/><circle cx="370.4" cy="673.7" r="1.4" fill="#ee6668" opacity="0.8"/><circle cx="365.7" cy="682.1" r="1.2" fill="#ee6668" opacity="0.8"/><circle cx="342.3" cy="663.7" r="1.4" fill="#ee6668" opacity="0.8"/><circle cx="362.8" cy="653.2" r="0.9" fill="#ee6668" opacity="0.8"/><circle cx="342.8" cy="674.7" r="1.1" fill="#ee6668" opacity="0.8"/><circle cx="359.1" cy="685.2" r="0.9" fill="#ee6668" opacity="0.8"/><circle cx="373.7" cy="666.1" r="0.9" fill="#ee6668" opacity="0.8"/><circle cx="367.1" cy="683.8" r="1.4" fill="#ee6668" opacity="0.8"/><circle cx="378.1" cy="656.7" r="1.3" fill="#ee6668" opacity="0.8"/><circle cx="341.7" cy="665.9" r="1.3" fill="#ee6668" opacity="0.8"/><circle cx="374.2" cy="670.3" r="0.9" fill="#ee6668" opacity="0.8"/><circle cx="351.8" cy="678.3" r="0.6" fill="#ee6668" opacity="0.8"/><circle cx="350.1" cy="643.3" r="0.8" fill="#ee6668" opacity="0.8"/><circle cx="366.1" cy="677.9" r="1.2" fill="#ee6668" opacity="0.8"/><circle cx="363.7" cy="686.1" r="0.7" fill="#ee6668" opacity="0.8"/><circle cx="343.3" cy="653.2" r="1.1" fill="#ee6668" opacity="0.8"/><circle cx="381.2" cy="677.0" r="1.3" fill="#ee6668" opacity="0.8"/><circle cx="337.9" cy="667.6" r="1.1" fill="#ee6668" opacity="0.8"/><circle cx="368.0" cy="678.3" r="1.3" fill="#ee6668" opacity="0.8"/><circle cx="355.6" cy="666.0" r="0.7" fill="#ee6668" opacity="0.8"/><circle cx="367.8" cy="682.1" r="1.1" fill="#ee6668" opacity="0.8"/><circle cx="345.8" cy="669.9" r="1.4" fill="#ee6668" opacity="0.8"/><circle cx="349.4" cy="681.6" r="0.8" fill="#ee6668" opacity="0.8"/><circle cx="350.1" cy="664.0" r="0.7" fill="#ee6668" opacity="0.8"/><circle cx="356.2" cy="672.0" r="0.9" fill="#ee6668" opacity="0.8"/><circle cx="350.1" cy="650.0" r="1.2" fill="#ee6668" opacity="0.8"/><circle cx="353.5" cy="665.9" r="1.2" fill="#ee6668" opacity="0.8"/><circle cx="343.2" cy="677.1" r="1.4" fill="#ee6668" opacity="0.8"/><circle cx="348.4" cy="663.0" r="0.9" fill="#ee6668" opacity="0.8"/><circle cx="346.6" cy="665.0" r="0.7" fill="#ee6668" opacity="0.8"/><circle cx="344.6" cy="676.7" r="1.3" fill="#ee6668" opacity="0.8"/><circle cx="362.1" cy="641.9" r="1.2" fill="#ee6668" opacity="0.8"/><circle cx="343.8" cy="675.3" r="0.6" fill="#ee6668" opacity="0.8"/><circle cx="366.1" cy="645.0" r="0.8" fill="#ee6668" opacity="0.8"/><circle cx="347.9" cy="667.1" r="1.2" fill="#ee6668" opacity="0.8"/><circle cx="341.1" cy="674.5" r="1.3" fill="#ee6668" opacity="0.8"/><circle cx="363.1" cy="650.0" r="0.9" fill="#ee6668" opacity="0.8"/><circle cx="382.4" cy="657.0" r="0.8" fill="#ee6668" opacity="0.8"/><circle cx="346.4" cy="681.4" r="1.2" fill="#ee6668" opacity="0.8"/><circle cx="357.1" cy="680.9" r="1.4" fill="#ee6668" opacity="0.8"/><circle cx="371.3" cy="671.7" r="1.1" fill="#ee6668" opacity="0.8"/><circle cx="380.4" cy="651.7" r="1.0" fill="#ee6668" opacity="0.8"/><circle cx="366.5" cy="641.5" r="0.9" fill="#ee6668" opacity="0.8"/><circle cx="362.3" cy="677.2" r="1.2" fill="#ee6668" opacity="0.8"/><circle cx="372.1" cy="678.8" r="1.3" fill="#ee6668" opacity="0.8"/><circle cx="366.4" cy="683.4" r="1.0" fill="#ee6668" opacity="0.8"/><circle cx="377.6" cy="661.1" r="1.0" fill="#ee6668" opacity="0.8"/><circle cx="377.9" cy="652.7" r="0.7" fill="#ee6668" opacity="0.8"/><circle cx="365.6" cy="650.2" r="1.4" fill="#ee6668" opacity="0.8"/><circle cx="377.2" cy="660.9" r="0.9" fill="#ee6668" opacity="0.8"/><circle cx="362.3" cy="677.6" r="0.8" fill="#ee6668" opacity="0.8"/><circle cx="370.8" cy="683.1" r="0.6" fill="#ee6668" opacity="0.8"/><circle cx="345.1" cy="653.9" r="1.2" fill="#ee6668" opacity="0.8"/><circle cx="339.0" cy="655.2" r="0.8" fill="#ee6668" opacity="0.8"/><circle cx="376.1" cy="675.2" r="0.8" fill="#ee6668" opacity="0.8"/><circle cx="383.9" cy="663.0" r="1.2" fill="#ee6668" opacity="0.8"/><circle cx="366.5" cy="654.4" r="1.0" fill="#ee6668" opacity="0.8"/><circle cx="349.8" cy="674.5" r="0.9" fill="#ee6668" opacity="0.8"/><circle cx="340.9" cy="667.6" r="0.6" fill="#ee6668" opacity="0.8"/><circle cx="352.0" cy="662.7" r="1.4" fill="#ee6668" opacity="0.8"/><circle cx="342.7" cy="658.9" r="0.9" fill="#ee6668" opacity="0.8"/><circle cx="354.8" cy="645.0" r="1.3" fill="#ee6668" opacity="0.8"/><circle cx="349.3" cy="658.7" r="1.1" fill="#ee6668" opacity="0.8"/><circle cx="380.6" cy="671.4" r="0.8" fill="#ee6668" opacity="0.8"/><circle cx="358.8" cy="656.1" r="1.1" fill="#ee6668" opacity="0.8"/><circle cx="362.8" cy="668.9" r="0.8" fill="#ee6668" opacity="0.8"/><circle cx="369.3" cy="652.4" r="1.0" fill="#ee6668" opacity="0.8"/><circle cx="366.5" cy="641.4" r="0.8" fill="#ee6668" opacity="0.8"/><circle cx="353.0" cy="644.5" r="1.2" fill="#ee6668" opacity="0.8"/><circle cx="350.9" cy="678.7" r="1.2" fill="#ee6668" opacity="0.8"/><circle cx="360.4" cy="681.9" r="1.1" fill="#ee6668" opacity="0.8"/><circle cx="367.6" cy="655.1" r="1.1" fill="#ee6668" opacity="0.8"/><circle cx="362.5" cy="674.4" r="1.0" fill="#ee6668" opacity="0.8"/><circle cx="348.7" cy="649.2" r="1.4" fill="#ee6668" opacity="0.8"/><circle cx="369.6" cy="680.2" r="1.0" fill="#ee6668" opacity="0.8"/><circle cx="359.2" cy="688.3" r="0.7" fill="#ee6668" opacity="0.8"/><circle cx="360.2" cy="669.8" r="1.1" fill="#ee6668" opacity="0.8"/><circle cx="354.1" cy="655.2" r="1.3" fill="#ee6668" opacity="0.8"/><circle cx="353.2" cy="656.6" r="1.4" fill="#ee6668" opacity="0.8"/><circle cx="368.8" cy="653.9" r="1.3" fill="#ee6668" opacity="0.8"/><circle cx="370.4" cy="675.4" r="0.9" fill="#ee6668" opacity="0.8"/><circle cx="373.3" cy="661.1" r="0.9" fill="#ee6668" opacity="0.8"/><circle cx="366.4" cy="686.2" r="0.7" fill="#ee6668" opacity="0.8"/><circle cx="368.7" cy="653.1" r="1.0" fill="#ee6668" opacity="0.8"/><circle cx="369.5" cy="656.0" r="1.0" fill="#ee6668" opacity="0.8"/><circle cx="348.2" cy="650.8" r="0.9" fill="#ee6668" opacity="0.8"/><circle cx="352.1" cy="654.0" r="0.7" fill="#ee6668" opacity="0.8"/><circle cx="379.5" cy="665.9" r="1.1" fill="#ee6668" opacity="0.8"/><circle cx="363.4" cy="655.6" r="1.1" fill="#ee6668" opacity="0.8"/><circle cx="343.5" cy="670.0" r="1.3" fill="#ee6668" opacity="0.8"/><circle cx="344.4" cy="663.0" r="1.1" fill="#ee6668" opacity="0.8"/><circle cx="374.2" cy="683.2" r="1.0" fill="#ee6668" opacity="0.8"/><circle cx="376.9" cy="669.3" r="1.4" fill="#ee6668" opacity="0.8"/><circle cx="376.3" cy="662.7" r="0.8" fill="#ee6668" opacity="0.8"/><circle cx="372.5" cy="659.7" r="0.6" fill="#ee6668" opacity="0.8"/><circle cx="360.8" cy="681.7" r="1.1" fill="#ee6668" opacity="0.8"/><circle cx="373.4" cy="670.6" r="1.2" fill="#ee6668" opacity="0.8"/><circle cx="354.8" cy="673.4" r="1.2" fill="#ee6668" opacity="0.8"/><circle cx="341.7" cy="672.8" r="1.0" fill="#ee6668" opacity="0.8"/><circle cx="367.1" cy="648.6" r="1.4" fill="#ee6668" opacity="0.8"/><circle cx="368.5" cy="645.6" r="1.0" fill="#ee6668" opacity="0.8"/><circle cx="348.9" cy="655.3" r="0.7" fill="#ee6668" opacity="0.8"/><circle cx="376.9" cy="650.2" r="1.2" fill="#ee6668" opacity="0.8"/><circle cx="372.0" cy="650.8" r="1.4" fill="#ee6668" opacity="0.8"/><circle cx="336.6" cy="669.0" r="0.7" fill="#ee6668" opacity="0.8"/><circle cx="347.1" cy="677.7" r="1.3" fill="#ee6668" opacity="0.8"/><circle cx="338.9" cy="662.1" r="0.9" fill="#ee6668" opacity="0.8"/><circle cx="350.8" cy="645.3" r="1.1" fill="#ee6668" opacity="0.8"/><circle cx="380.2" cy="667.4" r="0.6" fill="#ee6668" opacity="0.8"/><circle cx="357.8" cy="672.7" r="1.2" fill="#ee6668" opacity="0.8"/><circle cx="370.7" cy="683.0" r="0.7" fill="#ee6668" opacity="0.8"/><circle cx="366.0" cy="684.5" r="1.3" fill="#ee6668" opacity="0.8"/><circle cx="377.8" cy="673.2" r="0.9" fill="#ee6668" opacity="0.8"/><circle cx="355.6" cy="660.1" r="0.6" fill="#ee6668" opacity="0.8"/><circle cx="380.8" cy="675.8" r="1.0" fill="#ee6668" opacity="0.8"/><circle cx="353.7" cy="659.1" r="1.1" fill="#ee6668" opacity="0.8"/><circle cx="369.3" cy="658.5" r="1.2" fill="#ee6668" opacity="0.8"/><circle cx="374.6" cy="644.9" r="1.1" fill="#ee6668" opacity="0.8"/><circle cx="351.6" cy="653.5" r="1.2" fill="#ee6668" opacity="0.8"/><circle cx="353.3" cy="682.8" r="1.1" fill="#ee6668" opacity="0.8"/><circle cx="382.2" cy="663.3" r="0.7" fill="#ee6668" opacity="0.8"/><circle cx="367.0" cy="678.0" r="0.9" fill="#ee6668" opacity="0.8"/><circle cx="357.9" cy="652.6" r="1.0" fill="#ee6668" opacity="0.8"/><circle cx="347.6" cy="668.9" r="1.1" fill="#ee6668" opacity="0.8"/><circle cx="338.3" cy="674.7" r="0.7" fill="#ee6668" opacity="0.8"/><circle cx="376.2" cy="653.2" r="1.0" fill="#ee6668" opacity="0.8"/><circle cx="377.9" cy="674.1" r="1.2" fill="#ee6668" opacity="0.8"/><circle cx="348.4" cy="681.6" r="1.0" fill="#ee6668" opacity="0.8"/><circle cx="379.6" cy="677.1" r="0.8" fill="#ee6668" opacity="0.8"/><circle cx="339.3" cy="667.5" r="1.3" fill="#ee6668" opacity="0.8"/><circle cx="369.5" cy="653.0" r="1.3" fill="#ee6668" opacity="0.8"/><circle cx="370.9" cy="679.8" r="0.9" fill="#ee6668" opacity="0.8"/><circle cx="374.3" cy="649.3" r="1.1" fill="#ee6668" opacity="0.8"/><circle cx="365.8" cy="651.4" r="1.0" fill="#ee6668" opacity="0.8"/><circle cx="372.1" cy="673.6" r="0.8" fill="#ee6668" opacity="0.8"/><circle cx="359.4" cy="656.1" r="1.3" fill="#ee6668" opacity="0.8"/><circle cx="347.2" cy="655.2" r="0.7" fill="#ee6668" opacity="0.8"/><circle cx="343.1" cy="670.9" r="0.7" fill="#ee6668" opacity="0.8"/><circle cx="375.0" cy="662.7" r="0.9" fill="#ee6668" opacity="0.8"/><circle cx="357.2" cy="679.5" r="0.8" fill="#ee6668" opacity="0.8"/><circle cx="364.5" cy="659.6" r="0.9" fill="#ee6668" opacity="0.8"/><circle cx="346.6" cy="655.1" r="0.9" fill="#ee6668" opacity="0.8"/><circle cx="354.4" cy="665.5" r="0.8" fill="#ee6668" opacity="0.8"/><circle cx="340.8" cy="673.4" r="0.9" fill="#ee6668" opacity="0.8"/><circle cx="343.4" cy="674.9" r="0.8" fill="#ee6668" opacity="0.8"/><circle cx="350.2" cy="661.5" r="1.1" fill="#ee6668" opacity="0.8"/><circle cx="341.3" cy="660.1" r="1.3" fill="#ee6668" opacity="0.8"/><circle cx="367.2" cy="641.5" r="0.8" fill="#ee6668" opacity="0.8"/><circle cx="376.1" cy="660.1" r="0.9" fill="#ee6668" opacity="0.8"/><circle cx="337.9" cy="671.5" r="1.4" fill="#ee6668" opacity="0.8"/><circle cx="365.0" cy="652.2" r="0.7" fill="#ee6668" opacity="0.8"/><circle cx="366.3" cy="684.1" r="1.2" fill="#ee6668" opacity="0.8"/><circle cx="361.8" cy="665.4" r="1.4" fill="#ee6668" opacity="0.8"/><circle cx="357.9" cy="669.1" r="1.0" fill="#ee6668" opacity="0.8"/><circle cx="378.6" cy="677.6" r="1.0" fill="#ee6668" opacity="0.8"/><circle cx="342.5" cy="649.6" r="0.7" fill="#ee6668" opacity="0.8"/><circle cx="365.2" cy="686.1" r="1.1" fill="#ee6668" opacity="0.8"/><circle cx="347.0" cy="670.4" r="1.1" fill="#ee6668" opacity="0.8"/><circle cx="382.9" cy="656.7" r="1.3" fill="#ee6668" opacity="0.8"/><circle cx="369.3" cy="663.6" r="0.6" fill="#ee6668" opacity="0.8"/><circle cx="366.3" cy="654.1" r="1.0" fill="#ee6668" opacity="0.8"/><circle cx="336.8" cy="669.7" r="1.0" fill="#ee6668" opacity="0.8"/><circle cx="367.8" cy="673.1" r="1.3" fill="#ee6668" opacity="0.8"/><circle cx="364.1" cy="656.5" r="1.4" fill="#ee6668" opacity="0.8"/><circle cx="346.0" cy="679.9" r="1.1" fill="#ee6668" opacity="0.8"/><circle cx="371.2" cy="651.5" r="0.6" fill="#ee6668" opacity="0.8"/><circle cx="339.3" cy="656.9" r="0.9" fill="#ee6668" opacity="0.8"/><circle cx="368.0" cy="650.3" r="0.9" fill="#ee6668" opacity="0.8"/><circle cx="353.1" cy="673.9" r="1.0" fill="#ee6668" opacity="0.8"/><circle cx="378.7" cy="660.0" r="1.2" fill="#ee6668" opacity="0.8"/><circle cx="366.9" cy="678.3" r="1.1" fill="#ee6668" opacity="0.8"/><circle cx="358.8" cy="666.4" r="1.3" fill="#ee6668" opacity="0.8"/><circle cx="374.2" cy="679.3" r="1.4" fill="#ee6668" opacity="0.8"/><circle cx="357.4" cy="677.2" r="0.9" fill="#ee6668" opacity="0.8"/><circle cx="337.1" cy="658.6" r="0.7" fill="#ee6668" opacity="0.8"/><circle cx="361.2" cy="688.0" r="0.8" fill="#ee6668" opacity="0.8"/><circle cx="350.1" cy="646.8" r="0.6" fill="#ee6668" opacity="0.8"/><circle cx="381.5" cy="668.5" r="1.3" fill="#ee6668" opacity="0.8"/><circle cx="354.7" cy="649.1" r="0.7" fill="#ee6668" opacity="0.8"/><circle cx="352.5" cy="663.5" r="0.9" fill="#ee6668" opacity="0.8"/><circle cx="377.6" cy="668.7" r="1.0" fill="#ee6668" opacity="0.8"/><circle cx="358.0" cy="676.1" r="0.7" fill="#ee6668" opacity="0.8"/><circle cx="369.1" cy="666.4" r="1.4" fill="#ee6668" opacity="0.8"/><circle cx="380.8" cy="669.1" r="1.0" fill="#ee6668" opacity="0.8"/><circle cx="348.9" cy="657.8" r="1.4" fill="#ee6668" opacity="0.8"/><circle cx="366.0" cy="650.3" r="0.9" fill="#ee6668" opacity="0.8"/><circle cx="368.9" cy="660.1" r="1.3" fill="#ee6668" opacity="0.8"/><circle cx="346.9" cy="652.3" r="1.0" fill="#ee6668" opacity="0.8"/><circle cx="354.3" cy="660.9" r="0.8" fill="#ee6668" opacity="0.8"/><circle cx="353.5" cy="674.0" r="0.7" fill="#ee6668" opacity="0.8"/><circle cx="356.8" cy="649.4" r="1.2" fill="#ee6668" opacity="0.8"/><circle cx="342.0" cy="679.8" r="0.8" fill="#ee6668" opacity="0.8"/><circle cx="344.6" cy="663.6" r="1.2" fill="#ee6668" opacity="0.8"/><circle cx="372.8" cy="678.1" r="1.0" fill="#ee6668" opacity="0.8"/><circle cx="352.1" cy="656.5" r="1.0" fill="#ee6668" opacity="0.8"/><circle cx="368.3" cy="664.1" r="1.4" fill="#ee6668" opacity="0.8"/><circle cx="376.5" cy="661.4" r="0.7" fill="#ee6668" opacity="0.8"/><circle cx="336.4" cy="665.4" r="0.6" fill="#ee6668" opacity="0.8"/><circle cx="360.8" cy="643.2" r="0.7" fill="#ee6668" opacity="0.8"/><circle cx="352.9" cy="659.2" r="0.7" fill="#ee6668" opacity="0.8"/><circle cx="347.2" cy="663.1" r="1.1" fill="#ee6668" opacity="0.8"/><circle cx="348.9" cy="662.9" r="1.3" fill="#ee6668" opacity="0.8"/><circle cx="382.4" cy="665.7" r="0.8" fill="#ee6668" opacity="0.8"/><circle cx="375.8" cy="653.5" r="1.0" fill="#ee6668" opacity="0.8"/><circle cx="365.3" cy="687.0" r="1.3" fill="#ee6668" opacity="0.8"/><circle cx="378.7" cy="660.2" r="1.3" fill="#ee6668" opacity="0.8"/><circle cx="376.2" cy="652.5" r="0.9" fill="#ee6668" opacity="0.8"/><circle cx="349.1" cy="656.2" r="1.3" fill="#ee6668" opacity="0.8"/><circle cx="338.9" cy="657.4" r="1.3" fill="#ee6668" opacity="0.8"/><circle cx="360.8" cy="653.8" r="0.9" fill="#ee6668" opacity="0.8"/><circle cx="372.7" cy="672.1" r="0.7" fill="#ee6668" opacity="0.8"/><circle cx="353.8" cy="685.6" r="0.7" fill="#ee6668" opacity="0.8"/><circle cx="380.9" cy="653.2" r="1.2" fill="#ee6668" opacity="0.8"/><circle cx="361.5" cy="678.0" r="1.0" fill="#ee6668" opacity="0.8"/><circle cx="343.1" cy="648.9" r="0.6" fill="#ee6668" opacity="0.8"/><circle cx="379.5" cy="676.3" r="0.6" fill="#ee6668" opacity="0.8"/><circle cx="368.8" cy="658.3" r="1.4" fill="#ee6668" opacity="0.8"/><circle cx="341.7" cy="668.3" r="1.3" fill="#ee6668" opacity="0.8"/><circle cx="367.5" cy="650.7" r="1.0" fill="#ee6668" opacity="0.8"/><circle cx="363.4" cy="652.8" r="0.8" fill="#ee6668" opacity="0.8"/><circle cx="376.3" cy="648.1" r="1.3" fill="#ee6668" opacity="0.8"/><circle cx="352.5" cy="676.8" r="0.7" fill="#ee6668" opacity="0.8"/><circle cx="363.1" cy="660.2" r="0.7" fill="#ee6668" opacity="0.8"/><circle cx="376.9" cy="667.4" r="1.4" fill="#ee6668" opacity="0.8"/><circle cx="371.6" cy="670.1" r="0.8" fill="#ee6668" opacity="0.8"/><circle cx="356.0" cy="650.9" r="0.7" fill="#ee6668" opacity="0.8"/><circle cx="352.1" cy="643.2" r="0.7" fill="#ee6668" opacity="0.8"/><circle cx="374.9" cy="670.9" r="1.3" fill="#ee6668" opacity="0.8"/><circle cx="369.0" cy="668.2" r="1.1" fill="#ee6668" opacity="0.8"/><circle cx="361.6" cy="648.4" r="0.6" fill="#ee6668" opacity="0.8"/><circle cx="353.1" cy="662.4" r="0.7" fill="#ee6668" opacity="0.8"/><circle cx="382.7" cy="673.1" r="0.7" fill="#ee6668" opacity="0.8"/><circle cx="338.6" cy="668.3" r="0.8" fill="#ee6668" opacity="0.8"/><circle cx="343.7" cy="678.8" r="1.1" fill="#ee6668" opacity="0.8"/><circle cx="366.7" cy="681.7" r="1.4" fill="#ee6668" opacity="0.8"/><circle cx="370.5" cy="643.0" r="0.6" fill="#ee6668" opacity="0.8"/><circle cx="376.7" cy="671.1" r="0.6" fill="#ee6668" opacity="0.8"/><circle cx="373.3" cy="661.7" r="1.0" fill="#ee6668" opacity="0.8"/><circle cx="371.9" cy="653.7" r="1.2" fill="#ee6668" opacity="0.8"/><circle cx="369.7" cy="678.3" r="1.2" fill="#ee6668" opacity="0.8"/><circle cx="350.2" cy="667.0" r="1.3" fill="#ee6668" opacity="0.8"/><circle cx="345.8" cy="683.1" r="0.9" fill="#ee6668" opacity="0.8"/><circle cx="364.5" cy="657.2" r="1.1" fill="#ee6668" opacity="0.8"/><circle cx="379.0" cy="659.0" r="0.9" fill="#ee6668" opacity="0.8"/><circle cx="384.4" cy="661.9" r="1.3" fill="#ee6668" opacity="0.8"/><circle cx="361.7" cy="672.1" r="1.1" fill="#ee6668" opacity="0.8"/><circle cx="364.5" cy="669.4" r="1.0" fill="#ee6668" opacity="0.8"/><circle cx="372.5" cy="660.5" r="1.3" fill="#ee6668" opacity="0.8"/><circle cx="383.5" cy="659.0" r="0.7" fill="#ee6668" opacity="0.8"/><circle cx="376.4" cy="682.7" r="1.4" fill="#ee6668" opacity="0.8"/><circle cx="365.4" cy="674.0" r="1.2" fill="#ee6668" opacity="0.8"/><circle cx="367.0" cy="669.4" r="0.7" fill="#ee6668" opacity="0.8"/><circle cx="347.3" cy="657.8" r="1.3" fill="#ee6668" opacity="0.8"/><circle cx="373.8" cy="683.9" r="1.2" fill="#ee6668" opacity="0.8"/><circle cx="347.1" cy="678.4" r="1.1" fill="#ee6668" opacity="0.8"/><circle cx="377.5" cy="681.3" r="1.0" fill="#ee6668" opacity="0.8"/></g><circle cx="421.3" cy="664.9" r="25.9" fill="url(#m4)" clip-path="url(#mc12)"/><circle cx="421.3" cy="665.3" r="12.4" fill="none" stroke="#3a2828" stroke-width="0.5"/><circle cx="421.3" cy="665.3" r="8.7" fill="#f25462" stroke="#a03840" stroke-width="0.5"/><path d="M436 690.5H447.7" stroke="#f8f8f8" stroke-width="1.6"/><g font-size="5.8" font-weight="700" fill="#f4f0f0"><text x="271.3" y="581.8">0 minutes</text><text x="271.3" y="589.2">T&lt;Tt</text><text x="332.4" y="581.8">3 minutes</text><text x="332.4" y="589.2">T&gt;Tt</text><text x="393.8" y="581.8">15 minutes</text><text x="393.8" y="589.2">T&gt;Tt</text></g><rect x="451.6" y="574.4" width="57.9" height="58.2" fill="#fdfdfd"/><rect x="451.6" y="635.8" width="57.9" height="57.8" fill="#fdfdfd"/><path d="M428.2 590.5L468 574.9H509.3V632.2H468L429.2 609.5" fill="none" stroke="#1a1a1a" stroke-width="0.7"/><path d="M421.3 656.7L468 636.2H509.3V693.3H468L422.3 673.9" fill="none" stroke="#1a1a1a" stroke-width="0.7"/><path d="M478.5 611.0 L479.1 612.3 L480.4 612.9 L481.9 612.9 L482.9 614.0 L484.3 614.5 L485.6 615.4 L486.9 616.1 L488.2 616.7 L489.6 617.3 L489.4 615.9 L488.2 614.9 L486.7 614.7 L485.5 615.6 L484.8 616.9 L484.4 618.4 L483.1 619.1 L482.5 617.8 L481.4 616.8 L481.4 615.3 L480.4 614.2 L479.6 612.9 L478.6 611.8 L477.9 610.5 L476.8 609.4 L476.2 608.0 L475.6 606.7 L475.4 605.2 L476.2 603.9 L477.2 602.8 L477.3 601.3 L476.3 600.1 L476.4 598.7 L476.5 597.2 L475.8 595.8 L476.3 594.4 L477.0 593.1 L478.1 592.1 L479.6 592.1 L481.0 591.5 L482.2 590.6" fill="none" stroke="#4f9edb" stroke-width="0.4"/><path d="M488.6 598.1 L487.7 596.9 L487.2 595.5 L487.3 594.0 L488.5 593.0 L490.0 592.9 L491.5 592.8 L492.7 592.0 L491.7 593.1 L490.7 594.2 L490.8 595.7 L489.9 596.9 L488.9 598.1 L487.6 598.8 L486.8 600.1 L486.7 601.6 L487.8 602.6 L489.1 603.4 L490.6 603.5 L492.1 603.4 L493.5 603.0 L495.0 603.4 L495.7 604.7 L497.1 605.4 L495.6 605.8 L494.1 605.8 L493.2 604.6 L491.8 604.1 L490.7 603.0 L489.4 602.4 L488.0 603.0 L486.5 602.9 L485.1 603.3 L484.0 604.4 L483.2 605.6 L482.9 607.1 L483.0 608.6 L483.1 610.0 L483.5 611.5 L483.7 613.0 L484.4 614.3" fill="none" stroke="#4f9edb" stroke-width="0.4"/><path d="M476.4 597.4 L477.6 598.3 L478.9 599.0 L479.7 600.3 L480.5 601.6 L480.8 603.0 L479.8 604.2 L480.0 605.7 L481.2 606.5 L482.7 606.5 L484.2 606.1 L485.6 605.9 L487.1 606.4 L488.6 606.5 L489.5 607.6 L491.0 607.6 L492.3 608.5 L493.7 608.6 L494.8 609.6 L496.3 609.5 L495.2 608.5 L495.3 607.0 L495.6 605.5 L495.0 604.1 L495.7 602.8 L496.2 601.3 L495.6 600.0 L495.3 598.5 L495.0 597.0 L494.6 595.6 L493.5 594.6 L492.0 594.6 L490.5 594.4 L489.0 594.3 L487.8 595.1 L486.6 596.1 L485.2 596.6 L483.7 596.4 L482.2 596.4 L480.7 596.6 L479.3 597.2" fill="none" stroke="#4f9edb" stroke-width="0.4"/><path d="M478.4 599.1 L477.7 600.4 L476.5 601.3 L475.0 601.7 L473.5 601.8 L472.6 603.0 L472.0 604.4 L471.6 605.8 L472.3 607.2 L471.7 608.5 L470.6 609.5 L469.5 610.5 L470.5 609.4 L470.9 608.0 L471.3 606.5 L472.4 605.5 L473.6 604.7 L473.8 603.2 L474.3 601.8 L475.6 601.0 L477.1 600.9 L478.3 601.9 L478.3 603.4 L479.0 604.7 L480.1 605.7 L481.2 606.8 L481.1 608.3 L481.3 609.8 L480.4 611.0 L479.0 611.4 L477.5 611.8 L476.0 611.9 L474.9 610.8 L474.5 609.4 L473.6 608.2 L473.6 606.7 L472.8 605.4 L471.7 604.4 L471.7 602.9 L472.6 601.7 L473.0 600.3" fill="none" stroke="#4f9edb" stroke-width="0.4"/><path d="M479.5 605.6 L480.6 604.6 L482.1 604.8 L483.4 605.6 L484.1 606.9 L484.5 608.4 L485.2 609.7 L486.1 610.9 L487.0 612.1 L487.9 613.3 L487.9 614.8 L488.5 616.2 L489.9 616.7 L488.8 615.7 L487.6 614.8 L486.1 614.9 L484.8 614.2 L483.3 614.0 L481.9 614.4 L480.4 614.0 L479.0 613.5 L477.5 613.7 L476.3 612.9 L474.9 612.2 L473.4 611.9 L472.6 610.7 L472.6 609.2 L473.2 607.8 L473.2 606.3 L473.9 605.0 L474.9 603.9 L476.3 603.5 L477.7 602.7 L479.2 602.7 L480.5 603.5 L481.9 604.0 L483.1 604.8 L483.8 606.1 L483.2 607.5 L481.8 608.1 L480.3 607.9" fill="none" stroke="#4f9edb" stroke-width="0.4"/><path d="M477.1 605.5 L475.7 604.9 L474.3 604.4 L473.5 603.1 L473.8 601.6 L475.0 600.7 L475.3 599.3 L475.9 597.9 L477.2 597.2 L478.6 596.8 L479.9 596.0 L480.1 594.5 L481.3 593.6 L482.8 593.6 L484.3 594.1 L485.8 594.1 L487.0 595.0 L487.5 596.4 L487.5 597.9 L487.2 599.4 L487.3 600.9 L488.0 602.2 L489.0 603.3 L490.3 604.1 L491.6 604.9 L493.1 604.6 L494.5 605.0 L496.0 605.0 L497.3 604.2 L498.0 602.8 L496.5 603.2 L495.1 602.8 L493.7 603.4 L492.8 604.6 L492.5 606.1 L493.0 607.5 L492.8 609.0 L493.6 610.3 L495.1 610.5 L494.0 609.5 L493.7 608.0" fill="none" stroke="#4f9edb" stroke-width="0.4"/><path d="M483.6 601.1 L485.0 600.6 L486.5 600.1 L487.9 599.8 L489.2 600.5 L489.4 602.0 L488.5 603.2 L488.5 604.7 L489.0 606.1 L489.7 607.5 L491.1 608.1 L491.9 609.4 L493.4 609.6 L494.4 610.7 L495.2 612.0 L493.9 611.2 L493.5 609.8 L493.4 608.3 L494.2 607.1 L495.7 606.7 L497.2 607.0 L495.7 606.6 L494.2 606.5 L493.0 605.6 L491.9 604.6 L490.5 604.1 L489.3 603.2 L488.1 602.3 L486.6 602.3 L485.3 601.5 L484.1 600.7 L483.9 599.2 L483.7 597.7 L484.7 596.6 L485.2 595.2 L484.9 593.7 L484.7 592.2 L485.2 590.8 L486.4 589.9 L487.8 589.3 L487.4 590.8" fill="none" stroke="#4f9edb" stroke-width="0.4"/><path d="M475.5 601.8 L476.7 600.9 L478.2 600.5 L479.7 600.5 L480.8 599.5 L482.2 599.0 L482.9 597.6 L482.7 596.2 L482.8 594.7 L481.9 593.4 L482.2 592.0 L482.3 590.5 L482.8 589.0 L484.1 588.4 L483.1 589.6 L483.3 591.0 L483.2 592.5 L482.7 593.9 L481.2 594.4 L480.0 595.3 L478.5 595.0 L477.2 594.3 L475.8 593.7 L474.4 593.9 L473.2 594.8 L472.2 595.9 L471.6 597.3 L471.3 598.8 L470.3 599.9 L469.6 601.2 L468.5 602.3 L468.7 603.8 L469.7 604.9 L470.2 606.3 L469.7 607.7 L469.6 609.2 L470.7 610.2 L472.2 610.6 L473.7 610.6 L475.2 610.3 L476.6 610.1" fill="none" stroke="#4f9edb" stroke-width="0.4"/><path d="M479.6 606.1 L480.6 605.0 L482.0 604.4 L483.5 604.0 L484.6 603.1 L486.1 603.0 L487.5 602.3 L488.9 602.6 L490.4 602.8 L491.9 603.3 L493.3 603.8 L494.5 604.6 L495.9 605.1 L497.3 605.8 L495.8 605.7 L494.3 605.4 L492.8 605.2 L491.3 605.1 L489.8 605.3 L488.3 605.3 L486.9 604.8 L485.4 605.2 L484.5 606.4 L483.1 606.8 L482.3 608.1 L481.0 608.9 L479.5 609.0 L478.3 609.8 L476.8 610.2 L475.8 611.3 L474.3 611.4 L473.0 612.3 L472.6 613.7 L473.5 615.0 L473.7 616.4 L474.2 615.0 L475.6 614.4 L477.1 614.4 L478.4 615.1 L479.7 615.9 L480.7 617.0" fill="none" stroke="#4f9edb" stroke-width="0.4"/><path d="M475.1 608.6 L473.8 609.3 L472.5 610.1 L471.0 609.9 L469.9 610.9 L470.8 609.7 L471.7 608.5 L472.6 607.3 L474.1 607.2 L475.5 607.6 L476.1 609.0 L475.6 610.4 L475.3 611.9 L475.9 613.3 L477.2 614.0 L478.2 615.2 L478.0 616.6 L477.4 618.0 L478.0 616.7 L479.0 615.6 L479.5 614.1 L480.4 612.9 L480.5 611.4 L479.5 610.3 L478.0 610.3 L476.5 610.3 L475.1 609.7 L473.6 609.9 L472.2 610.4 L470.7 610.3 L469.3 610.9 L470.7 610.4 L472.0 609.6 L472.8 608.3 L473.9 607.3 L475.3 606.9 L476.3 605.7 L477.7 605.2 L479.2 605.1 L480.4 605.9 L481.1 607.3" fill="none" stroke="#4f9edb" stroke-width="0.4"/><path d="M482.6 607.1 L481.7 608.3 L481.8 609.8 L482.3 611.2 L482.8 612.6 L482.3 614.0 L481.3 615.2 L479.8 615.4 L478.5 614.7 L478.2 613.2 L478.2 611.7 L478.5 610.2 L478.8 608.8 L478.3 607.3 L478.6 605.9 L479.1 604.5 L478.8 603.0 L477.9 601.9 L476.5 601.3 L475.4 600.2 L474.5 599.0 L473.2 598.4 L472.1 597.4 L471.1 596.2 L469.8 595.6 L470.4 596.9 L471.7 597.6 L473.2 597.7 L474.7 598.0 L475.7 599.0 L475.8 600.5 L476.0 602.0 L475.6 603.4 L476.2 604.8 L477.0 606.1 L477.0 607.6 L476.5 609.0 L476.1 610.4 L475.5 611.8 L474.9 613.2 L474.2 614.5" fill="none" stroke="#4f9edb" stroke-width="0.4"/><path d="M488.7 611.2 L488.4 612.7 L487.2 613.5 L485.9 614.2 L484.5 614.8 L483.3 615.7 L482.1 616.7 L480.9 617.4 L479.4 617.9 L480.6 616.9 L481.2 615.6 L482.0 614.3 L482.0 612.8 L482.3 611.3 L481.6 610.1 L480.4 609.0 L479.2 608.3 L477.7 608.0 L476.2 607.7 L474.8 608.4 L473.5 609.1 L472.0 609.0 L470.6 608.5 L470.0 607.1 L470.5 605.8 L471.0 604.3 L471.5 602.9 L472.5 601.8 L474.0 601.6 L475.5 601.6 L476.9 601.9 L478.2 602.8 L479.4 603.6 L480.6 604.5 L482.0 605.2 L483.4 605.7 L484.8 606.2 L485.8 607.3 L487.2 607.7 L488.6 607.0 L490.0 607.5" fill="none" stroke="#4f9edb" stroke-width="0.4"/><path d="M482.9 606.9 L484.4 606.7 L485.9 606.7 L486.9 607.8 L487.6 609.1 L488.5 610.3 L489.9 610.9 L491.3 610.6 L492.8 611.0 L493.6 612.3 L494.7 613.3 L493.7 612.1 L493.0 610.8 L491.9 609.8 L491.7 608.4 L491.6 606.9 L492.1 605.4 L493.0 604.3 L493.8 603.0 L495.0 602.1 L495.5 600.7 L496.2 599.3 L494.7 599.7 L493.5 600.5 L492.9 601.9 L493.3 603.3 L494.6 604.1 L496.1 604.2 L497.6 604.1 L496.1 603.7 L494.7 603.5 L493.5 602.6 L492.0 602.9 L490.6 603.5 L490.0 604.9 L489.4 606.3 L488.6 607.5 L487.6 608.7 L486.7 609.9 L486.1 611.3 L486.0 612.8" fill="none" stroke="#4f9edb" stroke-width="0.4"/><path d="M476.6 599.0 L475.1 599.0 L473.9 599.9 L472.4 600.0 L471.5 601.2 L471.5 602.7 L471.7 604.2 L472.3 605.6 L472.8 607.0 L472.9 608.5 L472.7 610.0 L471.8 611.2 L470.9 612.4 L472.0 611.4 L472.3 609.9 L471.4 608.7 L470.1 608.1 L468.6 607.7 L470.1 607.4 L471.6 607.6 L472.6 608.7 L474.0 609.1 L474.7 610.4 L476.2 610.7 L477.2 611.8 L476.9 613.3 L477.0 614.8 L476.3 616.1 L475.7 617.5 L476.8 616.5 L478.3 616.7 L479.8 616.4 L480.9 615.4 L482.4 615.5 L483.9 615.7 L484.8 616.9 L486.2 617.5 L485.2 616.4 L483.8 616.0 L482.3 616.2 L481.1 615.3" fill="none" stroke="#4f9edb" stroke-width="0.4"/><path d="M481.0 602.9 L481.7 604.2 L482.6 605.4 L483.5 606.6 L484.7 607.5 L485.4 608.8 L486.5 609.8 L486.5 611.3 L485.5 612.4 L484.4 613.3 L484.1 614.8 L483.7 616.3 L483.0 617.6 L481.9 618.7 L482.5 617.3 L483.9 616.8 L485.4 616.9 L486.5 615.9 L487.8 615.1 L489.2 614.6 L490.7 614.3 L491.9 615.1 L493.4 614.7 L494.1 613.4 L495.2 612.4 L495.4 610.9 L494.6 609.6 L494.7 608.1 L494.4 606.6 L495.1 605.3 L496.4 604.5 L497.9 604.2 L496.6 604.9 L495.2 604.4 L494.3 603.2 L494.6 601.7 L494.9 600.2 L494.6 598.7 L494.7 597.2 L494.5 595.7 L493.6 594.6" fill="none" stroke="#4f9edb" stroke-width="0.4"/><path d="M476.7 602.4 L478.0 603.1 L478.3 604.6 L477.5 605.8 L476.0 606.3 L474.6 606.7 L473.1 606.4 L471.7 607.0 L470.3 607.2 L469.1 606.3 L468.5 604.9 L469.2 603.6 L470.2 602.5 L470.8 601.1 L470.1 599.8 L468.9 598.8 L470.3 599.5 L471.4 600.4 L471.9 601.8 L472.9 603.0 L474.4 603.3 L475.3 604.5 L476.0 605.8 L477.5 606.1 L478.7 607.0 L479.5 608.2 L479.7 609.7 L480.8 610.8 L482.2 611.3 L483.2 612.4 L483.9 613.7 L484.9 614.8 L484.8 616.3 L485.2 617.8 L484.6 619.1 L484.3 617.6 L485.3 616.5 L486.6 615.8 L488.1 615.7 L489.3 616.6 L488.6 615.2" fill="none" stroke="#4f9edb" stroke-width="0.4"/><path d="M487.7 604.3 L489.2 604.6 L490.4 603.6 L491.1 602.3 L492.5 601.7 L493.2 600.4 L492.6 599.0 L492.3 597.6 L492.5 596.1 L493.7 595.3 L495.2 595.6 L493.7 596.0 L492.3 596.3 L490.9 595.7 L489.8 594.6 L488.3 594.5 L486.9 594.0 L485.6 594.7 L484.5 595.7 L483.8 597.1 L482.4 597.5 L481.3 598.6 L480.6 599.9 L479.7 601.1 L479.5 602.6 L479.5 604.1 L480.0 605.5 L479.9 607.0 L479.0 608.3 L478.0 609.4 L476.5 609.6 L475.1 609.9 L473.6 609.5 L472.3 610.2 L471.1 611.1 L470.3 612.4 L471.5 611.6 L472.6 610.5 L473.9 609.8 L475.3 610.2 L476.2 611.4" fill="none" stroke="#4f9edb" stroke-width="0.4"/><path d="M487.4 606.4 L488.1 605.0 L488.4 603.6 L488.3 602.1 L487.6 600.8 L486.5 599.7 L485.4 598.7 L485.2 597.2 L484.3 596.0 L483.2 595.0 L481.8 594.5 L480.3 594.1 L479.0 594.8 L477.6 595.2 L476.2 594.7 L475.5 593.3 L474.5 592.2 L473.1 591.8 L473.6 593.2 L474.8 594.1 L476.3 593.8 L477.8 594.0 L479.3 593.9 L480.8 593.9 L482.3 594.0 L483.4 595.0 L484.9 595.2 L486.3 594.7 L486.9 593.3 L487.9 592.2 L487.8 590.7 L487.1 592.0 L486.3 593.2 L486.1 594.7 L485.0 595.8 L484.9 597.3 L484.5 598.7 L483.4 599.7 L482.0 600.4 L481.6 601.8 L482.1 603.2" fill="none" stroke="#4f9edb" stroke-width="0.4"/><path d="M479.4 607.4 L479.2 608.9 L478.1 609.9 L476.9 610.8 L475.4 610.7 L474.0 610.3 L472.6 610.8 L471.2 611.5 L470.9 613.0 L472.4 612.8 L473.8 612.3 L475.3 612.3 L476.8 611.9 L478.3 611.9 L479.7 611.6 L481.1 612.3 L482.5 612.7 L484.0 612.6 L485.4 612.3 L486.3 611.0 L486.7 609.6 L487.7 608.5 L488.5 607.2 L489.1 605.8 L489.1 604.3 L489.8 603.1 L491.3 602.6 L492.6 601.9 L492.9 600.4 L493.0 598.9 L494.0 597.8 L495.2 597.0 L494.4 598.3 L493.0 598.7 L492.3 600.1 L491.4 601.2 L490.2 602.2 L489.8 603.6 L489.5 605.1 L488.4 606.1 L486.9 605.9" fill="none" stroke="#4f9edb" stroke-width="0.4"/><path d="M476.1 596.5 L477.1 597.6 L477.1 599.1 L478.1 600.2 L479.3 601.1 L479.8 602.5 L480.4 603.9 L481.6 604.8 L483.1 604.7 L484.3 603.9 L485.2 602.7 L486.6 602.2 L488.0 601.6 L489.4 601.1 L490.5 600.1 L491.4 598.9 L492.9 598.7 L493.9 597.6 L495.2 596.9 L494.0 597.8 L492.6 598.1 L491.3 598.9 L490.0 599.6 L488.7 600.4 L487.4 601.2 L487.1 602.7 L487.0 604.2 L487.3 605.6 L487.8 607.1 L488.8 608.2 L489.8 609.2 L490.4 610.6 L491.7 611.3 L493.2 610.8 L494.6 610.4 L496.1 610.2 L494.6 610.4 L493.8 611.6 L492.8 612.7 L492.4 614.2 L492.0 615.6" fill="none" stroke="#4f9edb" stroke-width="0.4"/><path d="M479.5 597.4 L478.0 597.3 L476.5 597.3 L475.4 596.3 L474.1 595.5 L473.6 594.1 L472.6 593.0 L473.8 593.9 L475.2 594.3 L476.4 595.3 L477.9 595.3 L479.2 595.9 L480.7 595.8 L482.2 595.4 L483.3 594.4 L483.5 592.9 L482.8 591.6 L483.4 590.2 L482.9 588.8 L482.9 590.3 L482.0 591.4 L481.8 592.9 L481.4 594.3 L480.5 595.6 L480.2 597.0 L479.5 598.4 L478.1 599.0 L476.9 599.8 L476.6 601.2 L476.1 602.6 L474.9 603.6 L473.8 604.6 L472.3 604.9 L471.0 605.5 L469.7 606.2 L468.4 607.1 L468.1 608.6 L468.9 609.8 L469.4 611.3 L470.3 610.0 L471.7 609.7" fill="none" stroke="#4f9edb" stroke-width="0.4"/><path d="M480.0 602.5 L481.2 601.7 L482.5 601.0 L484.0 601.3 L485.4 601.9 L486.8 601.6 L488.3 601.7 L489.6 600.9 L490.8 600.0 L492.2 599.7 L493.6 599.1 L494.7 598.1 L495.5 596.8 L494.9 598.2 L493.8 599.2 L492.9 600.4 L492.8 601.9 L493.2 603.3 L494.6 604.0 L496.0 604.6 L497.2 605.4 L495.7 605.3 L494.9 604.0 L493.5 603.5 L492.0 603.8 L490.5 603.9 L489.1 604.3 L487.8 605.1 L486.4 605.4 L484.9 605.6 L483.4 605.7 L481.9 605.2 L480.5 605.0 L479.0 604.7 L478.3 603.4 L476.9 602.8 L475.5 602.2 L474.3 601.4 L473.5 600.0 L472.1 599.6 L470.7 600.1" fill="none" stroke="#4f9edb" stroke-width="0.4"/><path d="M479.1 606.4 L480.4 607.1 L481.8 607.6 L483.3 607.2 L484.8 607.2 L485.8 608.4 L486.1 609.8 L486.3 611.3 L486.8 612.7 L488.2 613.3 L489.6 613.8 L491.0 614.3 L492.5 614.3 L494.0 614.0 L492.7 613.2 L491.2 613.0 L489.7 612.9 L488.7 611.8 L487.2 611.8 L485.7 611.9 L484.7 610.8 L483.7 609.7 L482.4 608.9 L481.0 608.6 L479.7 607.7 L478.2 607.8 L477.1 606.8 L476.4 605.5 L476.8 604.1 L476.2 602.7 L474.8 602.2 L473.3 602.1 L471.8 602.2 L470.3 602.2 L468.9 601.8 L467.6 602.7 L469.0 602.2 L470.0 601.0 L470.0 599.5 L469.6 598.1 L470.8 599.0" fill="none" stroke="#4f9edb" stroke-width="0.4"/><path d="M480.4 598.0 L479.0 598.4 L477.5 598.6 L476.6 599.8 L475.6 600.9 L474.5 602.0 L473.4 603.0 L472.0 603.5 L471.1 604.7 L469.9 605.6 L468.4 605.8 L469.9 605.5 L471.0 604.5 L472.5 604.0 L473.7 604.8 L474.0 606.3 L473.9 607.8 L474.4 609.2 L473.7 610.6 L474.0 612.0 L473.9 613.5 L472.9 614.7 L474.2 613.9 L475.4 613.0 L476.8 612.5 L477.8 611.4 L479.2 610.7 L479.8 609.4 L479.6 607.9 L478.4 606.9 L477.1 606.3 L475.7 607.0 L474.2 607.1 L473.0 606.2 L472.6 604.8 L471.2 604.2 L469.8 603.6 L468.4 604.0 L469.6 603.1 L471.1 603.4 L472.5 603.6" fill="none" stroke="#4f9edb" stroke-width="0.4"/><path d="M454.3 594.6 L457.3 595.2 L457.1 592.2 L460.0 592.9 L459.8 589.9 L462.8 590.5 L462.6 587.5 L465.5 588.2 L465.3 585.2 L468.3 585.8 L468.1 582.8 L471.0 583.4 L470.9 580.4 L473.8 581.1 L473.6 578.1" fill="none" stroke="#c9403c" stroke-width="0.6"/><path d="M495.1 575.6 L494.1 578.4 L497.0 578.4 L496.0 581.1 L498.9 581.1 L497.9 583.8 L500.8 583.8 L499.8 586.6 L502.7 586.6 L501.7 589.3 L504.6 589.3 L503.6 592.1 L506.5 592.1 L505.5 594.8 L508.4 594.8" fill="none" stroke="#c9403c" stroke-width="0.6"/><path d="M457.5 610.4 L456.6 613.3 L459.6 613.3 L458.8 616.2 L461.8 616.1 L461.0 619.0 L464.0 619.0 L463.1 621.9 L466.1 621.9 L465.3 624.8 L468.3 624.8 L467.5 627.7 L470.5 627.7 L469.7 630.6 L472.7 630.6" fill="none" stroke="#c9403c" stroke-width="0.6"/><path d="M489.7 630.4 L492.5 631.1 L492.2 628.2 L495.0 628.9 L494.7 625.9 L497.5 626.6 L497.2 623.7 L500.0 624.4 L499.6 621.5 L502.5 622.2 L502.1 619.3 L505.0 619.9 L504.6 617.0 L507.5 617.7 L507.1 614.8" fill="none" stroke="#c9403c" stroke-width="0.6"/><g font-size="3.6" font-weight="700" fill="#1a1a1a" text-anchor="middle"><text x="475.5" y="585.3">Na<tspan font-size="2.6" dy="-1.2">+</tspan></text><text x="482.4" y="584.8">Cl<tspan font-size="2.6" dy="-1.2">−</tspan></text><text x="491.0" y="585.0">Na<tspan font-size="2.6" dy="-1.2">+</tspan></text><text x="468.4" y="593.5">Cl<tspan font-size="2.6" dy="-1.2">−</tspan></text><text x="493.7" y="592.1">Cl<tspan font-size="2.6" dy="-1.2">−</tspan></text><text x="462.0" y="599.9">Na<tspan font-size="2.6" dy="-1.2">+</tspan></text><text x="498.7" y="598.6">Na<tspan font-size="2.6" dy="-1.2">+</tspan></text><text x="462.5" y="607.7">Cl<tspan font-size="2.6" dy="-1.2">−</tspan></text><text x="500.6" y="605.9">Cl<tspan font-size="2.6" dy="-1.2">−</tspan></text><text x="464.8" y="613.7">Na<tspan font-size="2.6" dy="-1.2">+</tspan></text><text x="503.3" y="611.9">Na<tspan font-size="2.6" dy="-1.2">+</tspan></text><text x="468.0" y="618.7">Cl<tspan font-size="2.6" dy="-1.2">−</tspan></text><text x="496.9" y="619.2">Cl<tspan font-size="2.6" dy="-1.2">−</tspan></text><text x="472.6" y="624.1">Na<tspan font-size="2.6" dy="-1.2">+</tspan></text><text x="488.2" y="626.8">Na<tspan font-size="2.6" dy="-1.2">+</tspan></text><text x="478.5" y="628.8">Cl<tspan font-size="2.6" dy="-1.2">−</tspan></text></g><path d="M475.4 662.9 L474.9 664.3 L474.6 665.8 L473.3 666.5 L472.4 667.7 L472.5 669.2 L472.4 670.7 L472.5 672.2 L472.9 673.6 L472.1 674.9 L470.7 675.5 L469.4 676.3 L468.9 677.7 L467.6 678.4 L466.1 678.4 L465.1 677.3 L463.8 676.5 L465.2 675.8 L466.5 675.2 L468.0 675.2 L469.2 674.3 L470.7 674.5 L472.1 674.9 L473.6 674.7 L475.1 674.8 L476.3 673.8 L477.7 673.6 L479.2 673.5 L480.5 672.7 L480.7 671.2 L481.1 669.7 L482.1 668.6 L482.5 667.2 L483.9 666.5 L485.3 666.2 L486.8 665.8 L488.0 666.7 L489.4 667.2 L490.6 668.1 L491.9 668.8 L493.4 669.1 L494.8 669.5 L495.5 670.8 L496.9 671.4 L498.4 671.6" fill="none" stroke="#4f9edb" stroke-width="0.45"/><path d="M472.6 662.9 L473.5 664.1 L473.9 665.5 L473.1 666.8 L471.9 667.7 L471.0 668.8 L469.8 669.8 L469.4 671.2 L469.1 672.7 L469.9 674.0 L469.4 675.4 L468.6 676.6 L468.4 678.1 L468.0 679.6 L468.0 681.1 L469.2 680.2 L470.7 679.9 L472.2 679.8 L473.4 678.9 L474.7 678.2 L476.2 678.4 L477.6 678.2 L478.4 676.9 L478.8 675.4 L477.8 674.2 L477.1 673.0 L476.3 671.7 L474.8 671.3 L474.0 670.0 L472.7 669.3 L471.3 668.7 L469.8 669.1 L468.3 669.3 L466.8 669.4 L465.4 669.0 L464.1 669.8 L463.6 671.2 L463.9 672.6 L464.8 673.9 L464.8 675.4 L464.0 676.6 L465.3 675.9 L465.7 674.5 L465.5 673.0 L465.3 671.5" fill="none" stroke="#4f9edb" stroke-width="0.45"/><path d="M488.6 662.1 L487.4 663.0 L486.2 663.8 L485.0 664.8 L484.2 666.0 L482.7 666.3 L481.2 666.3 L479.8 665.9 L478.9 664.7 L478.6 663.2 L477.7 662.0 L477.4 660.5 L477.5 659.0 L477.6 657.5 L478.2 656.2 L479.5 655.4 L480.4 654.2 L480.8 652.8 L481.3 651.4 L480.8 650.0 L481.0 648.5 L480.4 647.1 L479.4 646.0 L479.0 644.5 L479.7 643.2 L479.8 641.7 L479.7 643.2 L479.4 644.6 L479.3 646.1 L480.0 647.4 L479.5 648.9 L480.1 650.2 L479.8 651.7 L480.1 653.2 L481.0 654.3 L482.1 655.4 L483.6 655.5 L484.9 656.3 L486.4 656.3 L487.8 655.7 L488.9 654.7 L490.4 654.5 L491.2 653.2 L492.5 652.5 L493.4 651.2" fill="none" stroke="#4f9edb" stroke-width="0.45"/><path d="M486.7 675.9 L488.1 676.4 L489.6 676.3 L491.1 676.8 L492.5 676.5 L493.9 675.8 L495.3 676.4 L496.0 677.7 L495.6 679.1 L495.9 680.6 L495.7 682.1 L496.0 683.5 L495.8 682.1 L495.9 680.6 L496.1 679.1 L496.7 677.7 L497.7 676.6 L497.9 675.1 L498.6 673.8 L498.3 672.3 L499.0 670.9 L499.3 669.5 L498.5 668.2 L497.0 668.0 L495.6 667.5 L494.2 668.1 L493.0 669.0 L492.8 670.4 L492.1 671.8 L490.7 672.4 L490.3 673.8 L489.6 675.2 L488.6 676.3 L487.4 677.2 L486.0 677.0 L484.5 677.4 L483.2 676.6 L481.9 675.8 L480.4 675.7 L479.0 676.2 L478.2 677.5 L477.0 678.3 L476.3 679.6 L475.3 680.8 L474.0 681.4" fill="none" stroke="#4f9edb" stroke-width="0.45"/><path d="M477.4 668.5 L476.6 667.2 L476.5 665.7 L476.2 664.2 L475.1 663.2 L473.6 663.2 L472.4 664.1 L470.9 664.5 L469.4 664.8 L468.5 665.9 L467.0 666.0 L466.1 667.2 L465.0 668.3 L464.0 669.4 L462.5 669.5 L461.0 669.4 L462.3 668.7 L463.7 668.1 L465.2 668.2 L466.7 668.0 L468.1 668.4 L469.6 668.5 L471.1 668.3 L472.3 667.5 L473.8 667.1 L475.0 668.0 L476.5 667.7 L477.6 666.7 L477.7 665.2 L476.9 663.9 L476.2 662.6 L475.6 661.2 L475.5 659.7 L474.5 658.6 L474.4 657.1 L473.5 655.9 L473.3 654.4 L472.8 653.0 L472.3 651.6 L472.8 650.1 L474.1 649.4 L475.4 648.7 L475.9 647.3 L475.9 645.8 L476.5 644.4" fill="none" stroke="#4f9edb" stroke-width="0.45"/><path d="M490.6 674.0 L489.2 674.6 L488.1 675.6 L487.2 676.8 L487.2 678.3 L487.5 679.8 L488.4 681.0 L488.7 682.5 L489.1 683.9 L489.3 685.4 L490.0 686.7 L489.6 685.3 L488.4 684.4 L488.1 683.0 L486.9 682.1 L485.4 681.8 L484.1 682.6 L482.6 682.6 L481.4 681.7 L480.1 680.9 L479.4 679.6 L479.4 678.1 L480.2 676.9 L481.7 676.7 L483.2 676.9 L484.6 677.4 L485.9 676.7 L486.7 675.4 L488.2 675.2 L489.7 675.1 L490.9 676.1 L492.3 676.4 L493.4 677.4 L493.8 678.9 L493.5 680.3 L493.8 681.8 L492.8 683.0 L492.2 684.3 L490.8 684.7 L489.5 684.0 L488.0 684.3 L487.2 685.6 L486.6 686.9 L486.2 685.5 L485.1 684.5" fill="none" stroke="#4f9edb" stroke-width="0.45"/><path d="M489.0 655.4 L487.6 654.9 L486.1 654.9 L484.6 654.6 L483.4 655.6 L482.0 655.9 L480.5 656.3 L479.0 656.1 L477.9 655.1 L477.8 653.6 L476.6 652.7 L475.1 652.5 L473.6 652.6 L472.1 652.6 L470.7 653.2 L469.4 653.9 L468.1 654.7 L466.6 654.7 L465.5 655.7 L464.7 657.0 L464.5 658.5 L464.6 660.0 L465.0 661.4 L466.0 662.5 L466.0 664.0 L467.1 665.0 L468.6 664.8 L470.1 665.2 L471.5 664.9 L472.8 665.6 L473.9 666.6 L474.2 668.1 L473.4 669.3 L472.1 670.1 L470.6 669.6 L469.2 670.0 L468.1 671.0 L468.3 672.5 L469.5 673.4 L470.1 674.7 L470.2 676.2 L470.8 677.6 L472.2 678.3 L473.6 678.0 L475.1 677.7" fill="none" stroke="#4f9edb" stroke-width="0.45"/><path d="M494.6 653.2 L493.5 652.2 L492.1 651.7 L490.6 652.2 L489.3 651.6 L488.4 650.4 L487.2 649.5 L487.0 648.0 L486.7 646.5 L487.3 645.1 L488.4 644.1 L489.4 642.9 L489.6 644.4 L490.3 645.8 L490.3 647.3 L490.8 648.7 L491.7 649.9 L493.0 650.7 L494.4 650.4 L495.8 651.2 L496.8 652.2 L497.7 653.5 L497.6 655.0 L497.3 656.4 L497.2 657.9 L496.3 659.1 L495.9 660.5 L495.0 661.7 L493.5 661.8 L492.4 662.8 L491.9 664.2 L491.7 665.7 L490.9 667.0 L490.1 668.3 L489.6 669.7 L488.2 670.3 L487.0 671.2 L486.3 672.5 L486.8 673.9 L486.1 675.2 L484.7 675.5 L483.5 674.6 L482.4 673.5 L481.5 672.4 L481.7 670.9" fill="none" stroke="#4f9edb" stroke-width="0.45"/><path d="M484.2 661.4 L482.9 660.6 L481.6 659.8 L480.1 659.8 L478.8 660.5 L477.6 661.5 L476.2 662.0 L474.8 661.7 L473.5 662.5 L472.2 663.3 L470.7 663.2 L469.5 664.2 L468.9 665.5 L468.0 666.7 L467.5 668.1 L466.2 668.9 L465.9 670.3 L465.2 671.7 L464.3 672.8 L463.9 674.3 L463.0 675.5 L463.8 674.2 L464.5 672.9 L464.2 671.4 L464.0 670.0 L463.2 668.7 L462.3 667.5 L462.6 666.1 L463.3 664.8 L464.2 663.6 L465.6 663.0 L466.8 662.2 L468.2 661.5 L469.6 662.1 L470.1 663.5 L471.5 664.0 L472.8 664.8 L473.6 666.1 L473.5 667.6 L473.3 669.1 L474.1 670.3 L475.1 671.4 L476.5 672.1 L477.8 672.7 L479.3 672.4" fill="none" stroke="#4f9edb" stroke-width="0.45"/><path d="M474.1 675.4 L472.7 674.9 L471.4 674.1 L470.0 673.6 L468.7 672.9 L468.2 671.5 L467.0 670.6 L466.1 669.4 L466.5 667.9 L467.8 667.2 L469.2 666.6 L469.7 665.3 L470.8 664.1 L471.7 663.0 L473.2 663.0 L474.6 662.3 L475.2 660.9 L474.7 659.5 L474.4 658.0 L474.5 656.5 L474.6 655.0 L475.6 653.9 L477.1 653.9 L478.3 653.0 L479.5 652.2 L480.7 651.3 L480.9 649.8 L480.3 648.4 L479.9 647.0 L479.2 645.6 L478.1 644.6 L476.6 644.7 L475.2 644.2 L476.3 645.2 L476.5 646.7 L476.9 648.1 L476.2 649.5 L474.8 649.9 L473.5 649.1 L472.1 649.6 L470.6 649.4 L469.4 650.4 L469.4 651.9 L469.1 653.4 L469.4 654.8" fill="none" stroke="#4f9edb" stroke-width="0.45"/><path d="M493.9 665.3 L493.6 666.7 L493.4 668.2 L494.4 669.4 L494.4 670.9 L494.2 672.3 L493.4 673.6 L492.0 674.2 L490.5 674.1 L489.5 675.2 L488.1 675.8 L486.6 676.1 L485.1 676.0 L483.7 675.7 L482.7 674.6 L481.2 674.4 L479.7 674.5 L478.4 673.8 L476.9 673.5 L476.1 672.2 L476.5 670.7 L476.9 669.3 L477.9 668.2 L477.8 666.7 L477.2 665.3 L476.6 664.0 L475.2 663.5 L473.9 662.8 L472.6 661.9 L471.1 662.1 L469.7 661.7 L468.2 661.5 L467.0 662.4 L466.4 663.8 L466.6 665.3 L466.7 666.8 L466.8 668.3 L467.1 669.7 L466.4 671.1 L467.0 672.5 L466.6 673.9 L466.4 675.4 L467.1 676.8 L468.2 677.7 L469.7 678.1" fill="none" stroke="#4f9edb" stroke-width="0.45"/><path d="M494.7 666.8 L494.9 668.3 L494.1 669.5 L493.8 671.0 L492.7 672.0 L492.0 673.4 L492.6 674.8 L494.0 675.2 L494.8 676.5 L494.4 677.9 L493.2 678.9 L492.0 679.7 L491.8 681.2 L491.6 682.7 L492.0 684.1 L492.5 685.5 L491.5 684.5 L490.9 683.1 L489.6 682.4 L488.2 682.8 L487.4 684.1 L486.9 685.5 L487.4 686.9 L487.0 685.5 L486.6 684.0 L485.5 683.0 L484.6 681.8 L483.1 681.6 L481.9 682.5 L481.4 683.9 L481.4 685.4 L480.5 686.6 L480.2 688.1 L480.3 686.6 L479.2 685.6 L477.9 684.9 L476.7 683.9 L475.7 682.8 L475.6 681.3 L475.4 679.8 L475.3 678.3 L474.3 677.2 L473.4 676.0 L473.5 674.5 L473.8 673.0" fill="none" stroke="#4f9edb" stroke-width="0.45"/><path d="M472.8 662.8 L471.6 661.8 L471.5 660.3 L472.1 658.9 L473.0 657.7 L474.4 657.0 L475.7 656.4 L477.2 656.1 L478.6 655.7 L480.1 656.0 L481.5 655.3 L482.6 654.3 L483.2 653.0 L484.0 651.7 L485.5 651.2 L486.9 650.7 L488.3 650.2 L489.7 650.8 L491.1 650.4 L492.3 649.5 L493.7 648.9 L495.2 649.2 L496.6 649.5 L498.1 649.2 L499.5 649.7 L500.9 650.2 L500.3 651.6 L499.0 652.4 L498.0 653.5 L498.1 655.0 L498.7 656.4 L498.5 657.9 L499.3 659.2 L500.4 660.2 L500.7 661.7 L501.2 663.1 L501.9 664.4 L503.2 665.0 L504.7 664.8 L505.9 663.9 L504.6 664.5 L503.9 665.8 L503.8 667.3 L503.4 668.8 L502.1 669.5" fill="none" stroke="#4f9edb" stroke-width="0.45"/><path d="M479.9 665.2 L480.7 666.4 L482.1 667.1 L483.5 667.5 L484.9 666.9 L486.3 667.4 L487.2 668.6 L488.6 669.1 L490.0 668.4 L491.2 667.5 L492.1 666.3 L493.6 666.1 L494.7 665.1 L496.2 665.1 L497.4 666.0 L498.5 667.0 L498.8 668.5 L498.2 669.9 L498.6 671.3 L497.9 672.7 L496.5 673.1 L495.1 673.7 L493.6 673.5 L492.4 674.4 L490.9 674.3 L490.1 673.0 L490.5 671.6 L491.8 670.8 L493.3 670.6 L494.8 670.7 L496.3 670.7 L497.8 670.5 L499.2 670.1 L500.2 669.0 L500.0 667.5 L499.5 666.1 L500.2 664.8 L499.8 663.3 L499.0 662.0 L498.4 660.7 L498.5 659.2 L499.7 658.2 L500.9 657.4 L502.2 656.6 L503.7 656.8" fill="none" stroke="#4f9edb" stroke-width="0.45"/><path d="M478.0 666.4 L476.7 667.2 L475.7 668.3 L474.7 669.4 L473.2 669.6 L472.0 668.8 L470.5 669.0 L469.0 669.4 L467.9 670.4 L466.4 670.3 L465.0 670.1 L463.5 669.6 L462.1 669.3 L460.7 669.9 L462.0 669.3 L463.5 669.5 L464.8 670.4 L466.2 670.8 L467.7 670.9 L469.1 670.4 L470.4 670.9 L471.6 671.9 L472.5 673.1 L474.0 673.6 L474.5 674.9 L474.1 676.4 L474.6 677.8 L475.7 678.8 L475.9 680.3 L477.1 681.2 L478.3 682.1 L479.6 682.7 L480.7 683.8 L481.7 684.9 L482.9 685.8 L484.4 686.1 L485.9 686.1 L486.8 684.9 L486.7 683.4 L487.0 681.9 L487.2 680.4 L486.5 679.1 L486.0 677.7 L485.6 676.2 L484.7 675.1" fill="none" stroke="#4f9edb" stroke-width="0.45"/><path d="M479.8 662.2 L480.5 663.5 L481.0 664.9 L482.3 665.7 L482.9 667.0 L483.8 668.2 L485.2 668.7 L486.4 669.7 L487.9 669.7 L489.3 670.2 L490.6 669.4 L492.1 669.6 L493.4 668.9 L494.1 667.6 L494.9 666.3 L496.0 665.3 L496.9 664.1 L497.5 662.8 L498.1 661.4 L499.2 660.4 L500.5 659.6 L501.1 658.2 L502.4 657.5 L503.0 656.1 L503.6 654.7 L502.6 655.8 L502.7 657.3 L502.6 658.8 L503.5 659.9 L503.2 661.4 L502.3 662.6 L500.8 662.9 L499.4 663.2 L498.0 662.5 L496.5 662.9 L495.1 663.2 L493.6 663.0 L492.2 662.7 L490.8 663.3 L489.8 664.4 L488.4 665.0 L487.9 666.4 L488.7 667.7 L488.9 669.1 L489.7 670.4" fill="none" stroke="#4f9edb" stroke-width="0.45"/><path d="M484.6 658.0 L483.5 659.1 L482.0 659.1 L480.9 658.2 L479.7 657.3 L478.2 656.9 L477.0 656.0 L475.7 655.3 L474.9 654.0 L474.0 652.8 L473.4 651.4 L472.7 650.1 L472.3 648.7 L471.6 647.3 L470.9 646.0 L471.7 647.3 L471.3 648.7 L471.9 650.1 L473.3 650.8 L474.7 650.5 L475.8 649.5 L477.3 649.0 L478.7 649.5 L480.2 649.6 L481.6 649.2 L482.5 648.0 L483.2 646.7 L484.5 645.9 L486.0 646.2 L487.5 646.3 L488.6 647.3 L490.1 647.4 L491.1 648.6 L491.6 650.0 L492.7 651.0 L493.8 652.0 L494.5 653.4 L494.2 654.9 L494.5 656.4 L494.1 657.8 L492.8 658.6 L492.2 660.0 L492.5 661.4 L493.5 662.5 L494.0 663.9" fill="none" stroke="#4f9edb" stroke-width="0.45"/><path d="M494.0 670.1 L495.2 669.2 L496.4 668.4 L497.7 667.6 L498.9 666.6 L500.3 666.1 L500.8 664.7 L500.5 663.2 L499.6 662.0 L498.3 661.3 L496.8 661.3 L495.8 662.5 L495.5 663.9 L496.3 665.2 L497.3 666.3 L497.7 667.8 L497.4 669.2 L498.0 670.6 L499.1 671.7 L500.4 672.3 L501.9 671.8 L503.2 672.3 L504.3 673.4 L502.8 673.3 L501.3 673.4 L500.5 674.6 L500.7 676.1 L501.0 677.6 L502.0 678.7 L501.1 677.5 L501.0 676.0 L501.5 674.6 L501.2 673.1 L502.2 672.0 L503.7 671.8 L505.0 671.1 L503.6 671.5 L502.2 672.1 L500.8 672.6 L499.3 672.2 L498.0 672.9 L497.4 674.3 L497.0 675.7 L497.1 677.2 L498.4 678.1" fill="none" stroke="#4f9edb" stroke-width="0.45"/><path d="M488.2 654.7 L489.4 653.8 L489.8 652.4 L490.9 651.3 L492.0 650.4 L493.2 649.4 L493.9 648.1 L494.6 646.7 L494.7 645.2 L494.4 646.7 L493.6 647.9 L493.8 649.4 L493.4 650.9 L493.6 652.3 L492.8 653.7 L493.3 655.1 L493.0 656.5 L493.5 658.0 L494.1 659.3 L494.2 660.8 L494.6 662.3 L495.4 663.6 L496.5 664.6 L497.7 665.4 L499.2 665.7 L500.7 665.8 L502.1 665.2 L502.5 663.7 L503.6 662.7 L504.6 661.6 L504.8 660.1 L505.1 658.6 L503.7 658.3 L502.3 658.8 L501.7 660.2 L501.5 661.6 L500.3 662.6 L500.2 664.1 L500.9 665.4 L502.1 666.2 L502.7 667.6 L503.7 668.8 L504.8 669.8 L505.8 670.9 L504.4 670.2" fill="none" stroke="#4f9edb" stroke-width="0.45"/><path d="M488.3 660.9 L487.9 662.3 L487.3 663.7 L486.4 664.9 L485.9 666.3 L485.6 667.8 L485.0 669.2 L484.1 670.3 L484.0 671.8 L485.0 673.0 L486.3 673.7 L486.6 675.2 L487.6 676.3 L488.8 677.2 L490.3 677.0 L491.6 676.4 L493.1 676.7 L494.1 677.8 L495.5 678.4 L495.8 679.9 L496.3 681.3 L495.7 682.7 L495.6 684.2 L495.7 682.7 L496.3 681.3 L496.8 679.9 L497.9 678.9 L499.0 677.9 L500.5 677.8 L501.9 678.3 L500.7 677.4 L500.7 675.9 L500.5 674.4 L500.1 673.0 L500.5 671.5 L501.1 670.1 L500.5 668.7 L500.1 667.3 L499.0 666.3 L497.6 665.7 L496.1 665.9 L494.6 666.0 L493.1 665.8 L491.8 666.6 L491.2 667.9" fill="none" stroke="#4f9edb" stroke-width="0.45"/><path d="M484.9 668.3 L486.3 667.7 L486.9 666.4 L487.8 665.1 L487.5 663.7 L486.6 662.5 L485.4 661.6 L483.9 661.7 L482.4 661.2 L481.8 659.9 L481.4 658.4 L481.2 657.0 L482.2 655.8 L482.9 654.5 L484.3 654.1 L485.3 652.9 L485.5 651.5 L486.2 650.1 L486.0 648.6 L487.0 647.5 L487.7 646.2 L487.6 644.7 L488.6 643.5 L490.0 643.0 L489.3 644.3 L488.4 645.5 L488.1 646.9 L488.1 648.4 L487.5 649.8 L486.2 650.5 L484.8 651.1 L483.3 651.4 L481.8 651.6 L480.6 652.4 L479.8 653.7 L480.0 655.2 L479.2 656.5 L478.1 657.5 L476.7 657.9 L475.3 657.4 L474.1 656.5 L472.7 656.0 L471.3 656.6 L469.9 657.1 L469.2 658.4" fill="none" stroke="#4f9edb" stroke-width="0.45"/><path d="M492.1 673.0 L493.2 673.9 L494.4 674.9 L494.9 676.3 L495.5 677.7 L495.0 679.1 L495.3 680.6 L495.5 682.0 L496.6 683.0 L495.3 682.4 L493.8 682.3 L492.3 682.5 L490.8 682.2 L489.6 683.0 L488.1 682.9 L486.8 683.5 L485.3 683.7 L484.2 684.8 L484.3 686.3 L484.5 687.8 L485.1 686.4 L484.9 685.0 L485.7 683.7 L486.3 682.3 L487.7 681.9 L488.5 680.6 L489.2 679.3 L490.6 678.7 L491.8 677.8 L492.8 676.7 L493.0 675.2 L492.5 673.7 L491.5 672.6 L490.0 672.2 L488.8 671.4 L488.5 669.9 L487.5 668.8 L486.2 668.0 L484.9 667.3 L483.7 666.5 L482.5 665.5 L482.4 664.0 L483.0 662.6 L482.5 661.2 L481.7 660.0" fill="none" stroke="#4f9edb" stroke-width="0.45"/><path d="M489.3 671.7 L487.9 672.1 L487.1 673.4 L486.8 674.9 L486.5 676.3 L487.0 677.7 L487.1 679.2 L488.3 680.1 L488.5 681.6 L488.0 683.0 L488.4 684.5 L487.8 685.9 L487.0 687.2 L485.7 687.8 L484.3 687.2 L482.8 687.4 L481.6 686.5 L480.1 686.4 L478.9 687.4 L479.0 685.9 L479.1 684.4 L479.6 683.0 L479.5 681.5 L479.7 680.0 L480.3 678.6 L480.7 677.1 L482.0 676.5 L483.3 675.7 L483.8 674.3 L483.2 672.9 L482.4 671.7 L481.3 670.6 L480.7 669.2 L480.6 667.7 L479.8 666.4 L478.5 665.8 L477.0 666.1 L475.7 666.9 L474.8 668.1 L473.4 668.8 L472.1 669.5 L471.6 670.9 L470.3 671.6 L469.4 672.8 L467.9 672.9" fill="none" stroke="#4f9edb" stroke-width="0.45"/><path d="M488.8 667.0 L489.8 668.1 L490.9 669.1 L491.2 670.6 L491.4 672.1 L491.1 673.6 L490.3 674.8 L489.1 675.7 L487.6 675.9 L486.5 674.9 L485.8 673.6 L485.2 672.2 L484.3 671.0 L484.6 669.5 L484.0 668.1 L483.0 667.0 L481.8 666.2 L480.3 665.8 L479.1 666.6 L477.6 666.8 L476.2 667.2 L475.2 668.4 L474.5 669.7 L473.2 670.5 L471.8 670.1 L470.5 669.4 L469.2 668.6 L467.7 668.8 L466.4 668.3 L465.8 666.9 L466.2 665.4 L466.9 664.1 L467.3 662.7 L467.3 661.2 L468.0 659.9 L468.0 658.4 L466.8 657.4 L465.3 657.7 L463.9 657.3 L463.2 656.0 L461.9 655.4 L462.8 656.5 L463.8 657.6 L465.2 658.1 L466.2 659.3" fill="none" stroke="#4f9edb" stroke-width="0.45"/><path d="M494.7 653.8 L493.2 653.7 L491.7 653.6 L490.2 653.2 L488.7 653.2 L487.2 653.2 L485.7 653.1 L484.8 651.9 L483.6 651.0 L483.2 649.6 L484.0 648.3 L485.1 647.2 L486.5 646.7 L487.9 647.1 L489.4 647.2 L490.9 647.5 L492.4 647.8 L493.7 647.1 L495.2 647.2 L496.3 646.2 L495.5 647.5 L494.3 648.3 L493.9 649.8 L493.3 651.1 L493.9 652.5 L494.2 654.0 L493.9 655.4 L492.7 656.3 L492.5 657.8 L491.6 659.0 L490.1 659.0 L488.7 659.7 L487.3 659.3 L486.3 658.2 L485.0 657.5 L483.6 656.9 L482.5 655.9 L482.4 654.4 L482.5 652.9 L482.1 651.4 L480.8 650.7 L479.3 650.5 L477.8 650.4 L476.4 650.9 L475.0 651.4" fill="none" stroke="#4f9edb" stroke-width="0.45"/><path d="M480.3 654.7 L481.7 655.2 L483.2 655.5 L484.1 656.7 L483.8 658.2 L483.9 659.7 L485.0 660.7 L485.1 662.2 L484.3 663.5 L483.0 664.2 L481.5 664.0 L480.5 665.1 L479.7 666.4 L478.5 667.3 L477.0 667.5 L475.5 667.7 L474.2 668.4 L472.9 669.1 L471.4 669.0 L470.1 669.9 L469.2 671.1 L468.9 672.5 L469.6 673.9 L470.8 674.7 L472.3 674.3 L473.6 673.6 L474.4 672.4 L475.8 671.8 L477.3 672.1 L478.7 671.6 L480.2 671.3 L481.6 670.8 L483.1 670.8 L484.6 670.6 L485.8 671.5 L486.7 672.7 L486.4 674.2 L485.4 675.3 L484.2 676.2 L483.8 677.7 L482.7 678.7 L481.2 678.7 L479.7 678.8 L478.3 678.2 L476.9 677.9" fill="none" stroke="#4f9edb" stroke-width="0.45"/><path d="M488.8 666.0 L489.9 667.1 L491.1 668.0 L492.5 668.6 L493.7 669.4 L494.3 670.8 L495.3 671.9 L495.8 673.3 L497.1 674.2 L498.6 674.0 L499.8 674.8 L500.2 676.3 L501.0 677.5 L502.4 678.2 L501.0 677.7 L499.8 676.8 L498.3 676.7 L497.0 676.0 L496.5 674.5 L495.4 673.6 L493.9 673.6 L492.5 674.1 L491.0 674.1 L489.7 674.8 L488.5 675.7 L487.0 675.5 L485.6 675.0 L484.1 674.7 L482.7 675.2 L481.3 675.5 L479.8 675.8 L478.5 676.5 L477.2 677.3 L476.3 678.5 L474.9 679.0 L473.4 679.4 L471.9 679.5 L470.8 680.5 L469.8 681.6 L468.3 682.0 L467.0 681.3 L468.1 680.3 L469.1 679.2 L470.6 678.9 L472.1 679.0" fill="none" stroke="#4f9edb" stroke-width="0.45"/><path d="M484.9 662.4 L483.7 661.4 L482.3 661.2 L481.1 662.2 L479.6 662.0 L478.7 660.8 L477.4 660.2 L477.0 658.7 L477.0 657.2 L478.2 656.2 L478.8 654.9 L480.2 654.4 L481.3 653.4 L482.7 652.8 L483.6 651.6 L484.4 650.3 L484.1 648.9 L485.0 647.6 L485.8 646.4 L486.7 645.2 L486.9 643.8 L486.8 642.3 L485.9 643.5 L485.2 644.8 L484.8 646.2 L485.5 647.5 L485.9 649.0 L486.2 650.4 L486.2 651.9 L485.3 653.2 L485.6 654.6 L486.4 655.9 L486.8 657.3 L487.5 658.6 L487.8 660.1 L488.7 661.3 L489.7 662.4 L490.8 663.4 L492.2 664.0 L493.1 665.3 L493.9 666.5 L493.5 668.0 L493.2 669.5 L492.1 670.4 L490.7 670.9" fill="none" stroke="#4f9edb" stroke-width="0.45"/><path d="M475.7 667.3 L475.7 665.8 L475.2 664.3 L474.1 663.3 L473.0 662.3 L471.9 661.2 L470.5 660.9 L469.1 660.3 L467.8 659.6 L467.0 658.3 L465.6 657.7 L464.2 657.3 L463.4 656.1 L462.9 654.6 L463.8 655.8 L463.9 657.3 L463.4 658.7 L463.6 660.2 L463.9 661.7 L463.7 663.2 L463.5 664.6 L463.7 666.1 L464.7 667.3 L465.8 668.2 L466.3 669.6 L466.1 671.1 L465.8 672.6 L466.8 673.8 L467.9 674.8 L468.7 676.1 L470.0 676.8 L471.4 677.4 L472.7 678.1 L474.2 677.9 L475.3 676.9 L476.0 675.6 L477.4 675.1 L478.7 675.9 L480.2 675.4 L481.7 675.4 L482.8 676.4 L484.1 677.2 L485.2 678.2 L486.5 679.0 L486.8 680.5" fill="none" stroke="#4f9edb" stroke-width="0.45"/><path d="M486.5 661.7 L485.2 660.9 L484.5 659.6 L483.1 659.0 L482.3 657.7 L481.4 656.5 L481.3 655.0 L482.2 653.9 L483.5 653.1 L484.8 652.3 L485.7 651.1 L486.3 649.7 L487.6 649.1 L488.8 648.1 L489.8 647.0 L491.3 647.1 L492.4 648.1 L493.9 647.9 L495.2 648.7 L496.2 649.8 L496.6 651.3 L497.7 652.2 L497.6 653.7 L496.5 654.7 L495.9 656.1 L495.2 657.4 L494.6 658.8 L493.4 659.7 L492.0 660.3 L490.6 660.1 L489.4 661.0 L488.0 661.6 L486.9 662.6 L486.3 664.0 L485.0 664.6 L484.0 665.8 L482.9 666.8 L481.4 666.9 L479.9 666.9 L478.6 667.6 L477.2 668.3 L476.4 669.5 L476.4 671.0 L477.3 672.2 L478.4 673.2" fill="none" stroke="#4f9edb" stroke-width="0.45"/><path d="M492.7 676.0 L494.1 675.5 L494.5 674.1 L495.7 673.1 L497.1 672.6 L498.4 673.2 L499.8 672.5 L501.2 672.9 L502.1 674.1 L502.0 675.6 L503.1 676.6 L501.6 676.5 L500.1 676.2 L498.7 676.4 L497.2 676.5 L495.7 676.6 L494.5 675.6 L493.0 676.0 L491.6 675.6 L490.2 675.0 L488.7 674.9 L487.6 673.9 L486.1 673.4 L485.1 672.3 L484.0 671.3 L482.9 670.3 L482.6 668.9 L483.1 667.4 L482.9 666.0 L481.7 665.0 L480.4 664.3 L478.9 664.3 L477.9 663.2 L476.8 662.1 L476.7 660.6 L477.8 659.6 L479.3 659.4 L480.7 658.9 L481.6 657.7 L482.3 656.4 L482.4 654.9 L483.0 653.5 L484.2 652.6 L485.7 652.8 L487.1 652.6" fill="none" stroke="#4f9edb" stroke-width="0.45"/><path d="M489.1 670.4 L487.8 669.6 L487.2 668.2 L486.3 667.1 L485.3 665.9 L484.9 664.5 L485.7 663.2 L487.1 662.8 L488.4 663.5 L488.7 665.0 L488.1 666.3 L488.0 667.8 L488.4 669.3 L487.8 670.6 L488.1 672.1 L488.2 673.6 L489.4 674.6 L490.7 675.3 L491.9 676.2 L493.3 676.6 L494.6 677.4 L496.0 677.8 L496.7 679.1 L497.8 680.1 L498.1 681.6 L497.3 682.9 L496.0 682.1 L494.8 681.2 L494.5 679.7 L494.5 678.2 L494.1 676.8 L492.7 676.2 L491.3 676.9 L490.1 677.7 L489.0 678.8 L489.1 680.3 L490.3 681.2 L491.2 682.3 L491.5 683.8 L491.6 685.3 L490.9 686.6 L490.8 685.1 L490.7 683.6 L491.8 682.5 L493.3 682.5" fill="none" stroke="#4f9edb" stroke-width="0.45"/><path d="M483.0 672.6 L481.6 672.1 L480.9 670.8 L479.8 669.8 L478.6 668.9 L477.4 667.9 L476.2 667.1 L475.5 665.7 L475.5 664.2 L475.8 662.8 L477.1 662.0 L478.6 661.9 L480.0 662.1 L481.2 663.0 L482.7 662.8 L484.2 663.1 L485.2 664.2 L485.5 665.7 L486.6 666.7 L488.1 666.6 L489.2 667.6 L490.4 668.5 L491.1 669.8 L490.9 671.3 L491.7 672.6 L493.0 673.3 L494.5 673.2 L496.0 672.8 L497.5 672.5 L498.8 673.1 L500.3 673.5 L501.5 674.4 L502.9 674.2 L504.0 673.1 L502.5 673.3 L501.0 673.1 L499.8 672.3 L498.3 672.2 L497.2 671.2 L496.6 669.8 L495.2 669.1 L493.8 668.9 L492.5 669.7 L492.1 671.1 L492.6 672.5" fill="none" stroke="#4f9edb" stroke-width="0.45"/><path d="M481.9 657.9 L482.3 659.3 L483.7 660.0 L484.4 661.3 L485.7 662.0 L487.2 662.0 L488.5 662.7 L490.0 662.9 L491.5 663.1 L492.9 663.6 L494.1 664.6 L495.2 665.6 L496.1 666.8 L497.0 668.0 L497.7 669.3 L497.1 670.7 L496.1 671.8 L495.7 673.2 L494.6 674.2 L493.6 675.3 L492.6 676.4 L491.4 677.3 L490.8 678.7 L491.2 680.1 L491.3 681.6 L491.2 683.1 L491.8 684.5 L492.4 685.9 L491.3 684.9 L490.9 683.4 L491.5 682.1 L491.6 680.6 L490.5 679.5 L489.5 678.4 L488.1 677.8 L486.6 678.1 L485.9 679.4 L485.7 680.9 L486.2 682.4 L487.0 683.6 L486.6 685.0 L485.9 686.3 L484.5 687.1 L483.1 686.7 L481.8 685.9" fill="none" stroke="#4f9edb" stroke-width="0.45"/><path d="M492.4 674.8 L492.8 673.6 L493.3 672.6 L494.3 671.8 L495.5 671.6 L496.3 670.8 L497.0 669.8 L497.8 668.9 L499.0 668.5 L499.8 667.6 L500.9 667.2 L502.0 667.7 L503.2 667.7 L502.0 667.7 L501.2 666.9 L501.2 665.7 L501.7 664.6" fill="none" stroke="#b5524a" stroke-width="0.6"/><path d="M479.8 658.1 L478.6 657.7 L477.4 657.9 L476.6 657.0 L476.4 655.8 L475.8 654.8 L475.5 653.6 L475.2 652.5 L474.3 651.7 L474.2 650.5 L474.0 649.3 L474.7 648.3 L475.5 647.4 L476.4 648.1 L476.9 649.2 L477.6 650.2 L477.8 651.4" fill="none" stroke="#b5524a" stroke-width="0.6"/><path d="M490.8 659.4 L491.9 659.8 L493.1 659.8 L494.3 660.1 L495.0 661.1 L496.1 661.3 L497.2 661.9 L498.4 661.7 L499.5 661.3 L500.7 661.4 L501.9 661.5 L500.8 661.3 L499.6 661.7 L498.7 662.4 L497.5 662.1 L496.7 661.2 L495.9 660.4" fill="none" stroke="#b5524a" stroke-width="0.6"/><path d="M488.7 666.2 L487.5 666.6 L486.5 666.1 L485.4 665.6 L484.2 665.5 L483.1 665.1 L482.4 664.1 L481.3 663.8 L480.1 664.2 L479.4 665.1 L479.3 666.3 L479.5 667.5 L480.0 668.6 L479.8 669.8 L479.5 671.0 L478.5 671.6 L477.5 672.3" fill="none" stroke="#b5524a" stroke-width="0.6"/><path d="M488.6 665.7 L487.7 666.5 L487.6 667.7 L488.2 668.8 L489.4 669.0 L489.9 670.0 L491.0 670.6 L491.7 671.6 L491.7 672.8 L491.9 674.0 L492.8 674.7 L493.4 675.8 L493.1 677.0 L492.3 677.9 L491.2 678.4 L490.3 679.2 L490.1 680.4" fill="none" stroke="#b5524a" stroke-width="0.6"/><path d="M480.0 671.0 L480.0 672.2 L479.1 673.0 L477.9 672.9 L477.2 671.9 L476.0 671.7 L474.9 672.3 L473.8 672.6 L472.6 672.6 L471.4 672.4 L470.3 672.0 L469.3 671.3 L468.1 671.0 L467.0 671.5 L466.0 672.2 L464.9 672.1 L465.9 671.6" fill="none" stroke="#b5524a" stroke-width="0.6"/><path d="M480.2 666.6 L481.4 666.5 L482.1 665.5 L483.1 664.8 L484.2 665.1 L485.4 665.5 L486.5 665.1 L487.2 664.1 L488.1 663.3 L489.2 663.0 L490.0 662.1 L489.9 660.9 L489.0 660.1 L488.3 659.1 L488.3 657.9 L487.7 656.9 L487.5 655.7" fill="none" stroke="#b5524a" stroke-width="0.6"/><path d="M485.2 665.0 L484.0 664.9 L482.8 664.5 L482.4 663.4 L481.9 662.3 L480.7 661.9 L479.6 662.2 L478.4 662.2 L477.2 662.3 L476.2 663.0 L476.1 664.2 L476.8 665.1 L477.7 666.0 L478.0 667.2 L477.8 668.3 L478.5 669.3 L478.6 670.5" fill="none" stroke="#b5524a" stroke-width="0.6"/><path d="M492.5 655.7 L491.9 656.7 L491.8 657.9 L491.1 658.9 L491.5 660.1 L491.3 661.2 L490.4 662.0 L489.2 662.2 L488.5 663.1 L488.5 664.3 L487.7 665.2 L486.5 665.3 L485.5 664.6 L484.4 664.4 L483.2 664.8 L482.0 665.0 L481.4 666.0" fill="none" stroke="#b5524a" stroke-width="0.6"/><path d="M490.6 657.1 L489.6 656.5 L489.0 655.4 L488.5 654.4 L488.9 653.2 L489.3 652.1 L490.4 651.5 L491.2 650.7 L492.4 650.4 L493.6 650.2 L494.5 649.4 L494.4 650.6 L495.0 651.7 L495.4 652.8 L496.4 653.5 L497.5 653.7 L498.2 654.7" fill="none" stroke="#b5524a" stroke-width="0.6"/><path d="M482.9 675.1 L483.9 674.4 L484.9 673.7 L485.6 672.8 L485.7 671.6 L485.6 670.4 L484.8 669.5 L483.9 668.6 L483.4 667.6 L482.3 667.1 L481.6 666.1 L481.1 665.0 L480.3 664.1 L479.3 663.4 L478.4 662.6 L477.7 661.7 L476.5 661.7" fill="none" stroke="#b5524a" stroke-width="0.6"/><path d="M479.3 658.0 L479.8 656.9 L479.6 655.7 L478.9 654.7 L479.1 653.5 L478.6 652.4 L477.5 651.9 L476.4 652.3 L475.3 651.7 L474.1 651.8 L473.1 652.4 L471.9 652.0 L470.7 652.0 L469.8 651.2 L470.7 652.0 L471.9 652.3 L473.1 652.2" fill="none" stroke="#b5524a" stroke-width="0.6"/><circle cx="499.7" cy="664.3" r="0.55" fill="#222"/><circle cx="465.7" cy="657.2" r="0.55" fill="#222"/><circle cx="502.9" cy="665.5" r="0.55" fill="#222"/><circle cx="475.2" cy="663.7" r="0.55" fill="#222"/><circle cx="484.3" cy="672.3" r="0.55" fill="#222"/><circle cx="477.5" cy="681.9" r="0.55" fill="#222"/><circle cx="490.2" cy="667.9" r="0.55" fill="#222"/><circle cx="481.2" cy="670.9" r="0.55" fill="#222"/><circle cx="470.3" cy="674.5" r="0.55" fill="#222"/><circle cx="485.6" cy="681.1" r="0.55" fill="#222"/><circle cx="466.9" cy="667.0" r="0.55" fill="#222"/><circle cx="471.9" cy="676.2" r="0.55" fill="#222"/><circle cx="487.6" cy="657.6" r="0.55" fill="#222"/><circle cx="462.7" cy="673.2" r="0.55" fill="#222"/><circle cx="463.4" cy="658.2" r="0.55" fill="#222"/><circle cx="480.0" cy="653.6" r="0.55" fill="#222"/><circle cx="477.5" cy="670.5" r="0.55" fill="#222"/><circle cx="466.8" cy="658.9" r="0.55" fill="#222"/><circle cx="499.1" cy="651.6" r="0.55" fill="#222"/><circle cx="462.4" cy="658.8" r="0.55" fill="#222"/><circle cx="502.5" cy="667.5" r="0.55" fill="#222"/><circle cx="473.1" cy="649.0" r="0.55" fill="#222"/><circle cx="500.1" cy="666.8" r="0.55" fill="#222"/><circle cx="473.7" cy="661.3" r="0.55" fill="#222"/><circle cx="474.4" cy="669.4" r="0.55" fill="#222"/><circle cx="494.0" cy="653.6" r="0.55" fill="#222"/><circle cx="493.7" cy="677.1" r="0.55" fill="#222"/><circle cx="479.0" cy="652.0" r="0.55" fill="#222"/><circle cx="489.2" cy="648.4" r="0.55" fill="#222"/><circle cx="488.4" cy="650.8" r="0.55" fill="#222"/><circle cx="463.2" cy="667.9" r="0.55" fill="#222"/><circle cx="480.4" cy="643.4" r="0.55" fill="#222"/><circle cx="486.5" cy="681.4" r="0.55" fill="#222"/><circle cx="477.2" cy="656.3" r="0.55" fill="#222"/><circle cx="499.3" cy="652.2" r="0.55" fill="#222"/><circle cx="503.4" cy="666.0" r="0.55" fill="#222"/><circle cx="492.3" cy="656.8" r="0.55" fill="#222"/><circle cx="461.2" cy="661.3" r="0.55" fill="#222"/><circle cx="463.9" cy="670.3" r="0.55" fill="#222"/><circle cx="478.2" cy="652.6" r="0.55" fill="#222"/><circle cx="503.5" cy="664.1" r="0.55" fill="#222"/><circle cx="491.6" cy="670.3" r="0.55" fill="#222"/><circle cx="494.5" cy="670.9" r="0.55" fill="#222"/><circle cx="504.2" cy="663.7" r="0.55" fill="#222"/><circle cx="461.9" cy="665.5" r="0.55" fill="#222"/><circle cx="491.0" cy="650.9" r="0.55" fill="#222"/><circle cx="478.7" cy="659.5" r="0.55" fill="#222"/><circle cx="492.1" cy="649.4" r="0.55" fill="#222"/><circle cx="491.2" cy="664.1" r="0.55" fill="#222"/><circle cx="478.0" cy="653.3" r="0.55" fill="#222"/><circle cx="485.3" cy="669.9" r="0.55" fill="#222"/><circle cx="486.2" cy="684.9" r="0.55" fill="#222"/><circle cx="467.8" cy="681.2" r="0.55" fill="#222"/><circle cx="482.6" cy="675.3" r="0.55" fill="#222"/><circle cx="469.3" cy="682.0" r="0.55" fill="#222"/><circle cx="462.9" cy="668.6" r="0.55" fill="#222"/><circle cx="475.5" cy="653.4" r="0.55" fill="#222"/><circle cx="495.0" cy="681.6" r="0.55" fill="#222"/><circle cx="474.6" cy="656.4" r="0.55" fill="#222"/><circle cx="478.7" cy="658.4" r="0.55" fill="#222"/><circle cx="478.7" cy="680.8" r="0.55" fill="#222"/><circle cx="477.4" cy="656.1" r="0.55" fill="#222"/><circle cx="495.1" cy="669.0" r="0.55" fill="#222"/><circle cx="479.9" cy="683.0" r="0.55" fill="#222"/><circle cx="502.1" cy="662.2" r="0.55" fill="#222"/><circle cx="488.8" cy="653.2" r="0.55" fill="#222"/><circle cx="496.8" cy="665.8" r="0.55" fill="#222"/><circle cx="499.1" cy="670.4" r="0.55" fill="#222"/><circle cx="490.4" cy="659.6" r="0.55" fill="#222"/><circle cx="475.2" cy="679.3" r="0.55" fill="#222"/><circle cx="496.1" cy="676.7" r="0.55" fill="#222"/><circle cx="483.7" cy="650.6" r="0.55" fill="#222"/><circle cx="477.8" cy="681.9" r="0.55" fill="#222"/><circle cx="501.1" cy="656.8" r="0.55" fill="#222"/><circle cx="499.8" cy="663.9" r="0.55" fill="#222"/><circle cx="480.7" cy="668.2" r="0.55" fill="#222"/><circle cx="490.8" cy="662.5" r="0.55" fill="#222"/><circle cx="487.9" cy="659.4" r="0.55" fill="#222"/><circle cx="483.6" cy="648.2" r="0.55" fill="#222"/><circle cx="495.8" cy="682.2" r="0.55" fill="#222"/><circle cx="486.5" cy="683.5" r="0.55" fill="#222"/><circle cx="491.6" cy="668.1" r="0.55" fill="#222"/><circle cx="496.7" cy="665.1" r="0.55" fill="#222"/><circle cx="484.2" cy="684.4" r="0.55" fill="#222"/><circle cx="490.9" cy="645.6" r="0.55" fill="#222"/><circle cx="493.3" cy="679.0" r="0.55" fill="#222"/><circle cx="479.6" cy="647.9" r="0.55" fill="#222"/><circle cx="464.4" cy="672.9" r="0.55" fill="#222"/><circle cx="485.1" cy="672.9" r="0.55" fill="#222"/><circle cx="496.2" cy="649.1" r="0.55" fill="#222"/><text x="508" y="684.8" font-size="6" font-weight="700" text-anchor="end" fill="#3f93d4">E3</text><text x="508" y="692.2" font-size="6.4" font-weight="700" text-anchor="end" fill="#c8202c">DNA</text></svg>
<svg style="left:0;top:0" width="1023" height="785"><rect x="527.5" y="557.9" width="185.5" height="132.6" fill="#fefefe" style="filter:drop-shadow(1px 1.5px 2px rgba(0,0,0,.3))"/><path d="M555.0 664.8L677.4 664.8M609.5 584.3L670.6 674.8M623.1 584.3L561.8 674.8M561.8 654.7L670.6 654.7M602.7 594.4L657.0 674.8M629.9 594.4L575.4 674.8M568.6 644.6L663.8 644.6M595.9 604.4L643.4 674.8M636.7 604.4L589.0 674.8M575.4 634.6L657.0 634.6M589.1 614.5L629.8 674.8M643.5 614.5L602.6 674.8M582.2 624.5L650.2 624.5M582.2 624.5L616.2 674.8M650.2 624.5L616.2 674.8M589.1 614.5L643.5 614.5M575.4 634.6L602.6 674.8M657.0 634.6L629.8 674.8M595.9 604.4L636.7 604.4M568.6 644.6L589.0 674.8M663.8 644.6L643.4 674.8M602.7 594.4L629.9 594.4M561.8 654.7L575.4 674.8M670.6 654.7L657.0 674.8M609.5 584.3L623.1 584.3M555.0 664.8L561.8 674.8M677.4 664.8L670.6 674.8" stroke="#bdbdbd" stroke-width="0.35" stroke-dasharray="0.7 1.2" fill="none"/><path d="M616.3 574.3L548.2 674.8L684.2 674.8Z" fill="none" stroke="#666" stroke-width="0.6"/><path d="M581.4 631.4L617.4 577.0M587.1 630.5L620.1 581.0M593.8 629.1L623.0 585.5M600.5 627.1L626.0 590.5M607.3 624.6L628.7 595.0M614.0 621.9L630.9 599.9M620.8 619.2L632.5 604.6M626.4 616.5L633.4 608.9" stroke="#4a5cf0" stroke-width="0.4" stroke-dasharray="0.8 0.8" fill="none"/><path d="M616.3 574.3L578.1 632.1" stroke="#4a56e8" stroke-width="0.5"/><path d="M616.3 574.3C617.6 575.9 621.7 580.3 624.2 583.7C626.6 587.2 629.2 591.2 630.9 595.0C632.6 598.7 633.9 603.4 634.3 606.2C634.6 609.0 634.5 610.0 633.1 611.8C631.8 613.7 629.8 615.4 626.4 617.4C623.0 619.5 618.2 622.1 612.9 624.2C607.7 626.3 600.7 628.5 594.9 629.8C589.1 631.1 580.9 631.7 578.1 632.1" fill="none" stroke="#2a36e8" stroke-width="0.8"/><path d="M616.3 575.2C617.2 576.6 619.8 580.4 621.9 583.7C624.0 587.0 626.9 591.2 628.7 595.0C630.4 598.7 632.2 603.2 632.5 606.2C632.8 609.2 632.2 611.5 630.4 612.9C628.7 614.4 626.3 614.7 621.9 615.2C617.5 615.6 609.4 615.6 603.9 615.6C598.5 615.6 591.7 615.3 589.3 615.2" fill="none" stroke="#f0303a" stroke-width="0.9"/><g font-family="Liberation Serif, serif" fill="#333"><text x="616.3" y="567.6" font-size="9.6" text-anchor="middle" style="font-family:'Liberation Serif',serif" textLength="29" lengthAdjust="spacingAndGlyphs">Buffer</text><text x="538.7" y="684" font-size="9.6" text-anchor="middle" style="font-family:'Liberation Serif',serif">E3</text><text x="699.5" y="684" font-size="9.6" text-anchor="middle" style="font-family:'Liberation Serif',serif" textLength="23" lengthAdjust="spacingAndGlyphs">DNA</text></g><g font-size="2.9" fill="#333" text-anchor="end" style="font-family:'Liberation Serif',serif"><text x="553.4" y="665.4">0.1</text><text x="560.2" y="655.3">0.2</text><text x="567.0" y="645.2">0.3</text><text x="573.8" y="635.2">0.4</text><text x="580.6" y="625.1">0.5</text><text x="587.5" y="615.1">0.6</text><text x="594.3" y="605.0">0.7</text><text x="601.1" y="595.0">0.8</text><text x="607.9" y="584.9">0.9</text></g><g font-size="2.9" fill="#333" style="font-family:'Liberation Serif',serif"><text transform="translate(625.7 584.7) rotate(-60)">0.1</text><text transform="translate(561.0 677.4) rotate(60)">0.1</text><text transform="translate(632.5 594.8) rotate(-60)">0.2</text><text transform="translate(574.6 677.4) rotate(60)">0.2</text><text transform="translate(639.3 604.8) rotate(-60)">0.3</text><text transform="translate(588.2 677.4) rotate(60)">0.3</text><text transform="translate(646.1 614.9) rotate(-60)">0.4</text><text transform="translate(601.8 677.4) rotate(60)">0.4</text><text transform="translate(652.9 624.9) rotate(-60)">0.5</text><text transform="translate(615.4 677.4) rotate(60)">0.5</text><text transform="translate(659.6 635.0) rotate(-60)">0.6</text><text transform="translate(629.0 677.4) rotate(60)">0.6</text><text transform="translate(666.4 645.0) rotate(-60)">0.7</text><text transform="translate(642.6 677.4) rotate(60)">0.7</text><text transform="translate(673.2 655.1) rotate(-60)">0.8</text><text transform="translate(656.2 677.4) rotate(60)">0.8</text><text transform="translate(680.0 665.1) rotate(-60)">0.9</text><text transform="translate(669.8 677.4) rotate(60)">0.9</text></g></svg>
<div class="a" style="left:1.3px;top:707px;width:1019.2px;height:78px;background:#c8103e;z-index:6"><svg style="left:0;top:0" width="1019.2" height="78"><rect width="1019.2" height="78" filter="url(#paper2)"/></svg></div>
<div class="a" style="left:373.4px;top:713.8px;width:1.4px;height:63.2px;background:#fff;z-index:7"></div>
<svg style="left:0;top:0;z-index:7" width="1023" height="785"><defs><radialGradient id="ng" cx="0.5" cy="0.3" r="0.75"><stop offset="0" stop-color="#3fa4e4"/><stop offset="0.5" stop-color="#2478c8"/><stop offset="1" stop-color="#153f96"/></radialGradient></defs><circle cx="975.4" cy="746.7" r="26.6" fill="none" stroke="#d2a83e" stroke-width="1.2"/><polygon points="975.4,714.4 976.6,717.7 980.2,717.9 977.4,720.0 978.3,723.4 975.4,721.5 972.5,723.4 973.4,720.0 970.6,717.9 974.2,717.7" fill="#d6ac40"/><polygon points="987.8,716.9 987.6,720.4 990.8,721.9 987.4,722.8 987.0,726.3 985.0,723.4 981.6,724.1 983.8,721.3 982.0,718.2 985.4,719.4" fill="#d6ac40"/><polygon points="998.2,723.9 996.8,727.1 999.2,729.7 995.7,729.3 993.9,732.3 993.2,728.9 989.8,728.2 992.8,726.4 992.4,722.9 995.0,725.3" fill="#d6ac40"/><polygon points="1005.2,734.3 1002.7,736.7 1003.9,740.1 1000.8,738.3 998.0,740.5 998.7,737.1 995.8,735.1 999.3,734.7 1000.2,731.3 1001.7,734.5" fill="#d6ac40"/><polygon points="1007.7,746.7 1004.4,747.9 1004.2,751.5 1002.1,748.7 998.7,749.6 1000.6,746.7 998.7,743.8 1002.1,744.7 1004.2,741.9 1004.4,745.5" fill="#d6ac40"/><polygon points="1005.2,759.1 1001.7,758.9 1000.2,762.1 999.3,758.7 995.8,758.3 998.7,756.3 998.0,752.9 1000.8,755.1 1003.9,753.3 1002.7,756.7" fill="#d6ac40"/><polygon points="998.2,769.5 995.0,768.1 992.4,770.5 992.8,767.0 989.8,765.2 993.2,764.5 993.9,761.1 995.7,764.1 999.2,763.7 996.8,766.3" fill="#d6ac40"/><polygon points="987.8,776.5 985.4,774.0 982.0,775.2 983.8,772.1 981.6,769.3 985.0,770.0 987.0,767.1 987.4,770.6 990.8,771.5 987.6,773.0" fill="#d6ac40"/><polygon points="975.4,779.0 974.2,775.7 970.6,775.5 973.4,773.4 972.5,770.0 975.4,771.9 978.3,770.0 977.4,773.4 980.2,775.5 976.6,775.7" fill="#d6ac40"/><polygon points="963.0,776.5 963.2,773.0 960.0,771.5 963.4,770.6 963.8,767.1 965.8,770.0 969.2,769.3 967.0,772.1 968.8,775.2 965.4,774.0" fill="#d6ac40"/><polygon points="952.6,769.5 954.0,766.3 951.6,763.7 955.1,764.1 956.9,761.1 957.6,764.5 961.0,765.2 958.0,767.0 958.4,770.5 955.8,768.1" fill="#d6ac40"/><polygon points="945.6,759.1 948.1,756.7 946.9,753.3 950.0,755.1 952.8,752.9 952.1,756.3 955.0,758.3 951.5,758.7 950.6,762.1 949.1,758.9" fill="#d6ac40"/><polygon points="943.1,746.7 946.4,745.5 946.6,741.9 948.7,744.7 952.1,743.8 950.2,746.7 952.1,749.6 948.7,748.7 946.6,751.5 946.4,747.9" fill="#d6ac40"/><polygon points="945.6,734.3 949.1,734.5 950.6,731.3 951.5,734.7 955.0,735.1 952.1,737.1 952.8,740.5 950.0,738.3 946.9,740.1 948.1,736.7" fill="#d6ac40"/><polygon points="952.6,723.9 955.8,725.3 958.4,722.9 958.0,726.4 961.0,728.2 957.6,728.9 956.9,732.3 955.1,729.3 951.6,729.7 954.0,727.1" fill="#d6ac40"/><polygon points="963.0,716.9 965.4,719.4 968.8,718.2 967.0,721.3 969.2,724.1 965.8,723.4 963.8,726.3 963.4,722.8 960.0,721.9 963.2,720.4" fill="#d6ac40"/><circle cx="975.4" cy="746.7" r="22" fill="url(#ng)"/><path d="M962 733q6-6 12-3t3 8-9 4-6-9zM981 731q8 0 11 6t-6 5-5-11zM968 758q5-2 8 4t-3 8-5-12z" fill="#6db6e8" opacity="0.55"/><text x="976.0" y="753.1" font-size="19" font-weight="700" text-anchor="middle" fill="#fff" style="font-family:'Liberation Serif',serif" textLength="41.5" lengthAdjust="spacingAndGlyphs">NSF</text></svg>
<span class="t" style='left:13.80px;top:718.00px;font:700 14.30px/1 "DejaVu Serif", "Liberation Serif", serif;color:#fff;transform:scaleX(1.0375);-webkit-text-stroke:0.50px #fff;z-index:7;'>Acknowledgments</span>
<span class="t" style='left:15.20px;top:743.00px;font:700 11.00px/1 "Liberation Sans", sans-serif;color:#fff;z-index:7;'>Ashley Tafoya, Qing Sun, Andrew Owens and Tyanna Lovato.</span>
<span class="t" style='left:394.40px;top:718.00px;font:700 14.30px/1 "DejaVu Serif", "Liberation Serif", serif;color:#fff;transform:scaleX(1.0870);-webkit-text-stroke:0.50px #fff;z-index:7;'>Funding</span>
<span class="t" style='left:406.00px;top:737.00px;font:700 10.50px/1 "Liberation Sans", sans-serif;color:#fff;transform:scaleX(1.0535);z-index:7;'>NSF Award #1843958,&nbsp; RoL: EAGER: DESYN-C3: Programmable control of</span>
<span class="t" style='left:394.20px;top:737.00px;font:700 10.50px/1 "Liberation Sans", sans-serif;color:#fff;z-index:7;'>•</span>
<span class="t" style='left:406.00px;top:751.00px;font:700 10.50px/1 "Liberation Sans", sans-serif;color:#fff;transform:scaleX(1.0513);z-index:7;'>metabolism in synthetic cells using intrinsically disordered proteins</span>
<span class="t" style='left:406.00px;top:764.00px;font:700 10.50px/1 "Liberation Sans", sans-serif;color:#fff;transform:scaleX(1.0483);z-index:7;'>NSF Biosensing Program (CBET-2031774)</span>
<span class="t" style='left:394.20px;top:764.00px;font:700 10.50px/1 "Liberation Sans", sans-serif;color:#fff;z-index:7;'>•</span>
<span class="t" style='left:13.35px;top:89.00px;font:400 12.30px/1 "Liberation Sans", sans-serif;color:#58595b;transform:scaleX(1.1221);-webkit-text-stroke:0.30px #58595b;'>CENTER FOR</span>
<span class="t" style='left:15.70px;top:101.00px;font:400 12.30px/1 "Liberation Sans", sans-serif;color:#58595b;transform:scaleX(1.1600);-webkit-text-stroke:0.30px #58595b;'>BIOMEDICAL</span>
<span class="t" style='left:11.75px;top:114.00px;font:400 12.30px/1 "Liberation Sans", sans-serif;color:#58595b;transform:scaleX(1.1023);-webkit-text-stroke:0.30px #58595b;'>ENGINEERING</span>
<span class="t" style='left:915.20px;top:96.00px;font:400 10.30px/1 "Liberation Sans", sans-serif;color:#58595b;transform:scaleX(1.1175);-webkit-text-stroke:0.20px #58595b;'>CENTER FOR</span>
<span class="t" style='left:892.50px;top:108.00px;font:400 10.30px/1 "Liberation Sans", sans-serif;color:#58595b;transform:scaleX(1.1356);-webkit-text-stroke:0.20px #58595b;'>MICRO-ENGINEERED</span>
<span class="t" style='left:919.65px;top:118.00px;font:400 10.30px/1 "Liberation Sans", sans-serif;color:#58595b;transform:scaleX(1.1439);-webkit-text-stroke:0.20px #58595b;'>MATERIALS</span>
<span class="t" style='left:179.40px;top:22.00px;font:700 19.40px/1 "DejaVu Serif", "Liberation Serif", serif;color:#0d0d0d;transform:scaleX(0.9873);-webkit-text-stroke:0.85px #0d0d0d;'>Recombinant Intrinsically Disordered Proteins for Triggered</span>
<span class="t" style='left:147.40px;top:50.00px;font:700 19.40px/1 "DejaVu Serif", "Liberation Serif", serif;color:#0d0d0d;transform:scaleX(0.9876);-webkit-text-stroke:0.85px #0d0d0d;'>Sequestration of Nucleic Acids via Liquid-Liquid Phase Separation</span>
<span class="t" style='left:223.50px;top:81.00px;font:700 13.20px/1 "Liberation Sans", sans-serif;color:#505050;transform:scaleX(1.0558);'>Telmo Díez Pérez<sup>1,2,3</sup>, Jacqueline A. De Lora<sup>1,3,4</sup>, Adam D. Quintana<sup>3</sup>, Andrew P. Shreve<sup>1,3</sup>,</span>
<span class="t" style='left:395.50px;top:98.00px;font:700 13.20px/1 "Liberation Sans", sans-serif;color:#505050;transform:scaleX(1.0572);'>Gabriel P. López<sup>1,3</sup>, Nick J. Carroll<sup>2,3</sup></span>
<span class="t" style='left:143.70px;top:118.00px;font:400 12.00px/1 "Liberation Sans", sans-serif;color:#5a5a5a;transform:scaleX(1.0128);'><sup>1</sup>Center for Biomedical Engineering, University of New Mexico, Albuquerque, NM 87131, USA, <sup>2</sup> Center for Micro-Engineered Materials,</span>
<span class="t" style='left:157.00px;top:132.00px;font:400 12.00px/1 "Liberation Sans", sans-serif;color:#5a5a5a;transform:scaleX(1.0148);'>University of New Mexico, Albuquerque, NM 87131, USA, <sup>3</sup>Department of Chemical and Biological Engineering, University of New</span>
<span class="t" style='left:153.50px;top:148.00px;font:400 12.00px/1 "Liberation Sans", sans-serif;color:#5a5a5a;transform:scaleX(1.0178);'>Mexico, Albuquerque, NM 87131, USA, and <sup>4</sup>Max Planck Institute for Medical Research, Department of Cellular Biophysics, 70569</span>
<span class="t" style='left:455.00px;top:162.00px;font:400 12.00px/1 "Liberation Sans", sans-serif;color:#5a5a5a;transform:scaleX(1.0259);'>Stuttgart, Germany</span>
<span class="t" style='left:15.20px;top:181.00px;font:700 14.30px/1 "DejaVu Serif", "Liberation Serif", serif;color:#c2103c;transform:scaleX(1.0418);-webkit-text-stroke:0.90px #c2103c;'>Hypothesis</span>
<span class="t" style='left:13.30px;top:274.00px;font:700 14.30px/1 "DejaVu Serif", "Liberation Serif", serif;color:#c2103c;-webkit-text-stroke:0.90px #c2103c;'>Introduction</span>
<span class="t" style='left:13.30px;top:407.00px;font:700 14.30px/1 "DejaVu Serif", "Liberation Serif", serif;color:#c2103c;transform:scaleX(0.9825);-webkit-text-stroke:0.90px #c2103c;'>Methods</span>
<span class="t" style='left:526.60px;top:181.00px;font:700 14.30px/1 "DejaVu Serif", "Liberation Serif", serif;color:#c2103c;transform:scaleX(0.9947);-webkit-text-stroke:0.90px #c2103c;'>Results</span>
<span class="t" style='left:520.30px;top:513.00px;font:700 14.30px/1 "DejaVu Serif", "Liberation Serif", serif;color:#c2103c;transform:scaleX(1.0422);-webkit-text-stroke:0.90px #c2103c;'>Discussion &amp; Future Directions</span>
<span class="t" style='left:5.00px;top:202.00px;font:400 10.00px/1 "Liberation Sans", sans-serif;color:#080808;transform:scaleX(1.0224);-webkit-text-stroke:0.30px #080808;'>We hypothesize that the interactions between a cationic intrinsically</span>
<span class="t" style='left:5.00px;top:215.00px;font:400 10.00px/1 "Liberation Sans", sans-serif;color:#080808;transform:scaleX(1.0051);-webkit-text-stroke:0.30px #080808;'>disordered protein (IDP) known as an elastin-like polypeptide (ELP) that</span>
<span class="t" style='left:5.00px;top:228.00px;font:400 10.00px/1 "Liberation Sans", sans-serif;color:#080808;transform:scaleX(0.9856);-webkit-text-stroke:0.30px #080808;'>is engineered to undergo Liquid-Liquid Phase Separation (LLPS), and its</span>
<span class="t" style='left:5.00px;top:242.00px;font:400 10.00px/1 "Liberation Sans", sans-serif;color:#080808;transform:scaleX(1.0116);-webkit-text-stroke:0.30px #080808;'>electrostatic association with single-stranded DNA (ssDNA) will form</span>
<span class="t" style='left:5.00px;top:255.00px;font:400 10.00px/1 "Liberation Sans", sans-serif;color:#080808;-webkit-text-stroke:0.30px #080808;'>synthetic nucleoprotein Membrane-Less Organelles (MLOs).</span>
<span class="t" style='left:15.10px;top:297.00px;font:700 9.40px/1 "Liberation Sans", sans-serif;color:#161616;transform:scaleX(1.0094);-webkit-text-stroke:0.15px #161616;text-shadow:1px 1.2px 1.2px rgba(0,0,0,.32);'>Protein</span>
<span class="t" style='left:67.10px;top:297.00px;font:700 9.40px/1 "Liberation Sans", sans-serif;color:#161616;-webkit-text-stroke:0.15px #161616;text-shadow:1px 1.2px 1.2px rgba(0,0,0,.32);'>Sequence</span>
<span class="t" style='left:168.00px;top:297.00px;font:700 9.40px/1 "Liberation Sans", sans-serif;color:#161616;-webkit-text-stroke:0.15px #161616;text-shadow:1px 1.2px 1.2px rgba(0,0,0,.32);'>X<sub>1</sub></span>
<span class="t" style='left:250.50px;top:297.00px;font:700 9.40px/1 "Liberation Sans", sans-serif;color:#161616;transform:scaleX(0.9831);-webkit-text-stroke:0.15px #161616;text-shadow:1px 1.2px 1.2px rgba(0,0,0,.32);'>Repeats (n)</span>
<span class="t" style='left:15.10px;top:311.00px;font:400 9.40px/1 "Liberation Sans", sans-serif;color:#161616;transform:scaleX(0.9012);-webkit-text-stroke:0.15px #161616;text-shadow:1px 1.2px 1.2px rgba(0,0,0,.32);'>ELP E3</span>
<span class="t" style='left:67.10px;top:311.00px;font:400 9.40px/1 "Liberation Sans", sans-serif;color:#161616;-webkit-text-stroke:0.15px #161616;text-shadow:1px 1.2px 1.2px rgba(0,0,0,.32);'>[(VPGX<sub>1</sub>G)<sub>10</sub>-GKG]<sub>8</sub></span>
<span class="t" style='left:168.00px;top:311.00px;font:400 9.40px/1 "Liberation Sans", sans-serif;color:#161616;transform:scaleX(1.0152);-webkit-text-stroke:0.15px #161616;text-shadow:1px 1.2px 1.2px rgba(0,0,0,.32);'>V (80%), A (20%)</span>
<span class="t" style='left:250.50px;top:311.00px;font:400 9.40px/1 "Liberation Sans", sans-serif;color:#161616;transform:scaleX(0.9581);-webkit-text-stroke:0.15px #161616;text-shadow:1px 1.2px 1.2px rgba(0,0,0,.32);'>80</span>
<span class="t" style='left:15.10px;top:328.00px;font:400 9.40px/1 "Liberation Sans", sans-serif;color:#161616;transform:scaleX(0.9409);-webkit-text-stroke:0.15px #161616;text-shadow:1px 1.2px 1.2px rgba(0,0,0,.32);'>ELP E1-40</span>
<span class="t" style='left:67.10px;top:328.00px;font:400 9.40px/1 "Liberation Sans", sans-serif;color:#161616;transform:scaleX(0.9685);-webkit-text-stroke:0.15px #161616;text-shadow:1px 1.2px 1.2px rgba(0,0,0,.32);'>MSKGPG (VPGVG)<sub>40</sub></span>
<span class="t" style='left:168.00px;top:328.00px;font:400 9.40px/1 "Liberation Sans", sans-serif;color:#161616;transform:scaleX(0.9950);-webkit-text-stroke:0.15px #161616;text-shadow:1px 1.2px 1.2px rgba(0,0,0,.32);'>V (100%)</span>
<span class="t" style='left:250.50px;top:328.00px;font:400 9.40px/1 "Liberation Sans", sans-serif;color:#161616;transform:scaleX(0.9581);-webkit-text-stroke:0.15px #161616;text-shadow:1px 1.2px 1.2px rgba(0,0,0,.32);'>40</span>
<span class="t" style='left:13.60px;top:354.00px;font:400 10.00px/1 "Liberation Sans", sans-serif;color:#080808;'>•</span>
<span class="t" style='left:19.50px;top:354.00px;font:400 10.00px/1 "Liberation Sans", sans-serif;color:#080808;transform:scaleX(0.9570);-webkit-text-stroke:0.30px #080808;'>Elastin Like Polypeptides (ELPs) as model IDPs</span>
<span class="t" style='left:13.60px;top:367.00px;font:400 10.00px/1 "Liberation Sans", sans-serif;color:#080808;'>•</span>
<span class="t" style='left:19.50px;top:367.00px;font:400 10.00px/1 "Liberation Sans", sans-serif;color:#080808;transform:scaleX(0.9912);-webkit-text-stroke:0.30px #080808;'>ELPs have reversible thermally responsive behavior</span>
<span class="t" style='left:13.60px;top:381.00px;font:400 10.00px/1 "Liberation Sans", sans-serif;color:#080808;'>•</span>
<span class="t" style='left:19.50px;top:381.00px;font:400 10.00px/1 "Liberation Sans", sans-serif;color:#080808;transform:scaleX(0.9742);-webkit-text-stroke:0.30px #080808;'>ELPs are Low Critical Solution Temperature (LCST) polymers</span>
<span class="t" style='left:9.10px;top:425.00px;font:700 8.60px/1 "Liberation Sans", sans-serif;color:#111;transform:scaleX(0.8910);-webkit-text-stroke:0.25px #111;'>1.&nbsp; UV-Vis Spectrophotometry- measure LLPS Transition Temperature Tt</span>
<span class="t" style='left:13.30px;top:558.00px;font:700 8.60px/1 "Liberation Sans", sans-serif;color:#111;transform:scaleX(0.8890);-webkit-text-stroke:0.25px #111;'>2. Fluorimetry- bulk electrostatic binding of DNA-Cy3 by E3</span>
<span class="t" style='left:324.40px;top:425.00px;font:700 8.60px/1 "Liberation Sans", sans-serif;color:#111;transform:scaleX(0.8984);-webkit-text-stroke:0.25px #111;'>3. Droplet-based microenvironments</span>
<span class="t" style='left:302.30px;top:558.00px;font:700 8.60px/1 "Liberation Sans", sans-serif;color:#111;transform:scaleX(0.8879);-webkit-text-stroke:0.25px #111;'>4. Temperature-controlled Fluorescence Microscopy</span>
<span class="t" style='left:182.70px;top:501.00px;font:400 8.30px/1 "Liberation Sans", sans-serif;color:#080808;transform:scaleX(0.9435);-webkit-text-stroke:0.15px #080808;'>ssDNA <b>lowers Tt</b> of cationic</span>
<span class="t" style='left:176.60px;top:501.00px;font:400 8.30px/1 "Liberation Sans", sans-serif;color:#080808;'>•</span>
<span class="t" style='left:182.70px;top:512.00px;font:400 8.30px/1 "Liberation Sans", sans-serif;color:#080808;transform:scaleX(0.9531);-webkit-text-stroke:0.15px #080808;'>polymer E3</span>
<span class="t" style='left:182.70px;top:522.00px;font:400 8.30px/1 "Liberation Sans", sans-serif;color:#080808;transform:scaleX(0.9300);-webkit-text-stroke:0.15px #080808;'>ssDNA <b>doesn’t alter Tt</b> of less</span>
<span class="t" style='left:176.60px;top:522.00px;font:400 8.30px/1 "Liberation Sans", sans-serif;color:#080808;'>•</span>
<span class="t" style='left:182.70px;top:533.00px;font:400 8.30px/1 "Liberation Sans", sans-serif;color:#080808;transform:scaleX(0.9715);-webkit-text-stroke:0.15px #080808;'>cationic polymer E1-40</span>
<span class="t" style='left:514.70px;top:452.00px;font:400 9.00px/1 "Liberation Sans", sans-serif;color:#080808;transform:scaleX(0.9957);-webkit-text-stroke:0.28px #080808;'><b>(A)</b> Effect of ssDNA (0.5 µM) on the phase diagram of <b>E3</b> in phosphate buffer. <b>(B)</b> Capture of ssDNA (0.5 µM) by <b>E3</b> at 55°C</span>
<span class="t" style='left:514.70px;top:464.00px;font:400 9.00px/1 "Liberation Sans", sans-serif;color:#080808;-webkit-text-stroke:0.28px #080808;'>(above <i>Tt</i>) with and without added NaCl (100 mM). <b>(C)</b> Images of fluorescently labeled ssDNA (0.5 µM) and <b>E3 and E1-40</b></span>
<span class="t" style='left:514.70px;top:476.00px;font:400 9.00px/1 "Liberation Sans", sans-serif;color:#080808;transform:scaleX(1.0107);-webkit-text-stroke:0.28px #080808;'>(1mM) in aqueous droplets suspended in oil (scale bar = 50 µm). Above T<sub>t</sub> and without added NaCl, the fluorescent DNA is</span>
<span class="t" style='left:514.70px;top:488.00px;font:400 9.00px/1 "Liberation Sans", sans-serif;color:#080808;transform:scaleX(0.9877);-webkit-text-stroke:0.28px #080808;'>efficiently sequestered in the <b>E3</b> coacervate phase. Adding NaCl results in electrostatic shielding leaving DNA uniformly</span>
<span class="t" style='left:514.70px;top:500.00px;font:400 9.00px/1 "Liberation Sans", sans-serif;color:#080808;transform:scaleX(1.0065);-webkit-text-stroke:0.28px #080808;'>distributed through the sample in both ELP phases.</span>
<span class="t" style='left:514.90px;top:532.00px;font:400 10.00px/1 "Liberation Sans", sans-serif;color:#080808;'>•</span>
<span class="t" style='left:521.40px;top:532.00px;font:400 10.00px/1 "Liberation Sans", sans-serif;color:#080808;transform:scaleX(0.9855);-webkit-text-stroke:0.30px #080808;'>On demand capture and release of nucleic acid driven by LLPS</span>
<span class="t" style='left:514.90px;top:545.00px;font:400 10.00px/1 "Liberation Sans", sans-serif;color:#080808;'>•</span>
<span class="t" style='left:521.40px;top:545.00px;font:400 10.00px/1 "Liberation Sans", sans-serif;color:#080808;transform:scaleX(0.9850);-webkit-text-stroke:0.30px #080808;'>ELPs as tunable phase separating agents that are highly modular</span>
<span class="t" style='left:517.40px;top:695.00px;font:400 10.00px/1 "Liberation Sans", sans-serif;color:#080808;transform:scaleX(1.0101);-webkit-text-stroke:0.30px #080808;'>Molecular component partitioning upon LLPS</span>
<span class="t" style='left:815.90px;top:542.00px;font:italic 400 10.30px/1 "Liberation Sans", sans-serif;color:#111;transform:scaleX(0.9663);'><span style="color:#e8171f">ssDNA-Cy3</span> capture of 3uM E3-RRM-RGG</span>
<span class="t" style='left:733.60px;top:672.00px;font:400 10.00px/1 "Liberation Sans", sans-serif;color:#080808;transform:scaleX(0.9880);-webkit-text-stroke:0.30px #080808;'>Incorporation of nucleic acid binding domain to LLPS ELP</span>
<span class="t" style='left:733.60px;top:684.00px;font:400 10.00px/1 "Liberation Sans", sans-serif;color:#080808;transform:scaleX(0.9884);-webkit-text-stroke:0.30px #080808;'>polymers: [(VPGX<sub>1</sub>G)<sub>10</sub>-GKG]<sub>8</sub>-RNA Recognition Motif (RRM)-</span>
<span class="t" style='left:733.60px;top:697.00px;font:400 10.00px/1 "Liberation Sans", sans-serif;color:#080808;transform:scaleX(0.9868);-webkit-text-stroke:0.30px #080808;'>Arginine Glycine rich domain (RGG)</span>
<span class="t" style='left:865.70px;top:444.00px;font:700 7.20px/1 "Liberation Sans", sans-serif;color:#f40c0c;transform:scaleX(0.9705);'>Cy3-ssDNA</span>
<span class="t" style='left:332.60px;top:282.00px;font:700 8.40px/1 "Liberation Sans", sans-serif;color:#111;transform:scaleX(0.8904);'>One - Phase</span>
<span class="t" style='left:457.80px;top:282.00px;font:700 8.40px/1 "Liberation Sans", sans-serif;color:#111;transform:scaleX(0.8953);'>Two - Phase</span>
<span class="t" style='left:334.90px;top:393.00px;font:400 5.30px/1 "Liberation Sans", sans-serif;color:#444;transform:scaleX(1.1463);'><b>Joensuu, et al.</b> <i>Recombinant Gene Expression. Methods in</i></span>
<span class="t" style='left:334.90px;top:401.00px;font:400 5.30px/1 "Liberation Sans", sans-serif;color:#444;transform:scaleX(1.1962);'><i>Molecular</i> Biology (Methods and Protocols), <b>824</b> (2012)</span>
</div></body></html>
